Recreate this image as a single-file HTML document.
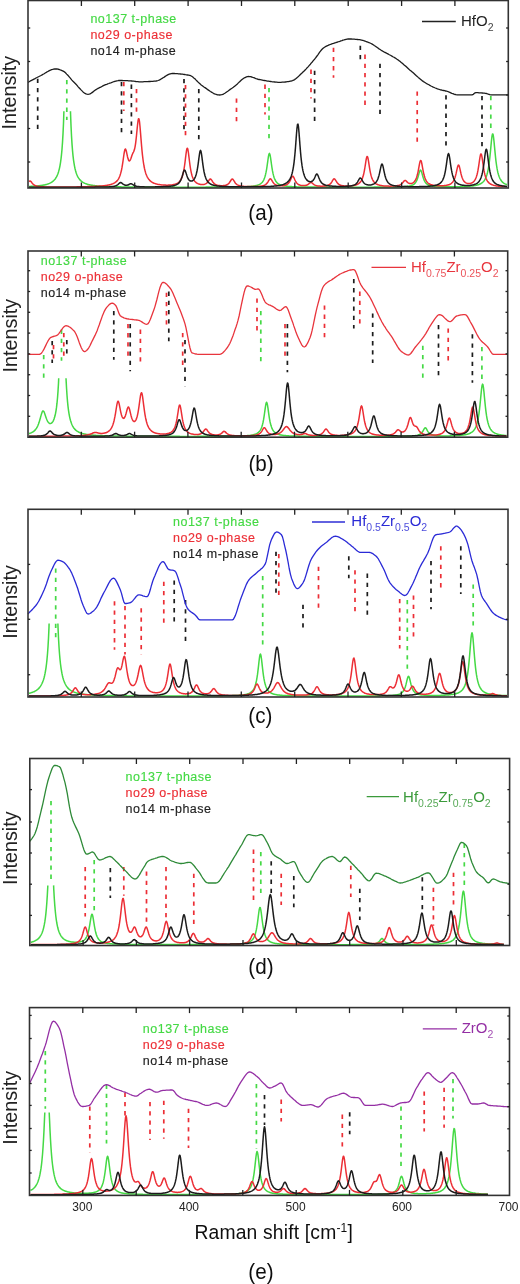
<!DOCTYPE html>
<html><head><meta charset="utf-8"><style>
html,body{margin:0;padding:0;background:#fff;}
body{width:520px;height:1284px;position:relative;overflow:hidden;font-family:"Liberation Sans", sans-serif;}
svg{position:absolute;left:0;top:0;}
.t{position:absolute;white-space:nowrap;line-height:1;}
</style></head><body>
<svg width="520" height="1284" viewBox="0 0 520 1284" shape-rendering="geometricPrecision">
<defs><filter id="bl" filterUnits="userSpaceOnUse" x="0" y="0" width="520" height="1284"><feGaussianBlur stdDeviation="0.35"/></filter></defs>
<rect width="520" height="1284" fill="#fff"/>
<g filter="url(#bl)">
<polyline fill="none" stroke="#44d944" stroke-width="1.5" stroke-linejoin="round" points="29.0,186.4 29.5,186.4 30.0,186.4 30.5,186.4 31.0,186.3 31.5,186.3 32.0,186.3 32.5,186.3 33.0,186.2 33.5,186.2 34.0,186.2 34.5,186.1 35.0,186.1 35.5,186.1 36.0,186.0 36.5,186.0 37.0,185.9 37.5,185.9 38.0,185.8 38.5,185.8 39.0,185.7 39.5,185.7 40.0,185.6 40.5,185.5 41.0,185.5 41.5,185.4 42.0,185.3 42.5,185.3 43.0,185.2 43.5,185.1 44.0,185.0 44.5,184.9 45.0,184.8 45.5,184.7 46.0,184.5 46.5,184.4 47.0,184.3 47.5,184.1 48.0,183.9 48.5,183.8 49.0,183.6 49.5,183.4 50.0,183.1 50.5,182.9 51.0,182.6 51.5,182.3 52.0,182.0 52.5,181.6 53.0,181.2 53.5,180.8 54.0,180.3 54.5,179.8 55.0,179.2 55.5,178.5 56.0,177.7 56.5,176.9 57.0,175.9 57.5,174.7 58.0,173.4 58.5,171.9 59.0,170.1 59.5,168.1 60.0,165.6 60.5,162.6 61.0,159.0 61.5,154.6 62.0,149.2 62.5,142.4 63.0,133.9 63.5,123.2 63.9,111.2"/>
<polyline fill="none" stroke="#44d944" stroke-width="1.5" stroke-linejoin="round" points="70.5,111.2 70.5,112.4 71.0,125.5 71.5,135.8 72.0,143.9 72.5,150.4 73.0,155.6 73.5,159.8 74.0,163.2 74.5,166.1 75.0,168.5 75.5,170.5 76.0,172.2 76.5,173.7 77.0,175.0 77.5,176.1 78.0,177.1 78.5,177.9 79.0,178.6 79.5,179.3 80.0,179.9 80.5,180.4 81.0,180.9 81.5,181.3 82.0,181.7 82.5,182.1 83.0,182.4 83.5,182.7 84.0,182.9 84.5,183.2 85.0,183.4 85.5,183.6 86.0,183.8 86.5,184.0 87.0,184.1 87.5,184.3 88.0,184.4 88.5,184.6 89.0,184.7 89.5,184.8 90.0,184.9 90.5,185.0 91.0,185.1 91.5,185.2 92.0,185.3 92.5,185.3 93.0,185.4 93.5,185.5 94.0,185.6 94.5,185.6 95.0,185.7 95.5,185.7 96.0,185.8 96.5,185.8 97.0,185.9 97.5,185.9 98.0,186.0 98.5,186.0 99.0,186.1 99.5,186.1 100.0,186.1 100.5,186.2 101.0,186.2 101.5,186.2 102.0,186.3 102.5,186.3 103.0,186.3 103.5,186.3 104.0,186.4 104.5,186.4 105.0,186.4 105.5,186.4 106.0,186.5 106.5,186.5 107.0,186.5 107.5,186.5 108.0,186.5 108.5,186.6 109.0,186.6 109.5,186.6 110.0,186.6 110.5,186.6 111.0,186.6 111.5,186.6 112.0,186.7 112.5,186.7 113.0,186.7 113.5,186.7 114.0,186.7 114.5,186.7 115.0,186.7 115.5,186.7 116.0,186.8 116.5,186.8 117.0,186.8 117.5,186.8 118.0,186.8 118.5,186.8 119.0,186.8 119.5,186.8 120.0,186.8 120.5,186.8 121.0,186.8 121.5,186.9 122.0,186.9 122.5,186.9 123.0,186.9 123.5,186.9 124.0,186.9 124.5,186.9 125.0,186.9 125.5,186.9 126.0,186.9 126.5,186.9 127.0,186.9 127.5,186.9 128.0,186.9 128.5,186.9 129.0,187.0 129.5,187.0 130.0,187.0 130.5,187.0 131.0,187.0 131.5,187.0 132.0,187.0 132.5,187.0 133.0,187.0 133.5,187.0 134.0,187.0 134.5,187.0 135.0,187.0 135.5,187.0 136.0,187.0 136.5,187.0 137.0,187.0 137.5,187.0 138.0,187.0 138.5,187.0 139.0,187.0 139.5,187.0 140.0,187.0 140.5,187.0 141.0,187.0 141.5,187.0 142.0,187.1 142.5,187.1 143.0,187.1 143.5,187.1 144.0,187.1 144.5,187.1 145.0,187.1 145.5,187.1 146.0,187.1 146.5,187.1 147.0,187.1 147.5,187.1 148.0,187.1 148.5,187.1 149.0,187.1 149.5,187.1 150.0,187.1 150.5,187.1 151.0,187.1 151.5,187.1 152.0,187.1 152.5,187.1 153.0,187.1 153.5,187.1 154.0,187.1 154.5,187.1 155.0,187.1 155.5,187.1 156.0,187.1 156.5,187.1 157.0,187.1 157.5,187.1 158.0,187.1 158.5,187.1 159.0,187.1 159.5,187.1 160.0,187.1 160.5,187.1 161.0,187.1 161.5,187.1 162.0,187.1 162.5,187.1 163.0,187.1 163.5,187.1 164.0,187.1 164.5,187.1 165.0,187.1 165.5,187.1 166.0,187.1 166.5,187.1 167.0,187.1 167.5,187.1 168.0,187.1 168.5,187.1 169.0,187.1 169.5,187.1 170.0,187.1 170.5,187.1 171.0,187.1 171.5,187.1 172.0,187.1 172.5,187.1 173.0,187.1 173.5,187.1 174.0,187.1 174.5,187.1 175.0,187.2 175.5,187.2 176.0,187.2 176.5,187.2 177.0,187.2 177.5,187.2 178.0,187.2 178.5,187.2 179.0,187.2 179.5,187.2 180.0,187.2 180.5,187.2 181.0,187.2 181.5,187.2 182.0,187.2 182.5,187.2 183.0,187.2 183.5,187.2 184.0,187.2 184.5,187.2 185.0,187.2 185.5,187.2 186.0,187.2 186.5,187.2 187.0,187.2 187.5,187.2 188.0,187.2 188.5,187.2 189.0,187.2 189.5,187.2 190.0,187.2 190.5,187.2 191.0,187.2 191.5,187.2 192.0,187.2 192.5,187.2 193.0,187.2 193.5,187.2 194.0,187.2 194.5,187.2 195.0,187.2 195.5,187.2 196.0,187.2 196.5,187.2 197.0,187.2 197.5,187.2 198.0,187.2 198.5,187.2 199.0,187.2 199.5,187.2 200.0,187.2 200.5,187.2 201.0,187.2 201.5,187.2 202.0,187.2 202.5,187.2 203.0,187.2 203.5,187.2 204.0,187.2 204.5,187.2 205.0,187.2 205.5,187.2 206.0,187.1 206.5,187.1 207.0,187.1 207.5,187.1 208.0,187.1 208.5,187.1 209.0,187.1 209.5,187.1 210.0,187.1 210.5,187.1 211.0,187.1 211.5,187.1 212.0,187.1 212.5,187.1 213.0,187.1 213.5,187.1 214.0,187.1 214.5,187.1 215.0,187.1 215.5,187.1 216.0,187.1 216.5,187.1 217.0,187.1 217.5,187.1 218.0,187.1 218.5,187.1 219.0,187.1 219.5,187.1 220.0,187.1 220.5,187.1 221.0,187.1 221.5,187.1 222.0,187.1 222.5,187.1 223.0,187.1 223.5,187.1 224.0,187.1 224.5,187.1 225.0,187.1 225.5,187.1 226.0,187.1 226.5,187.1 227.0,187.1 227.5,187.1 228.0,187.1 228.5,187.1 229.0,187.1 229.5,187.0 230.0,187.0 230.5,187.0 231.0,187.0 231.5,187.0 232.0,187.0 232.5,187.0 233.0,187.0 233.5,187.0 234.0,187.0 234.5,187.0 235.0,187.0 235.5,187.0 236.0,187.0 236.5,187.0 237.0,187.0 237.5,186.9 238.0,186.9 238.5,186.9 239.0,186.9 239.5,186.9 240.0,186.9 240.5,186.9 241.0,186.9 241.5,186.9 242.0,186.8 242.5,186.8 243.0,186.8 243.5,186.8 244.0,186.8 244.5,186.8 245.0,186.7 245.5,186.7 246.0,186.7 246.5,186.7 247.0,186.7 247.5,186.6 248.0,186.6 248.5,186.6 249.0,186.5 249.5,186.5 250.0,186.5 250.5,186.4 251.0,186.4 251.5,186.3 252.0,186.3 252.5,186.2 253.0,186.2 253.5,186.1 254.0,186.0 254.5,185.9 255.0,185.8 255.5,185.7 256.0,185.6 256.5,185.5 257.0,185.4 257.5,185.2 258.0,185.1 258.5,184.9 259.0,184.6 259.5,184.4 260.0,184.1 260.5,183.8 261.0,183.4 261.5,183.0 262.0,182.5 262.5,181.9 263.0,181.2 263.5,180.3 264.0,179.3 264.5,178.0 265.0,176.5 265.5,174.7 266.0,172.4 266.5,169.8 267.0,166.6 267.5,163.1 268.0,159.5 268.5,156.2 269.0,154.0 269.5,153.4 270.0,154.7 270.5,157.4 271.0,160.9 271.5,164.5 272.0,167.9 272.5,170.9 273.0,173.4 273.5,175.4 274.0,177.2 274.5,178.5 275.0,179.7 275.5,180.7 276.0,181.5 276.5,182.1 277.0,182.7 277.5,183.2 278.0,183.6 278.5,183.9 279.0,184.2 279.5,184.5 280.0,184.7 280.5,184.9 281.0,185.1 281.5,185.3 282.0,185.4 282.5,185.6 283.0,185.7 283.5,185.8 284.0,185.9 284.5,186.0 285.0,186.0 285.5,186.1 286.0,186.2 286.5,186.2 287.0,186.3 287.5,186.3 288.0,186.4 288.5,186.4 289.0,186.5 289.5,186.5 290.0,186.5 290.5,186.6 291.0,186.6 291.5,186.6 292.0,186.7 292.5,186.7 293.0,186.7 293.5,186.7 294.0,186.8 294.5,186.8 295.0,186.8 295.5,186.8 296.0,186.8 296.5,186.8 297.0,186.9 297.5,186.9 298.0,186.9 298.5,186.9 299.0,186.9 299.5,186.9 300.0,186.9 300.5,186.9 301.0,186.9 301.5,187.0 302.0,187.0 302.5,187.0 303.0,187.0 303.5,187.0 304.0,187.0 304.5,187.0 305.0,187.0 305.5,187.0 306.0,187.0 306.5,187.0 307.0,187.0 307.5,187.0 308.0,187.0 308.5,187.1 309.0,187.1 309.5,187.1 310.0,187.1 310.5,187.1 311.0,187.1 311.5,187.1 312.0,187.1 312.5,187.1 313.0,187.1 313.5,187.1 314.0,187.1 314.5,187.1 315.0,187.1 315.5,187.1 316.0,187.1 316.5,187.1 317.0,187.1 317.5,187.1 318.0,187.1 318.5,187.1 319.0,187.1 319.5,187.1 320.0,187.1 320.5,187.1 321.0,187.1 321.5,187.1 322.0,187.1 322.5,187.1 323.0,187.1 323.5,187.1 324.0,187.1 324.5,187.1 325.0,187.1 325.5,187.1 326.0,187.1 326.5,187.2 327.0,187.2 327.5,187.2 328.0,187.2 328.5,187.2 329.0,187.2 329.5,187.2 330.0,187.2 330.5,187.2 331.0,187.2 331.5,187.2 332.0,187.2 332.5,187.2 333.0,187.2 333.5,187.2 334.0,187.2 334.5,187.2 335.0,187.2 335.5,187.2 336.0,187.2 336.5,187.2 337.0,187.2 337.5,187.2 338.0,187.2 338.5,187.2 339.0,187.2 339.5,187.2 340.0,187.2 340.5,187.2 341.0,187.2 341.5,187.2 342.0,187.2 342.5,187.2 343.0,187.2 343.5,187.2 344.0,187.2 344.5,187.2 345.0,187.2 345.5,187.2 346.0,187.2 346.5,187.2 347.0,187.2 347.5,187.2 348.0,187.2 348.5,187.2 349.0,187.2 349.5,187.2 350.0,187.2 350.5,187.2 351.0,187.2 351.5,187.2 352.0,187.2 352.5,187.2 353.0,187.2 353.5,187.2 354.0,187.2 354.5,187.2 355.0,187.2 355.5,187.2 356.0,187.2 356.5,187.2 357.0,187.2 357.5,187.2 358.0,187.2 358.5,187.2 359.0,187.2 359.5,187.2 360.0,187.2 360.5,187.2 361.0,187.2 361.5,187.2 362.0,187.2 362.5,187.2 363.0,187.2 363.5,187.2 364.0,187.2 364.5,187.2 365.0,187.2 365.5,187.2 366.0,187.2 366.5,187.2 367.0,187.2 367.5,187.2 368.0,187.2 368.5,187.2 369.0,187.2 369.5,187.2 370.0,187.2 370.5,187.2 371.0,187.2 371.5,187.2 372.0,187.2 372.5,187.2 373.0,187.2 373.5,187.2 374.0,187.1 374.5,187.1 375.0,187.1 375.5,187.1 376.0,187.1 376.5,187.1 377.0,187.1 377.5,187.1 378.0,187.1 378.5,187.1 379.0,187.1 379.5,187.1 380.0,187.1 380.5,187.1 381.0,187.1 381.5,187.1 382.0,187.1 382.5,187.1 383.0,187.1 383.5,187.1 384.0,187.1 384.5,187.1 385.0,187.1 385.5,187.1 386.0,187.1 386.5,187.1 387.0,187.1 387.5,187.1 388.0,187.1 388.5,187.1 389.0,187.1 389.5,187.1 390.0,187.1 390.5,187.0 391.0,187.0 391.5,187.0 392.0,187.0 392.5,187.0 393.0,187.0 393.5,187.0 394.0,187.0 394.5,187.0 395.0,187.0 395.5,187.0 396.0,187.0 396.5,186.9 397.0,186.9 397.5,186.9 398.0,186.9 398.5,186.9 399.0,186.9 399.5,186.9 400.0,186.8 400.5,186.8 401.0,186.8 401.5,186.8 402.0,186.8 402.5,186.7 403.0,186.7 403.5,186.7 404.0,186.7 404.5,186.6 405.0,186.6 405.5,186.5 406.0,186.5 406.5,186.4 407.0,186.4 407.5,186.3 408.0,186.3 408.5,186.2 409.0,186.1 409.5,186.0 410.0,185.9 410.5,185.8 411.0,185.6 411.5,185.5 412.0,185.3 412.5,185.1 413.0,184.8 413.5,184.5 414.0,184.2 414.5,183.8 415.0,183.2 415.5,182.6 416.0,181.9 416.5,181.0 417.0,179.9 417.5,178.6 418.0,177.0 418.5,175.3 419.0,173.4 419.5,171.7 420.0,170.5 420.5,170.0 421.0,170.5 421.5,171.7 422.0,173.4 422.5,175.3 423.0,177.0 423.5,178.6 424.0,179.9 424.5,181.0 425.0,181.9 425.5,182.6 426.0,183.2 426.5,183.7 427.0,184.1 427.5,184.5 428.0,184.8 428.5,185.0 429.0,185.2 429.5,185.4 430.0,185.6 430.5,185.7 431.0,185.8 431.5,185.9 432.0,186.0 432.5,186.1 433.0,186.2 433.5,186.3 434.0,186.3 434.5,186.4 435.0,186.4 435.5,186.5 436.0,186.5 436.5,186.5 437.0,186.6 437.5,186.6 438.0,186.6 438.5,186.6 439.0,186.7 439.5,186.7 440.0,186.7 440.5,186.7 441.0,186.7 441.5,186.7 442.0,186.7 442.5,186.8 443.0,186.8 443.5,186.8 444.0,186.8 444.5,186.8 445.0,186.8 445.5,186.8 446.0,186.8 446.5,186.8 447.0,186.8 447.5,186.8 448.0,186.8 448.5,186.8 449.0,186.8 449.5,186.8 450.0,186.8 450.5,186.8 451.0,186.8 451.5,186.8 452.0,186.8 452.5,186.8 453.0,186.8 453.5,186.8 454.0,186.8 454.5,186.8 455.0,186.8 455.5,186.8 456.0,186.8 456.5,186.7 457.0,186.7 457.5,186.7 458.0,186.7 458.5,186.7 459.0,186.7 459.5,186.7 460.0,186.7 460.5,186.7 461.0,186.6 461.5,186.6 462.0,186.6 462.5,186.6 463.0,186.6 463.5,186.6 464.0,186.5 464.5,186.5 465.0,186.5 465.5,186.5 466.0,186.5 466.5,186.4 467.0,186.4 467.5,186.4 468.0,186.3 468.5,186.3 469.0,186.3 469.5,186.2 470.0,186.2 470.5,186.1 471.0,186.1 471.5,186.0 472.0,186.0 472.5,185.9 473.0,185.9 473.5,185.8 474.0,185.7 474.5,185.6 475.0,185.5 475.5,185.4 476.0,185.3 476.5,185.2 477.0,185.1 477.5,185.0 478.0,184.8 478.5,184.7 479.0,184.5 479.5,184.3 480.0,184.0 480.5,183.8 481.0,183.5 481.5,183.2 482.0,182.8 482.5,182.4 483.0,182.0 483.5,181.5 484.0,180.9 484.5,180.2 485.0,179.4 485.5,178.4 486.0,177.3 486.5,176.0 487.0,174.4 487.5,172.5 488.0,170.3 488.5,167.6 489.0,164.3 489.5,160.5 490.0,156.0 490.5,150.9 491.0,145.5 491.5,140.3 492.0,136.1 492.5,133.9 493.0,134.2 493.5,136.9 494.0,141.3 494.5,146.6 495.0,151.9 495.5,156.9 496.0,161.3 496.5,165.0 497.0,168.2 497.5,170.8 498.0,173.0 498.5,174.8 499.0,176.3 499.5,177.6 500.0,178.6 500.5,179.5 501.0,180.3 501.5,181.0 502.0,181.6 502.5,182.1 503.0,182.6 503.5,182.9 504.0,183.3 504.5,183.6 505.0,183.9 505.5,184.1 506.0,184.3 506.5,184.5 507.0,184.7"/>
<polyline fill="none" stroke="#ec2f36" stroke-width="1.5" stroke-linejoin="round" points="29.0,181.6 29.5,181.2 30.0,181.0 30.5,181.2 31.0,181.6 31.5,182.2 32.0,182.9 32.5,183.5 33.0,184.1 33.5,184.5 34.0,184.9 34.5,185.3 35.0,185.5 35.5,185.7 36.0,185.9 36.5,186.1 37.0,186.2 37.5,186.3 38.0,186.4 38.5,186.5 39.0,186.5 39.5,186.6 40.0,186.6 40.5,186.7 41.0,186.7 41.5,186.7 42.0,186.8 42.5,186.8 43.0,186.8 43.5,186.8 44.0,186.8 44.5,186.9 45.0,186.9 45.5,186.9 46.0,186.9 46.5,186.9 47.0,186.9 47.5,186.9 48.0,186.9 48.5,186.9 49.0,186.9 49.5,187.0 50.0,187.0 50.5,187.0 51.0,187.0 51.5,187.0 52.0,187.0 52.5,187.0 53.0,187.0 53.5,187.0 54.0,187.0 54.5,187.0 55.0,187.0 55.5,187.0 56.0,187.0 56.5,187.0 57.0,187.0 57.5,187.0 58.0,187.0 58.5,187.0 59.0,187.0 59.5,187.0 60.0,187.0 60.5,187.0 61.0,187.0 61.5,187.0 62.0,187.0 62.5,187.0 63.0,187.0 63.5,187.0 64.0,187.0 64.5,187.0 65.0,187.0 65.5,187.0 66.0,187.0 66.5,186.9 67.0,186.9 67.5,186.9 68.0,186.9 68.5,186.9 69.0,186.9 69.5,186.9 70.0,186.9 70.5,186.9 71.0,186.9 71.5,186.9 72.0,186.9 72.5,186.9 73.0,186.9 73.5,186.9 74.0,186.9 74.5,186.9 75.0,186.9 75.5,186.9 76.0,186.9 76.5,186.9 77.0,186.8 77.5,186.8 78.0,186.8 78.5,186.8 79.0,186.8 79.5,186.8 80.0,186.8 80.5,186.8 81.0,186.8 81.5,186.8 82.0,186.8 82.5,186.8 83.0,186.7 83.5,186.7 84.0,186.7 84.5,186.7 85.0,186.7 85.5,186.7 86.0,186.7 86.5,186.7 87.0,186.7 87.5,186.6 88.0,186.6 88.5,186.6 89.0,186.6 89.5,186.6 90.0,186.6 90.5,186.6 91.0,186.5 91.5,186.5 92.0,186.5 92.5,186.5 93.0,186.5 93.5,186.4 94.0,186.4 94.5,186.4 95.0,186.4 95.5,186.4 96.0,186.3 96.5,186.3 97.0,186.3 97.5,186.3 98.0,186.2 98.5,186.2 99.0,186.2 99.5,186.1 100.0,186.1 100.5,186.0 101.0,186.0 101.5,186.0 102.0,185.9 102.5,185.9 103.0,185.8 103.5,185.8 104.0,185.7 104.5,185.7 105.0,185.6 105.5,185.5 106.0,185.5 106.5,185.4 107.0,185.3 107.5,185.2 108.0,185.1 108.5,185.0 109.0,184.9 109.5,184.8 110.0,184.7 110.5,184.6 111.0,184.4 111.5,184.2 112.0,184.1 112.5,183.9 113.0,183.7 113.5,183.4 114.0,183.2 114.5,182.9 115.0,182.6 115.5,182.2 116.0,181.8 116.5,181.4 117.0,180.9 117.5,180.3 118.0,179.6 118.5,178.8 119.0,177.9 119.5,176.8 120.0,175.5 120.5,173.9 121.0,172.1 121.5,170.0 122.0,167.4 122.5,164.4 123.0,161.1 123.5,157.5 124.0,154.0 124.5,151.1 125.0,149.3 125.5,149.0 126.0,150.0 126.5,152.0 127.0,154.4 127.5,156.7 128.0,158.6 128.5,160.0 129.0,160.8 129.5,160.9 130.0,160.5 130.5,159.6 131.0,158.3 131.5,156.8 132.0,155.3 132.5,154.0 133.0,152.9 133.5,152.0 134.0,150.9 134.5,149.3 135.0,147.1 135.5,144.1 136.0,140.2 136.5,135.5 137.0,130.3 137.5,125.2 138.0,121.0 138.5,118.7 139.0,118.9 139.5,121.7 140.0,126.5 140.5,132.6 141.0,138.9 141.5,145.0 142.0,150.6 142.5,155.4 143.0,159.5 143.5,163.0 144.0,166.0 144.5,168.5 145.0,170.6 145.5,172.4 146.0,173.9 146.5,175.2 147.0,176.3 147.5,177.3 148.0,178.1 148.5,178.9 149.0,179.5 149.5,180.1 150.0,180.6 150.5,181.1 151.0,181.5 151.5,181.8 152.0,182.2 152.5,182.5 153.0,182.7 153.5,183.0 154.0,183.2 154.5,183.4 155.0,183.6 155.5,183.7 156.0,183.9 156.5,184.0 157.0,184.1 157.5,184.3 158.0,184.4 158.5,184.5 159.0,184.6 159.5,184.6 160.0,184.7 160.5,184.8 161.0,184.8 161.5,184.9 162.0,184.9 162.5,185.0 163.0,185.0 163.5,185.1 164.0,185.1 164.5,185.1 165.0,185.1 165.5,185.1 166.0,185.2 166.5,185.2 167.0,185.2 167.5,185.2 168.0,185.2 168.5,185.1 169.0,185.1 169.5,185.1 170.0,185.1 170.5,185.0 171.0,185.0 171.5,184.9 172.0,184.9 172.5,184.8 173.0,184.7 173.5,184.6 174.0,184.5 174.5,184.4 175.0,184.2 175.5,184.1 176.0,183.9 176.5,183.7 177.0,183.5 177.5,183.2 178.0,182.9 178.5,182.5 179.0,182.1 179.5,181.6 180.0,181.0 180.5,180.3 181.0,179.4 181.5,178.4 182.0,177.2 182.5,175.7 183.0,174.0 183.5,171.8 184.0,169.1 184.5,166.0 185.0,162.3 185.5,158.2 186.0,154.1 186.5,150.6 187.0,148.4 187.5,148.2 188.0,150.0 188.5,153.3 189.0,157.4 189.5,161.5 190.0,165.3 190.5,168.6 191.0,171.3 191.5,173.6 192.0,175.5 192.5,177.0 193.0,178.2 193.5,179.3 194.0,180.2 194.5,180.9 195.0,181.5 195.5,182.0 196.0,182.5 196.5,182.8 197.0,183.2 197.5,183.4 198.0,183.7 198.5,183.9 199.0,184.0 199.5,184.2 200.0,184.3 200.5,184.4 201.0,184.5 201.5,184.5 202.0,184.5 202.5,184.5 203.0,184.5 203.5,184.5 204.0,184.4 204.5,184.3 205.0,184.1 205.5,183.9 206.0,183.6 206.5,183.3 207.0,182.9 207.5,182.3 208.0,181.7 208.5,181.0 209.0,180.2 209.5,179.6 210.0,179.1 210.5,179.0 211.0,179.3 211.5,179.9 212.0,180.7 212.5,181.5 213.0,182.2 213.5,182.8 214.0,183.4 214.5,183.8 215.0,184.2 215.5,184.5 216.0,184.8 216.5,185.0 217.0,185.1 217.5,185.3 218.0,185.4 218.5,185.5 219.0,185.5 219.5,185.6 220.0,185.6 220.5,185.7 221.0,185.7 221.5,185.7 222.0,185.7 222.5,185.7 223.0,185.7 223.5,185.6 224.0,185.6 224.5,185.5 225.0,185.4 225.5,185.3 226.0,185.1 226.5,185.0 227.0,184.7 227.5,184.4 228.0,184.1 228.5,183.7 229.0,183.2 229.5,182.5 230.0,181.8 230.5,181.0 231.0,180.2 231.5,179.5 232.0,179.1 232.5,179.0 233.0,179.4 233.5,180.1 234.0,180.9 234.5,181.7 235.0,182.5 235.5,183.2 236.0,183.7 236.5,184.2 237.0,184.6 237.5,184.9 238.0,185.1 238.5,185.4 239.0,185.5 239.5,185.7 240.0,185.8 240.5,185.9 241.0,186.0 241.5,186.1 242.0,186.2 242.5,186.2 243.0,186.3 243.5,186.3 244.0,186.4 244.5,186.4 245.0,186.4 245.5,186.5 246.0,186.5 246.5,186.5 247.0,186.5 247.5,186.5 248.0,186.5 248.5,186.6 249.0,186.6 249.5,186.6 250.0,186.6 250.5,186.6 251.0,186.6 251.5,186.6 252.0,186.6 252.5,186.6 253.0,186.6 253.5,186.6 254.0,186.6 254.5,186.6 255.0,186.5 255.5,186.5 256.0,186.5 256.5,186.5 257.0,186.5 257.5,186.4 258.0,186.4 258.5,186.4 259.0,186.3 259.5,186.3 260.0,186.2 260.5,186.2 261.0,186.1 261.5,186.0 262.0,186.0 262.5,185.8 263.0,185.7 263.5,185.6 264.0,185.4 264.5,185.2 265.0,184.9 265.5,184.6 266.0,184.2 266.5,183.8 267.0,183.2 267.5,182.6 268.0,181.8 268.5,180.9 269.0,180.1 269.5,179.3 270.0,178.9 270.5,178.8 271.0,179.2 271.5,179.9 272.0,180.7 272.5,181.6 273.0,182.3 273.5,183.0 274.0,183.6 274.5,184.0 275.0,184.4 275.5,184.7 276.0,185.0 276.5,185.2 277.0,185.3 277.5,185.4 278.0,185.5 278.5,185.6 279.0,185.7 279.5,185.7 280.0,185.8 280.5,185.8 281.0,185.8 281.5,185.8 282.0,185.8 282.5,185.7 283.0,185.7 283.5,185.6 284.0,185.5 284.5,185.4 285.0,185.3 285.5,185.1 286.0,185.0 286.5,184.7 287.0,184.5 287.5,184.1 288.0,183.7 288.5,183.2 289.0,182.6 289.5,181.8 290.0,180.9 290.5,179.9 291.0,178.8 291.5,177.7 292.0,176.7 292.5,176.2 293.0,176.3 293.5,176.9 294.0,177.9 294.5,179.0 295.0,180.1 295.5,181.1 296.0,182.0 296.5,182.7 297.0,183.3 297.5,183.8 298.0,184.2 298.5,184.5 299.0,184.8 299.5,185.0 300.0,185.1 300.5,185.3 301.0,185.4 301.5,185.5 302.0,185.5 302.5,185.6 303.0,185.6 303.5,185.6 304.0,185.6 304.5,185.6 305.0,185.5 305.5,185.5 306.0,185.3 306.5,185.2 307.0,185.0 307.5,184.8 308.0,184.5 308.5,184.1 309.0,183.7 309.5,183.3 310.0,182.9 310.5,182.6 311.0,182.5 311.5,182.6 312.0,182.9 312.5,183.3 313.0,183.8 313.5,184.2 314.0,184.6 314.5,184.9 315.0,185.2 315.5,185.4 316.0,185.6 316.5,185.7 317.0,185.8 317.5,185.9 318.0,186.0 318.5,186.0 319.0,186.1 319.5,186.1 320.0,186.1 320.5,186.2 321.0,186.2 321.5,186.2 322.0,186.2 322.5,186.2 323.0,186.1 323.5,186.1 324.0,186.1 324.5,186.0 325.0,186.0 325.5,185.9 326.0,185.8 326.5,185.7 327.0,185.6 327.5,185.4 328.0,185.3 328.5,185.0 329.0,184.8 329.5,184.5 330.0,184.1 330.5,183.6 331.0,183.1 331.5,182.4 332.0,181.6 332.5,180.7 333.0,179.9 333.5,179.2 334.0,178.8 334.5,178.9 335.0,179.3 335.5,180.1 336.0,180.9 336.5,181.7 337.0,182.5 337.5,183.1 338.0,183.7 338.5,184.1 339.0,184.5 339.5,184.8 340.0,185.0 340.5,185.2 341.0,185.4 341.5,185.5 342.0,185.6 342.5,185.7 343.0,185.8 343.5,185.8 344.0,185.9 344.5,185.9 345.0,186.0 345.5,186.0 346.0,186.0 346.5,186.0 347.0,186.0 347.5,186.0 348.0,186.0 348.5,186.0 349.0,186.0 349.5,185.9 350.0,185.9 350.5,185.9 351.0,185.8 351.5,185.8 352.0,185.7 352.5,185.7 353.0,185.6 353.5,185.5 354.0,185.4 354.5,185.3 355.0,185.2 355.5,185.0 356.0,184.9 356.5,184.7 357.0,184.5 357.5,184.3 358.0,184.0 358.5,183.7 359.0,183.3 359.5,182.9 360.0,182.4 360.5,181.9 361.0,181.2 361.5,180.3 362.0,179.3 362.5,178.1 363.0,176.6 363.5,174.8 364.0,172.6 364.5,170.0 365.0,167.0 365.5,163.8 366.0,160.5 366.5,157.9 367.0,156.4 367.5,156.6 368.0,158.3 368.5,161.2 369.0,164.4 369.5,167.7 370.0,170.6 370.5,173.1 371.0,175.2 371.5,176.9 372.0,178.4 372.5,179.5 373.0,180.5 373.5,181.3 374.0,182.0 374.5,182.5 375.0,183.0 375.5,183.4 376.0,183.8 376.5,184.1 377.0,184.3 377.5,184.5 378.0,184.7 378.5,184.9 379.0,185.1 379.5,185.2 380.0,185.3 380.5,185.4 381.0,185.5 381.5,185.6 382.0,185.7 382.5,185.7 383.0,185.8 383.5,185.9 384.0,185.9 384.5,186.0 385.0,186.0 385.5,186.0 386.0,186.1 386.5,186.1 387.0,186.1 387.5,186.1 388.0,186.1 388.5,186.1 389.0,186.2 389.5,186.2 390.0,186.2 390.5,186.2 391.0,186.2 391.5,186.1 392.0,186.1 392.5,186.1 393.0,186.1 393.5,186.1 394.0,186.0 394.5,186.0 395.0,186.0 395.5,185.9 396.0,185.9 396.5,185.8 397.0,185.7 397.5,185.6 398.0,185.5 398.5,185.4 399.0,185.3 399.5,185.1 400.0,184.9 400.5,184.6 401.0,184.3 401.5,183.9 402.0,183.4 402.5,182.9 403.0,182.3 403.5,181.7 404.0,181.1 404.5,180.6 405.0,180.4 405.5,180.5 406.0,180.8 406.5,181.3 407.0,181.9 407.5,182.3 408.0,182.8 408.5,183.1 409.0,183.3 409.5,183.5 410.0,183.5 410.5,183.6 411.0,183.5 411.5,183.4 412.0,183.3 412.5,183.1 413.0,182.8 413.5,182.4 414.0,182.0 414.5,181.4 415.0,180.8 415.5,179.9 416.0,178.9 416.5,177.7 417.0,176.1 417.5,174.3 418.0,172.1 418.5,169.5 419.0,166.7 419.5,163.9 420.0,161.7 420.5,160.4 421.0,160.6 421.5,162.1 422.0,164.5 422.5,167.3 423.0,170.1 423.5,172.6 424.0,174.8 424.5,176.6 425.0,178.1 425.5,179.4 426.0,180.4 426.5,181.2 427.0,181.9 427.5,182.5 428.0,183.0 428.5,183.4 429.0,183.7 429.5,184.0 430.0,184.3 430.5,184.5 431.0,184.7 431.5,184.8 432.0,185.0 432.5,185.1 433.0,185.2 433.5,185.3 434.0,185.4 434.5,185.5 435.0,185.5 435.5,185.6 436.0,185.7 436.5,185.7 437.0,185.7 437.5,185.8 438.0,185.8 438.5,185.8 439.0,185.8 439.5,185.8 440.0,185.8 440.5,185.8 441.0,185.8 441.5,185.8 442.0,185.8 442.5,185.8 443.0,185.7 443.5,185.7 444.0,185.7 444.5,185.6 445.0,185.6 445.5,185.5 446.0,185.4 446.5,185.3 447.0,185.2 447.5,185.1 448.0,185.0 448.5,184.8 449.0,184.7 449.5,184.5 450.0,184.2 450.5,184.0 451.0,183.7 451.5,183.3 452.0,182.8 452.5,182.3 453.0,181.7 453.5,180.9 454.0,180.0 454.5,178.9 455.0,177.5 455.5,175.8 456.0,173.9 456.5,171.7 457.0,169.3 457.5,167.2 458.0,165.6 458.5,165.0 459.0,165.6 459.5,167.1 460.0,169.2 460.5,171.5 461.0,173.7 461.5,175.6 462.0,177.2 462.5,178.5 463.0,179.6 463.5,180.5 464.0,181.2 464.5,181.8 465.0,182.2 465.5,182.6 466.0,182.9 466.5,183.1 467.0,183.3 467.5,183.4 468.0,183.5 468.5,183.6 469.0,183.6 469.5,183.5 470.0,183.5 470.5,183.4 471.0,183.2 471.5,183.1 472.0,182.8 472.5,182.5 473.0,182.2 473.5,181.8 474.0,181.3 474.5,180.6 475.0,179.9 475.5,178.9 476.0,177.8 476.5,176.4 477.0,174.7 477.5,172.7 478.0,170.2 478.5,167.2 479.0,163.9 479.5,160.3 480.0,157.1 480.5,154.7 481.0,153.8 481.5,154.7 482.0,157.1 482.5,160.4 483.0,164.0 483.5,167.4 484.0,170.4 484.5,172.9 485.0,175.0 485.5,176.8 486.0,178.2 486.5,179.4 487.0,180.4 487.5,181.2 488.0,181.9 488.5,182.4 489.0,182.9 489.5,183.3 490.0,183.7 490.5,184.0 491.0,184.3 491.5,184.5 492.0,184.7 492.5,184.9 493.0,185.1 493.5,185.3 494.0,185.4 494.5,185.5 495.0,185.6 495.5,185.7 496.0,185.8 496.5,185.9 497.0,186.0 497.5,186.0 498.0,186.1 498.5,186.2 499.0,186.2 499.5,186.3 500.0,186.3 500.5,186.3 501.0,186.4 501.5,186.4 502.0,186.5 502.5,186.5 503.0,186.5 503.5,186.6 504.0,186.6 504.5,186.6 505.0,186.6 505.5,186.7 506.0,186.7 506.5,186.7 507.0,186.7"/>
<polyline fill="none" stroke="#1c1c1c" stroke-width="1.5" stroke-linejoin="round" points="29.0,187.3 29.5,187.3 30.0,187.3 30.5,187.3 31.0,187.3 31.5,187.3 32.0,187.3 32.5,187.3 33.0,187.3 33.5,187.3 34.0,187.3 34.5,187.3 35.0,187.3 35.5,187.3 36.0,187.3 36.5,187.3 37.0,187.3 37.5,187.3 38.0,187.3 38.5,187.3 39.0,187.3 39.5,187.3 40.0,187.3 40.5,187.3 41.0,187.3 41.5,187.3 42.0,187.3 42.5,187.3 43.0,187.3 43.5,187.3 44.0,187.3 44.5,187.3 45.0,187.3 45.5,187.3 46.0,187.3 46.5,187.3 47.0,187.3 47.5,187.3 48.0,187.2 48.5,187.2 49.0,187.2 49.5,187.2 50.0,187.2 50.5,187.2 51.0,187.2 51.5,187.2 52.0,187.2 52.5,187.2 53.0,187.2 53.5,187.2 54.0,187.2 54.5,187.2 55.0,187.2 55.5,187.2 56.0,187.2 56.5,187.2 57.0,187.2 57.5,187.2 58.0,187.2 58.5,187.2 59.0,187.2 59.5,187.2 60.0,187.2 60.5,187.2 61.0,187.2 61.5,187.2 62.0,187.2 62.5,187.2 63.0,187.2 63.5,187.2 64.0,187.2 64.5,187.2 65.0,187.2 65.5,187.2 66.0,187.2 66.5,187.2 67.0,187.2 67.5,187.2 68.0,187.2 68.5,187.2 69.0,187.2 69.5,187.2 70.0,187.2 70.5,187.2 71.0,187.2 71.5,187.2 72.0,187.2 72.5,187.2 73.0,187.2 73.5,187.2 74.0,187.2 74.5,187.2 75.0,187.2 75.5,187.2 76.0,187.2 76.5,187.2 77.0,187.2 77.5,187.2 78.0,187.2 78.5,187.2 79.0,187.2 79.5,187.2 80.0,187.2 80.5,187.2 81.0,187.2 81.5,187.2 82.0,187.2 82.5,187.2 83.0,187.2 83.5,187.2 84.0,187.2 84.5,187.2 85.0,187.2 85.5,187.2 86.0,187.2 86.5,187.2 87.0,187.2 87.5,187.2 88.0,187.2 88.5,187.2 89.0,187.2 89.5,187.2 90.0,187.2 90.5,187.2 91.0,187.2 91.5,187.2 92.0,187.2 92.5,187.2 93.0,187.2 93.5,187.2 94.0,187.2 94.5,187.2 95.0,187.1 95.5,187.1 96.0,187.1 96.5,187.1 97.0,187.1 97.5,187.1 98.0,187.1 98.5,187.1 99.0,187.1 99.5,187.1 100.0,187.1 100.5,187.1 101.0,187.1 101.5,187.1 102.0,187.1 102.5,187.1 103.0,187.1 103.5,187.0 104.0,187.0 104.5,187.0 105.0,187.0 105.5,187.0 106.0,187.0 106.5,187.0 107.0,187.0 107.5,186.9 108.0,186.9 108.5,186.9 109.0,186.9 109.5,186.8 110.0,186.8 110.5,186.8 111.0,186.7 111.5,186.7 112.0,186.6 112.5,186.6 113.0,186.5 113.5,186.4 114.0,186.3 114.5,186.2 115.0,186.1 115.5,185.9 116.0,185.7 116.5,185.5 117.0,185.2 117.5,184.9 118.0,184.5 118.5,184.0 119.0,183.5 119.5,183.1 120.0,182.7 120.5,182.5 121.0,182.6 121.5,182.8 122.0,183.2 122.5,183.7 123.0,184.1 123.5,184.4 124.0,184.7 124.5,185.0 125.0,185.1 125.5,185.2 126.0,185.3 126.5,185.3 127.0,185.2 127.5,185.1 128.0,185.0 128.5,184.8 129.0,184.5 129.5,184.2 130.0,183.9 130.5,183.8 131.0,183.7 131.5,183.8 132.0,184.1 132.5,184.4 133.0,184.7 133.5,185.1 134.0,185.4 134.5,185.6 135.0,185.8 135.5,186.0 136.0,186.1 136.5,186.3 137.0,186.4 137.5,186.4 138.0,186.5 138.5,186.6 139.0,186.6 139.5,186.7 140.0,186.7 140.5,186.7 141.0,186.7 141.5,186.8 142.0,186.8 142.5,186.8 143.0,186.8 143.5,186.8 144.0,186.8 144.5,186.9 145.0,186.9 145.5,186.9 146.0,186.9 146.5,186.9 147.0,186.9 147.5,186.9 148.0,186.9 148.5,186.9 149.0,186.9 149.5,186.9 150.0,186.9 150.5,186.9 151.0,186.9 151.5,186.9 152.0,186.9 152.5,186.9 153.0,186.9 153.5,186.9 154.0,186.9 154.5,186.9 155.0,186.9 155.5,186.8 156.0,186.8 156.5,186.8 157.0,186.8 157.5,186.8 158.0,186.8 158.5,186.8 159.0,186.8 159.5,186.8 160.0,186.8 160.5,186.7 161.0,186.7 161.5,186.7 162.0,186.7 162.5,186.7 163.0,186.7 163.5,186.6 164.0,186.6 164.5,186.6 165.0,186.6 165.5,186.6 166.0,186.5 166.5,186.5 167.0,186.5 167.5,186.4 168.0,186.4 168.5,186.4 169.0,186.3 169.5,186.3 170.0,186.2 170.5,186.2 171.0,186.1 171.5,186.0 172.0,185.9 172.5,185.9 173.0,185.8 173.5,185.7 174.0,185.5 174.5,185.4 175.0,185.3 175.5,185.1 176.0,184.9 176.5,184.7 177.0,184.4 177.5,184.1 178.0,183.8 178.5,183.4 179.0,182.9 179.5,182.3 180.0,181.5 180.5,180.7 181.0,179.6 181.5,178.3 182.0,176.9 182.5,175.2 183.0,173.4 183.5,171.7 184.0,170.5 184.5,170.0 185.0,170.4 185.5,171.4 186.0,172.9 186.5,174.6 187.0,176.1 187.5,177.4 188.0,178.5 188.5,179.3 189.0,180.0 189.5,180.5 190.0,180.8 190.5,181.0 191.0,181.1 191.5,181.1 192.0,181.0 192.5,180.8 193.0,180.4 193.5,180.0 194.0,179.4 194.5,178.6 195.0,177.7 195.5,176.5 196.0,175.0 196.5,173.2 197.0,171.0 197.5,168.3 198.0,165.1 198.5,161.4 199.0,157.5 199.5,154.0 200.0,151.3 200.5,150.4 201.0,151.4 201.5,154.1 202.0,157.7 202.5,161.7 203.0,165.4 203.5,168.7 204.0,171.5 204.5,173.8 205.0,175.7 205.5,177.3 206.0,178.6 206.5,179.6 207.0,180.5 207.5,181.3 208.0,181.9 208.5,182.5 209.0,182.9 209.5,183.3 210.0,183.7 210.5,184.0 211.0,184.2 211.5,184.5 212.0,184.7 212.5,184.9 213.0,185.0 213.5,185.2 214.0,185.3 214.5,185.4 215.0,185.5 215.5,185.6 216.0,185.7 216.5,185.8 217.0,185.9 217.5,185.9 218.0,186.0 218.5,186.1 219.0,186.1 219.5,186.2 220.0,186.2 220.5,186.3 221.0,186.3 221.5,186.3 222.0,186.4 222.5,186.4 223.0,186.4 223.5,186.5 224.0,186.5 224.5,186.5 225.0,186.5 225.5,186.5 226.0,186.6 226.5,186.6 227.0,186.6 227.5,186.6 228.0,186.6 228.5,186.7 229.0,186.7 229.5,186.7 230.0,186.7 230.5,186.7 231.0,186.7 231.5,186.7 232.0,186.7 232.5,186.7 233.0,186.8 233.5,186.8 234.0,186.8 234.5,186.8 235.0,186.8 235.5,186.8 236.0,186.8 236.5,186.8 237.0,186.8 237.5,186.8 238.0,186.8 238.5,186.8 239.0,186.8 239.5,186.8 240.0,186.8 240.5,186.8 241.0,186.8 241.5,186.8 242.0,186.8 242.5,186.8 243.0,186.8 243.5,186.8 244.0,186.8 244.5,186.8 245.0,186.8 245.5,186.8 246.0,186.8 246.5,186.8 247.0,186.8 247.5,186.8 248.0,186.8 248.5,186.8 249.0,186.8 249.5,186.8 250.0,186.8 250.5,186.8 251.0,186.8 251.5,186.8 252.0,186.8 252.5,186.8 253.0,186.8 253.5,186.8 254.0,186.8 254.5,186.8 255.0,186.8 255.5,186.8 256.0,186.8 256.5,186.8 257.0,186.8 257.5,186.8 258.0,186.7 258.5,186.7 259.0,186.7 259.5,186.7 260.0,186.7 260.5,186.7 261.0,186.7 261.5,186.7 262.0,186.7 262.5,186.7 263.0,186.7 263.5,186.6 264.0,186.6 264.5,186.6 265.0,186.6 265.5,186.6 266.0,186.6 266.5,186.5 267.0,186.5 267.5,186.5 268.0,186.5 268.5,186.5 269.0,186.4 269.5,186.4 270.0,186.4 270.5,186.4 271.0,186.3 271.5,186.3 272.0,186.3 272.5,186.2 273.0,186.2 273.5,186.2 274.0,186.1 274.5,186.1 275.0,186.0 275.5,186.0 276.0,185.9 276.5,185.9 277.0,185.8 277.5,185.8 278.0,185.7 278.5,185.6 279.0,185.5 279.5,185.5 280.0,185.4 280.5,185.3 281.0,185.1 281.5,185.0 282.0,184.9 282.5,184.8 283.0,184.6 283.5,184.4 284.0,184.2 284.5,184.0 285.0,183.8 285.5,183.5 286.0,183.2 286.5,182.9 287.0,182.5 287.5,182.1 288.0,181.7 288.5,181.1 289.0,180.5 289.5,179.8 290.0,178.9 290.5,177.9 291.0,176.7 291.5,175.4 292.0,173.7 292.5,171.7 293.0,169.3 293.5,166.3 294.0,162.8 294.5,158.4 295.0,153.2 295.5,147.2 296.0,140.5 296.5,133.8 297.0,128.0 297.5,124.4 298.0,124.1 298.5,127.0 299.0,132.5 299.5,139.1 300.0,145.8 300.5,151.9 301.0,157.3 301.5,161.7 302.0,165.4 302.5,168.4 303.0,170.9 303.5,172.9 304.0,174.6 304.5,176.0 305.0,177.1 305.5,178.1 306.0,178.9 306.5,179.6 307.0,180.1 307.5,180.6 308.0,181.0 308.5,181.3 309.0,181.5 309.5,181.6 310.0,181.7 310.5,181.7 311.0,181.7 311.5,181.5 312.0,181.3 312.5,180.9 313.0,180.5 313.5,179.8 314.0,179.1 314.5,178.1 315.0,177.0 315.5,175.8 316.0,174.8 316.5,174.1 317.0,174.0 317.5,174.5 318.0,175.5 318.5,176.8 319.0,178.1 319.5,179.3 320.0,180.4 320.5,181.3 321.0,182.0 321.5,182.7 322.0,183.2 322.5,183.6 323.0,184.0 323.5,184.3 324.0,184.5 324.5,184.8 325.0,185.0 325.5,185.1 326.0,185.3 326.5,185.4 327.0,185.5 327.5,185.6 328.0,185.7 328.5,185.8 329.0,185.8 329.5,185.9 330.0,186.0 330.5,186.0 331.0,186.1 331.5,186.1 332.0,186.1 332.5,186.2 333.0,186.2 333.5,186.2 334.0,186.3 334.5,186.3 335.0,186.3 335.5,186.3 336.0,186.3 336.5,186.4 337.0,186.4 337.5,186.4 338.0,186.4 338.5,186.4 339.0,186.4 339.5,186.4 340.0,186.4 340.5,186.4 341.0,186.4 341.5,186.4 342.0,186.4 342.5,186.4 343.0,186.4 343.5,186.4 344.0,186.4 344.5,186.4 345.0,186.4 345.5,186.4 346.0,186.3 346.5,186.3 347.0,186.3 347.5,186.3 348.0,186.2 348.5,186.2 349.0,186.2 349.5,186.1 350.0,186.1 350.5,186.0 351.0,185.9 351.5,185.8 352.0,185.7 352.5,185.6 353.0,185.5 353.5,185.3 354.0,185.1 354.5,184.9 355.0,184.6 355.5,184.3 356.0,183.9 356.5,183.4 357.0,182.8 357.5,182.1 358.0,181.2 358.5,180.3 359.0,179.4 359.5,178.6 360.0,178.1 360.5,178.0 361.0,178.4 361.5,179.1 362.0,180.0 362.5,180.9 363.0,181.7 363.5,182.4 364.0,183.0 364.5,183.5 365.0,183.9 365.5,184.2 366.0,184.4 366.5,184.6 367.0,184.7 367.5,184.8 368.0,184.9 368.5,185.0 369.0,185.0 369.5,185.0 370.0,185.0 370.5,184.9 371.0,184.9 371.5,184.8 372.0,184.6 372.5,184.5 373.0,184.3 373.5,184.1 374.0,183.9 374.5,183.5 375.0,183.2 375.5,182.7 376.0,182.2 376.5,181.5 377.0,180.7 377.5,179.8 378.0,178.6 378.5,177.1 379.0,175.4 379.5,173.3 380.0,171.0 380.5,168.6 381.0,166.3 381.5,164.6 382.0,164.0 382.5,164.6 383.0,166.3 383.5,168.6 384.0,171.1 384.5,173.4 385.0,175.5 385.5,177.3 386.0,178.7 386.5,179.9 387.0,180.9 387.5,181.7 388.0,182.4 388.5,183.0 389.0,183.4 389.5,183.8 390.0,184.2 390.5,184.5 391.0,184.7 391.5,184.9 392.0,185.1 392.5,185.3 393.0,185.4 393.5,185.5 394.0,185.7 394.5,185.8 395.0,185.8 395.5,185.9 396.0,186.0 396.5,186.1 397.0,186.1 397.5,186.2 398.0,186.2 398.5,186.3 399.0,186.3 399.5,186.3 400.0,186.4 400.5,186.4 401.0,186.4 401.5,186.5 402.0,186.5 402.5,186.5 403.0,186.5 403.5,186.5 404.0,186.6 404.5,186.6 405.0,186.6 405.5,186.6 406.0,186.6 406.5,186.6 407.0,186.6 407.5,186.6 408.0,186.7 408.5,186.7 409.0,186.7 409.5,186.7 410.0,186.7 410.5,186.7 411.0,186.7 411.5,186.7 412.0,186.7 412.5,186.7 413.0,186.7 413.5,186.7 414.0,186.7 414.5,186.7 415.0,186.7 415.5,186.7 416.0,186.7 416.5,186.7 417.0,186.7 417.5,186.7 418.0,186.7 418.5,186.7 419.0,186.7 419.5,186.6 420.0,186.6 420.5,186.6 421.0,186.6 421.5,186.6 422.0,186.6 422.5,186.6 423.0,186.6 423.5,186.5 424.0,186.5 424.5,186.5 425.0,186.5 425.5,186.5 426.0,186.4 426.5,186.4 427.0,186.4 427.5,186.4 428.0,186.3 428.5,186.3 429.0,186.3 429.5,186.2 430.0,186.2 430.5,186.1 431.0,186.1 431.5,186.0 432.0,186.0 432.5,185.9 433.0,185.8 433.5,185.8 434.0,185.7 434.5,185.6 435.0,185.5 435.5,185.3 436.0,185.2 436.5,185.1 437.0,184.9 437.5,184.7 438.0,184.5 438.5,184.3 439.0,184.0 439.5,183.7 440.0,183.3 440.5,182.9 441.0,182.4 441.5,181.8 442.0,181.1 442.5,180.3 443.0,179.3 443.5,178.1 444.0,176.7 444.5,175.0 445.0,172.8 445.5,170.3 446.0,167.2 446.5,163.8 447.0,160.2 447.5,156.9 448.0,154.4 448.5,153.5 449.0,154.4 449.5,156.8 450.0,160.2 450.5,163.8 451.0,167.2 451.5,170.2 452.0,172.7 452.5,174.9 453.0,176.6 453.5,178.0 454.0,179.2 454.5,180.2 455.0,181.0 455.5,181.7 456.0,182.2 456.5,182.7 457.0,183.1 457.5,183.5 458.0,183.8 458.5,184.0 459.0,184.2 459.5,184.4 460.0,184.6 460.5,184.7 461.0,184.9 461.5,185.0 462.0,185.1 462.5,185.2 463.0,185.2 463.5,185.3 464.0,185.3 464.5,185.4 465.0,185.4 465.5,185.4 466.0,185.5 466.5,185.5 467.0,185.5 467.5,185.5 468.0,185.5 468.5,185.4 469.0,185.4 469.5,185.4 470.0,185.4 470.5,185.3 471.0,185.2 471.5,185.2 472.0,185.1 472.5,185.0 473.0,184.9 473.5,184.8 474.0,184.6 474.5,184.5 475.0,184.3 475.5,184.1 476.0,183.9 476.5,183.6 477.0,183.3 477.5,182.9 478.0,182.5 478.5,182.0 479.0,181.4 479.5,180.7 480.0,179.9 480.5,178.9 481.0,177.7 481.5,176.3 482.0,174.5 482.5,172.4 483.0,169.8 483.5,166.7 484.0,163.1 484.5,159.0 485.0,155.0 485.5,151.5 486.0,149.4 486.5,149.2 487.0,151.0 487.5,154.3 488.0,158.3 488.5,162.3 489.0,166.1 489.5,169.3 490.0,172.0 490.5,174.2 491.0,176.1 491.5,177.6 492.0,178.8 492.5,179.9 493.0,180.8 493.5,181.5 494.0,182.1 494.5,182.6 495.0,183.1 495.5,183.5 496.0,183.8 496.5,184.1 497.0,184.4 497.5,184.6 498.0,184.8 498.5,185.0 499.0,185.1 499.5,185.3 500.0,185.4 500.5,185.5 501.0,185.6 501.5,185.7 502.0,185.8 502.5,185.9 503.0,186.0 503.5,186.0 504.0,186.1 504.5,186.2 505.0,186.2 505.5,186.3 506.0,186.3 506.5,186.4 507.0,186.4"/>
<line x1="37.7" y1="78.8" x2="37.7" y2="129.6" stroke="#1c1c1c" stroke-width="1.7" stroke-dasharray="4.3 4.9"/>
<line x1="121.5" y1="82" x2="121.5" y2="134" stroke="#1c1c1c" stroke-width="1.7" stroke-dasharray="4.3 4.9"/>
<line x1="131.4" y1="84.6" x2="131.4" y2="134" stroke="#1c1c1c" stroke-width="1.7" stroke-dasharray="4.3 4.9"/>
<line x1="184" y1="79" x2="184" y2="131" stroke="#1c1c1c" stroke-width="1.7" stroke-dasharray="4.3 4.9"/>
<line x1="198.8" y1="89" x2="198.8" y2="140" stroke="#1c1c1c" stroke-width="1.7" stroke-dasharray="4.3 4.9"/>
<line x1="314.6" y1="70.8" x2="314.6" y2="121.5" stroke="#1c1c1c" stroke-width="1.7" stroke-dasharray="4.3 4.9"/>
<line x1="360.3" y1="45.8" x2="360.3" y2="61.5" stroke="#1c1c1c" stroke-width="1.7" stroke-dasharray="4.3 4.9"/>
<line x1="380" y1="63.8" x2="380" y2="114.6" stroke="#1c1c1c" stroke-width="1.7" stroke-dasharray="4.3 4.9"/>
<line x1="446" y1="95.2" x2="446" y2="147" stroke="#1c1c1c" stroke-width="1.7" stroke-dasharray="4.3 4.9"/>
<line x1="482" y1="96" x2="482" y2="147" stroke="#1c1c1c" stroke-width="1.7" stroke-dasharray="4.3 4.9"/>
<line x1="123.8" y1="82" x2="123.8" y2="111" stroke="#ec2f36" stroke-width="1.7" stroke-dasharray="4.3 4.9"/>
<line x1="136.5" y1="89" x2="136.5" y2="114.6" stroke="#ec2f36" stroke-width="1.7" stroke-dasharray="4.3 4.9"/>
<line x1="185.5" y1="85" x2="185.5" y2="140" stroke="#ec2f36" stroke-width="1.7" stroke-dasharray="4.3 4.9"/>
<line x1="236.5" y1="98.5" x2="236.5" y2="121.5" stroke="#ec2f36" stroke-width="1.7" stroke-dasharray="4.3 4.9"/>
<line x1="265" y1="84.6" x2="265" y2="114.6" stroke="#ec2f36" stroke-width="1.7" stroke-dasharray="4.3 4.9"/>
<line x1="311" y1="69.6" x2="311" y2="98.5" stroke="#ec2f36" stroke-width="1.7" stroke-dasharray="4.3 4.9"/>
<line x1="333.5" y1="47.7" x2="333.5" y2="77.7" stroke="#ec2f36" stroke-width="1.7" stroke-dasharray="4.3 4.9"/>
<line x1="365" y1="54.6" x2="365" y2="108.8" stroke="#ec2f36" stroke-width="1.7" stroke-dasharray="4.3 4.9"/>
<line x1="417.2" y1="91.5" x2="417.2" y2="144.6" stroke="#ec2f36" stroke-width="1.7" stroke-dasharray="4.3 4.9"/>
<line x1="66.8" y1="80" x2="66.8" y2="120" stroke="#44d944" stroke-width="1.7" stroke-dasharray="4.3 4.9"/>
<line x1="269" y1="88" x2="269" y2="140" stroke="#44d944" stroke-width="1.7" stroke-dasharray="4.3 4.9"/>
<line x1="490.8" y1="96" x2="490.8" y2="130.8" stroke="#44d944" stroke-width="1.7" stroke-dasharray="4.3 4.9"/>
<polyline fill="none" stroke="#1c1c1c" stroke-width="1.3" stroke-linejoin="round" points="28.0,82.3 29.0,81.8 30.0,81.2 31.0,80.7 32.0,80.2 33.0,79.6 34.0,79.1 35.0,78.6 36.0,78.0 37.0,77.5 38.0,77.0 39.0,76.5 40.0,76.0 41.0,75.5 42.1,74.9 43.1,74.3 44.2,73.7 45.2,73.0 46.3,72.4 47.3,71.8 48.4,71.2 49.4,70.7 50.5,70.2 51.5,69.7 52.6,69.4 53.6,69.1 54.7,69.0 55.7,68.9 56.9,69.0 58.0,69.2 59.2,69.5 60.3,69.9 61.5,70.3 62.6,70.8 63.6,71.3 64.7,72.1 65.7,73.0 66.7,74.1 67.8,75.2 68.8,76.4 69.9,77.7 70.9,78.9 71.9,80.1 73.0,81.3 74.0,82.3 75.0,83.3 76.0,84.3 77.0,85.4 78.0,86.6 79.0,87.7 80.0,88.8 81.0,89.9 82.0,90.9 83.0,91.9 84.0,92.7 85.0,93.4 86.0,93.9 87.0,94.2 88.0,94.3 89.0,94.2 90.0,93.8 91.0,93.3 92.0,92.6 93.0,91.9 94.0,91.1 95.0,90.3 96.0,89.6 97.0,89.0 98.1,88.4 99.1,87.9 100.2,87.3 101.3,86.8 102.4,86.2 103.4,85.7 104.5,85.2 105.6,84.7 106.7,84.3 107.7,83.9 108.8,83.5 109.8,83.1 110.8,82.8 111.9,82.4 112.9,82.0 113.9,81.7 114.9,81.4 115.9,81.1 116.9,80.8 118.0,80.7 119.0,80.5 120.0,80.5 121.1,80.5 122.1,80.5 123.2,80.6 124.3,80.6 125.4,80.6 126.4,80.7 127.5,80.7 128.6,80.8 129.7,80.9 130.7,80.9 131.8,81.0 132.8,81.1 133.9,81.2 134.9,81.3 135.9,81.5 136.9,81.6 137.9,81.7 139.0,81.8 140.0,81.8 141.0,81.8 142.0,81.8 143.0,81.8 144.0,81.7 145.0,81.7 146.0,81.7 147.0,81.6 148.0,81.6 149.0,81.5 150.0,81.5 151.0,81.4 152.0,81.3 153.0,81.3 154.0,81.2 155.0,81.1 156.0,81.0 157.0,80.8 158.0,80.5 159.1,80.1 160.1,79.6 161.1,79.0 162.1,78.4 163.1,77.7 164.2,77.1 165.2,76.4 166.2,75.7 167.2,75.1 168.2,74.6 169.2,74.2 170.3,73.8 171.3,73.6 172.3,73.5 173.3,73.5 174.3,73.5 175.4,73.6 176.4,73.6 177.4,73.7 178.4,73.8 179.4,73.9 180.4,74.0 181.5,74.1 182.5,74.2 183.5,74.3 184.5,74.5 185.5,74.7 186.5,74.8 187.6,75.0 188.6,75.2 189.6,75.4 190.7,75.7 191.7,76.3 192.8,77.0 193.8,77.9 194.9,78.8 195.9,79.9 197.0,81.0 198.1,82.1 199.1,83.1 200.2,84.1 201.2,85.0 202.3,85.8 203.3,86.5 204.3,87.2 205.4,87.9 206.4,88.6 207.4,89.4 208.4,90.1 209.4,90.8 210.4,91.5 211.5,92.1 212.5,92.7 213.5,93.3 214.5,93.8 215.5,94.2 216.5,94.5 217.6,94.8 218.6,94.9 219.6,95.0 220.7,94.9 221.7,94.7 222.8,94.3 223.8,93.8 224.9,93.2 225.9,92.5 227.0,91.7 228.1,91.0 229.1,90.2 230.2,89.4 231.2,88.7 232.3,88.0 233.3,87.3 234.3,86.5 235.3,85.7 236.4,84.8 237.4,83.9 238.4,82.9 239.4,81.9 240.4,81.0 241.4,80.1 242.4,79.3 243.4,78.5 244.4,77.8 245.5,77.3 246.5,76.9 247.5,76.6 248.5,76.5 249.6,76.6 250.6,76.7 251.7,77.0 252.8,77.4 253.8,77.7 254.9,78.2 256.0,78.6 257.1,78.9 258.1,79.3 259.2,79.5 260.2,79.7 261.3,79.9 262.3,80.1 263.4,80.3 264.4,80.5 265.4,80.7 266.5,80.9 267.5,81.1 268.6,81.2 269.6,81.4 270.6,81.5 271.7,81.7 272.7,81.8 273.8,81.9 274.8,82.0 275.8,82.1 276.9,82.2 277.9,82.3 279.0,82.3 280.0,82.3 281.0,82.3 282.1,82.2 283.1,82.2 284.2,82.1 285.2,82.0 286.3,81.9 287.3,81.7 288.4,81.6 289.4,81.4 290.5,81.2 291.5,81.0 292.5,80.7 293.6,80.2 294.6,79.6 295.7,78.8 296.7,78.0 297.8,77.1 298.8,76.1 299.9,75.0 300.9,74.0 302.0,73.0 303.0,72.0 304.1,71.0 305.1,70.0 306.2,68.9 307.2,67.7 308.3,66.6 309.3,65.4 310.4,64.2 311.4,62.9 312.5,61.7 313.5,60.4 314.6,59.2 315.6,57.9 316.6,56.5 317.7,55.1 318.7,53.6 319.7,52.1 320.7,50.8 321.8,49.5 322.8,48.5 323.8,47.7 324.9,47.0 325.9,46.4 327.0,45.9 328.1,45.4 329.1,44.9 330.2,44.5 331.3,44.1 332.4,43.7 333.4,43.4 334.5,43.0 335.6,42.7 336.6,42.3 337.7,42.0 338.7,41.7 339.8,41.3 340.8,40.9 341.9,40.6 342.9,40.2 344.0,39.9 345.0,39.6 346.1,39.4 347.1,39.2 348.2,39.0 349.2,39.0 350.2,39.0 351.3,39.0 352.3,39.1 353.3,39.1 354.4,39.2 355.4,39.3 356.4,39.4 357.5,39.5 358.5,39.6 359.5,39.7 360.6,39.9 361.6,40.1 362.7,40.4 363.7,40.7 364.8,41.0 365.8,41.4 366.9,41.8 367.9,42.2 369.0,42.6 370.0,43.0 371.1,43.5 372.2,44.1 373.2,44.7 374.3,45.5 375.4,46.2 376.5,47.0 377.6,47.8 378.6,48.6 379.7,49.3 380.8,50.0 381.8,50.6 382.8,51.2 383.8,51.8 384.9,52.3 385.9,52.8 386.9,53.4 387.9,53.9 388.9,54.5 389.9,55.0 390.9,55.5 391.9,56.1 392.9,56.7 394.0,57.3 395.0,57.9 396.0,58.5 397.0,59.2 398.1,59.9 399.1,60.7 400.2,61.6 401.2,62.4 402.3,63.3 403.4,64.3 404.4,65.2 405.5,66.1 406.6,67.1 407.6,68.0 408.7,69.0 409.7,69.9 410.8,70.8 411.9,71.7 412.9,72.6 414.0,73.6 415.0,74.5 416.1,75.5 417.2,76.4 418.2,77.4 419.3,78.3 420.4,79.2 421.4,80.0 422.5,80.9 423.5,81.6 424.6,82.3 425.7,83.0 426.7,83.6 427.8,84.2 428.9,84.8 429.9,85.4 431.0,86.0 432.1,86.5 433.2,87.1 434.2,87.5 435.3,88.0 436.4,88.4 437.4,88.8 438.5,89.2 439.5,89.5 440.5,89.8 441.6,90.0 442.6,90.3 443.6,90.5 444.6,90.7 445.7,91.0 446.7,91.2 447.7,91.5 448.7,91.9 449.8,92.3 450.8,92.8 451.8,93.3 452.9,93.7 453.9,94.1 454.9,94.5 456.0,94.7 457.0,94.8 458.0,94.8 459.0,94.8 460.0,94.8 461.0,94.8 462.0,94.8 463.0,94.8 464.0,94.8 465.0,94.8 466.0,94.8 467.0,94.8 468.0,94.8 469.0,94.8 470.0,94.8 471.0,94.8 472.0,94.8 473.3,94.3 474.5,93.2 475.8,92.7 476.9,92.7 477.9,92.7 479.0,92.8 480.1,92.8 481.1,92.9 482.2,93.0 483.3,93.1 484.3,93.2 485.4,93.3 486.5,93.5 487.6,93.9 488.8,94.3 489.9,94.7 491.0,94.8 492.0,94.8 493.0,94.8 494.0,94.8 495.0,94.8 496.0,94.8 497.0,94.8 498.0,94.8 499.0,94.8 500.0,94.8 501.0,94.8 502.0,94.8 503.0,94.8 504.0,94.8 505.0,94.8 506.0,94.8 507.0,94.8 508.0,94.8"/>
<rect x="28" y="0.5" width="480.3" height="187.5" fill="none" stroke="#333" stroke-width="1.6"/>
<line x1="81.4" y1="0.5" x2="81.4" y2="6.0" stroke="#222" stroke-width="1.3"/>
<line x1="81.4" y1="188" x2="81.4" y2="182.5" stroke="#222" stroke-width="1.3"/>
<line x1="134.7" y1="0.5" x2="134.7" y2="6.0" stroke="#222" stroke-width="1.3"/>
<line x1="134.7" y1="188" x2="134.7" y2="182.5" stroke="#222" stroke-width="1.3"/>
<line x1="188.1" y1="0.5" x2="188.1" y2="6.0" stroke="#222" stroke-width="1.3"/>
<line x1="188.1" y1="188" x2="188.1" y2="182.5" stroke="#222" stroke-width="1.3"/>
<line x1="241.5" y1="0.5" x2="241.5" y2="6.0" stroke="#222" stroke-width="1.3"/>
<line x1="241.5" y1="188" x2="241.5" y2="182.5" stroke="#222" stroke-width="1.3"/>
<line x1="294.8" y1="0.5" x2="294.8" y2="6.0" stroke="#222" stroke-width="1.3"/>
<line x1="294.8" y1="188" x2="294.8" y2="182.5" stroke="#222" stroke-width="1.3"/>
<line x1="348.2" y1="0.5" x2="348.2" y2="6.0" stroke="#222" stroke-width="1.3"/>
<line x1="348.2" y1="188" x2="348.2" y2="182.5" stroke="#222" stroke-width="1.3"/>
<line x1="401.6" y1="0.5" x2="401.6" y2="6.0" stroke="#222" stroke-width="1.3"/>
<line x1="401.6" y1="188" x2="401.6" y2="182.5" stroke="#222" stroke-width="1.3"/>
<line x1="454.9" y1="0.5" x2="454.9" y2="6.0" stroke="#222" stroke-width="1.3"/>
<line x1="454.9" y1="188" x2="454.9" y2="182.5" stroke="#222" stroke-width="1.3"/>
<line x1="28" y1="28" x2="30.2" y2="28" stroke="#222" stroke-width="1.3"/>
<line x1="28" y1="61.5" x2="30.2" y2="61.5" stroke="#222" stroke-width="1.3"/>
<line x1="28" y1="95" x2="30.2" y2="95" stroke="#222" stroke-width="1.3"/>
<line x1="28" y1="128.5" x2="30.2" y2="128.5" stroke="#222" stroke-width="1.3"/>
<line x1="28" y1="162" x2="30.2" y2="162" stroke="#222" stroke-width="1.3"/>
<line x1="508.3" y1="28" x2="506.1" y2="28" stroke="#222" stroke-width="1.3"/>
<line x1="508.3" y1="61.5" x2="506.1" y2="61.5" stroke="#222" stroke-width="1.3"/>
<line x1="508.3" y1="95" x2="506.1" y2="95" stroke="#222" stroke-width="1.3"/>
<line x1="508.3" y1="128.5" x2="506.1" y2="128.5" stroke="#222" stroke-width="1.3"/>
<line x1="508.3" y1="162" x2="506.1" y2="162" stroke="#222" stroke-width="1.3"/>
<polyline fill="none" stroke="#44d944" stroke-width="1.5" stroke-linejoin="round" points="29.0,433.6 29.5,433.5 30.0,433.3 30.5,433.1 31.0,432.9 31.5,432.7 32.0,432.4 32.5,432.1 33.0,431.8 33.5,431.5 34.0,431.1 34.5,430.6 35.0,430.1 35.5,429.6 36.0,428.9 36.5,428.2 37.0,427.3 37.5,426.4 38.0,425.3 38.5,424.0 39.0,422.6 39.5,421.0 40.0,419.3 40.5,417.5 41.0,415.6 41.5,413.9 42.0,412.4 42.5,411.4 43.0,410.9 43.5,411.1 44.0,411.8 44.5,413.0 45.0,414.4 45.5,415.9 46.0,417.4 46.5,418.8 47.0,420.0 47.5,421.1 48.0,421.9 48.5,422.6 49.0,423.0 49.5,423.4 50.0,423.5 50.5,423.6 51.0,423.4 51.5,423.1 52.0,422.7 52.5,422.1 53.0,421.3 53.5,420.3 54.0,419.1 54.5,417.6 55.0,415.8 55.5,413.5 56.0,410.8 56.5,407.4 57.0,403.2 57.5,398.0 58.0,391.4 58.5,383.1 58.7,378.2"/>
<polyline fill="none" stroke="#44d944" stroke-width="1.5" stroke-linejoin="round" points="66.0,378.2 66.5,387.5 67.0,395.2 67.5,401.4 68.0,406.3 68.5,410.3 69.0,413.6 69.5,416.3 70.0,418.6 70.5,420.5 71.0,422.1 71.5,423.5 72.0,424.7 72.5,425.8 73.0,426.7 73.5,427.5 74.0,428.2 74.5,428.8 75.0,429.4 75.5,429.9 76.0,430.3 76.5,430.7 77.0,431.1 77.5,431.4 78.0,431.7 78.5,432.0 79.0,432.2 79.5,432.5 80.0,432.7 80.5,432.9 81.0,433.1 81.5,433.2 82.0,433.4 82.5,433.5 83.0,433.7 83.5,433.8 84.0,433.9 84.5,434.0 85.0,434.1 85.5,434.2 86.0,434.3 86.5,434.4 87.0,434.5 87.5,434.5 88.0,434.6 88.5,434.7 89.0,434.7 89.5,434.8 90.0,434.9 90.5,434.9 91.0,435.0 91.5,435.0 92.0,435.1 92.5,435.1 93.0,435.1 93.5,435.2 94.0,435.2 94.5,435.3 95.0,435.3 95.5,435.3 96.0,435.4 96.5,435.4 97.0,435.4 97.5,435.5 98.0,435.5 98.5,435.5 99.0,435.5 99.5,435.6 100.0,435.6 100.5,435.6 101.0,435.6 101.5,435.6 102.0,435.7 102.5,435.7 103.0,435.7 103.5,435.7 104.0,435.7 104.5,435.8 105.0,435.8 105.5,435.8 106.0,435.8 106.5,435.8 107.0,435.8 107.5,435.8 108.0,435.9 108.5,435.9 109.0,435.9 109.5,435.9 110.0,435.9 110.5,435.9 111.0,435.9 111.5,435.9 112.0,435.9 112.5,436.0 113.0,436.0 113.5,436.0 114.0,436.0 114.5,436.0 115.0,436.0 115.5,436.0 116.0,436.0 116.5,436.0 117.0,436.0 117.5,436.0 118.0,436.1 118.5,436.1 119.0,436.1 119.5,436.1 120.0,436.1 120.5,436.1 121.0,436.1 121.5,436.1 122.0,436.1 122.5,436.1 123.0,436.1 123.5,436.1 124.0,436.1 124.5,436.1 125.0,436.1 125.5,436.1 126.0,436.1 126.5,436.2 127.0,436.2 127.5,436.2 128.0,436.2 128.5,436.2 129.0,436.2 129.5,436.2 130.0,436.2 130.5,436.2 131.0,436.2 131.5,436.2 132.0,436.2 132.5,436.2 133.0,436.2 133.5,436.2 134.0,436.2 134.5,436.2 135.0,436.2 135.5,436.2 136.0,436.2 136.5,436.2 137.0,436.2 137.5,436.2 138.0,436.2 138.5,436.2 139.0,436.2 139.5,436.2 140.0,436.2 140.5,436.3 141.0,436.3 141.5,436.3 142.0,436.3 142.5,436.3 143.0,436.3 143.5,436.3 144.0,436.3 144.5,436.3 145.0,436.3 145.5,436.3 146.0,436.3 146.5,436.3 147.0,436.3 147.5,436.3 148.0,436.3 148.5,436.3 149.0,436.3 149.5,436.3 150.0,436.3 150.5,436.3 151.0,436.3 151.5,436.3 152.0,436.3 152.5,436.3 153.0,436.3 153.5,436.3 154.0,436.3 154.5,436.3 155.0,436.3 155.5,436.3 156.0,436.3 156.5,436.3 157.0,436.3 157.5,436.3 158.0,436.3 158.5,436.3 159.0,436.3 159.5,436.3 160.0,436.3 160.5,436.3 161.0,436.3 161.5,436.3 162.0,436.3 162.5,436.3 163.0,436.3 163.5,436.3 164.0,436.3 164.5,436.3 165.0,436.3 165.5,436.3 166.0,436.3 166.5,436.3 167.0,436.3 167.5,436.3 168.0,436.3 168.5,436.3 169.0,436.3 169.5,436.3 170.0,436.3 170.5,436.3 171.0,436.3 171.5,436.3 172.0,436.3 172.5,436.3 173.0,436.3 173.5,436.3 174.0,436.3 174.5,436.3 175.0,436.3 175.5,436.3 176.0,436.3 176.5,436.3 177.0,436.3 177.5,436.3 178.0,436.3 178.5,436.3 179.0,436.3 179.5,436.3 180.0,436.4 180.5,436.4 181.0,436.4 181.5,436.4 182.0,436.4 182.5,436.4 183.0,436.4 183.5,436.4 184.0,436.4 184.5,436.4 185.0,436.4 185.5,436.4 186.0,436.4 186.5,436.4 187.0,436.4 187.5,436.4 188.0,436.4 188.5,436.4 189.0,436.4 189.5,436.4 190.0,436.4 190.5,436.4 191.0,436.4 191.5,436.4 192.0,436.4 192.5,436.4 193.0,436.4 193.5,436.4 194.0,436.4 194.5,436.4 195.0,436.4 195.5,436.4 196.0,436.4 196.5,436.4 197.0,436.4 197.5,436.3 198.0,436.3 198.5,436.3 199.0,436.3 199.5,436.3 200.0,436.3 200.5,436.3 201.0,436.3 201.5,436.3 202.0,436.3 202.5,436.3 203.0,436.3 203.5,436.3 204.0,436.3 204.5,436.3 205.0,436.3 205.5,436.3 206.0,436.3 206.5,436.3 207.0,436.3 207.5,436.3 208.0,436.3 208.5,436.3 209.0,436.3 209.5,436.3 210.0,436.3 210.5,436.3 211.0,436.3 211.5,436.3 212.0,436.3 212.5,436.3 213.0,436.3 213.5,436.3 214.0,436.3 214.5,436.3 215.0,436.3 215.5,436.3 216.0,436.3 216.5,436.3 217.0,436.3 217.5,436.3 218.0,436.3 218.5,436.3 219.0,436.3 219.5,436.3 220.0,436.3 220.5,436.3 221.0,436.3 221.5,436.3 222.0,436.3 222.5,436.3 223.0,436.3 223.5,436.3 224.0,436.3 224.5,436.3 225.0,436.3 225.5,436.3 226.0,436.3 226.5,436.2 227.0,436.2 227.5,436.2 228.0,436.2 228.5,436.2 229.0,436.2 229.5,436.2 230.0,436.2 230.5,436.2 231.0,436.2 231.5,436.2 232.0,436.2 232.5,436.2 233.0,436.2 233.5,436.2 234.0,436.2 234.5,436.1 235.0,436.1 235.5,436.1 236.0,436.1 236.5,436.1 237.0,436.1 237.5,436.1 238.0,436.1 238.5,436.1 239.0,436.0 239.5,436.0 240.0,436.0 240.5,436.0 241.0,436.0 241.5,436.0 242.0,435.9 242.5,435.9 243.0,435.9 243.5,435.9 244.0,435.9 244.5,435.8 245.0,435.8 245.5,435.8 246.0,435.7 246.5,435.7 247.0,435.7 247.5,435.6 248.0,435.6 248.5,435.5 249.0,435.5 249.5,435.4 250.0,435.4 250.5,435.3 251.0,435.2 251.5,435.2 252.0,435.1 252.5,435.0 253.0,434.9 253.5,434.7 254.0,434.6 254.5,434.5 255.0,434.3 255.5,434.1 256.0,433.9 256.5,433.7 257.0,433.4 257.5,433.1 258.0,432.7 258.5,432.3 259.0,431.8 259.5,431.3 260.0,430.6 260.5,429.8 261.0,428.8 261.5,427.7 262.0,426.3 262.5,424.5 263.0,422.5 263.5,419.9 264.0,416.9 264.5,413.5 265.0,409.9 265.5,406.3 266.0,403.6 266.5,402.3 267.0,402.9 267.5,405.1 268.0,408.4 268.5,412.1 269.0,415.6 269.5,418.8 270.0,421.5 270.5,423.8 271.0,425.6 271.5,427.1 272.0,428.4 272.5,429.4 273.0,430.3 273.5,431.0 274.0,431.6 274.5,432.1 275.0,432.6 275.5,433.0 276.0,433.3 276.5,433.6 277.0,433.8 277.5,434.0 278.0,434.2 278.5,434.4 279.0,434.6 279.5,434.7 280.0,434.8 280.5,434.9 281.0,435.0 281.5,435.1 282.0,435.2 282.5,435.3 283.0,435.3 283.5,435.4 284.0,435.5 284.5,435.5 285.0,435.6 285.5,435.6 286.0,435.7 286.5,435.7 287.0,435.7 287.5,435.8 288.0,435.8 288.5,435.8 289.0,435.9 289.5,435.9 290.0,435.9 290.5,435.9 291.0,435.9 291.5,436.0 292.0,436.0 292.5,436.0 293.0,436.0 293.5,436.0 294.0,436.0 294.5,436.1 295.0,436.1 295.5,436.1 296.0,436.1 296.5,436.1 297.0,436.1 297.5,436.1 298.0,436.1 298.5,436.2 299.0,436.2 299.5,436.2 300.0,436.2 300.5,436.2 301.0,436.2 301.5,436.2 302.0,436.2 302.5,436.2 303.0,436.2 303.5,436.2 304.0,436.2 304.5,436.2 305.0,436.2 305.5,436.3 306.0,436.3 306.5,436.3 307.0,436.3 307.5,436.3 308.0,436.3 308.5,436.3 309.0,436.3 309.5,436.3 310.0,436.3 310.5,436.3 311.0,436.3 311.5,436.3 312.0,436.3 312.5,436.3 313.0,436.3 313.5,436.3 314.0,436.3 314.5,436.3 315.0,436.3 315.5,436.3 316.0,436.3 316.5,436.3 317.0,436.3 317.5,436.3 318.0,436.3 318.5,436.3 319.0,436.3 319.5,436.3 320.0,436.3 320.5,436.3 321.0,436.3 321.5,436.3 322.0,436.4 322.5,436.4 323.0,436.4 323.5,436.4 324.0,436.4 324.5,436.4 325.0,436.4 325.5,436.4 326.0,436.4 326.5,436.4 327.0,436.4 327.5,436.4 328.0,436.4 328.5,436.4 329.0,436.4 329.5,436.4 330.0,436.4 330.5,436.4 331.0,436.4 331.5,436.4 332.0,436.4 332.5,436.4 333.0,436.4 333.5,436.4 334.0,436.4 334.5,436.4 335.0,436.4 335.5,436.4 336.0,436.4 336.5,436.4 337.0,436.4 337.5,436.4 338.0,436.4 338.5,436.4 339.0,436.4 339.5,436.4 340.0,436.4 340.5,436.4 341.0,436.4 341.5,436.4 342.0,436.4 342.5,436.4 343.0,436.4 343.5,436.4 344.0,436.4 344.5,436.4 345.0,436.4 345.5,436.4 346.0,436.4 346.5,436.4 347.0,436.4 347.5,436.4 348.0,436.4 348.5,436.4 349.0,436.4 349.5,436.4 350.0,436.4 350.5,436.4 351.0,436.4 351.5,436.4 352.0,436.4 352.5,436.4 353.0,436.4 353.5,436.4 354.0,436.4 354.5,436.4 355.0,436.4 355.5,436.4 356.0,436.4 356.5,436.4 357.0,436.4 357.5,436.4 358.0,436.4 358.5,436.4 359.0,436.4 359.5,436.4 360.0,436.4 360.5,436.4 361.0,436.4 361.5,436.4 362.0,436.4 362.5,436.4 363.0,436.4 363.5,436.4 364.0,436.4 364.5,436.4 365.0,436.4 365.5,436.4 366.0,436.4 366.5,436.4 367.0,436.4 367.5,436.4 368.0,436.4 368.5,436.4 369.0,436.4 369.5,436.4 370.0,436.4 370.5,436.4 371.0,436.4 371.5,436.4 372.0,436.4 372.5,436.4 373.0,436.4 373.5,436.4 374.0,436.4 374.5,436.4 375.0,436.4 375.5,436.4 376.0,436.4 376.5,436.4 377.0,436.4 377.5,436.4 378.0,436.4 378.5,436.4 379.0,436.4 379.5,436.4 380.0,436.4 380.5,436.4 381.0,436.4 381.5,436.4 382.0,436.4 382.5,436.4 383.0,436.4 383.5,436.4 384.0,436.4 384.5,436.4 385.0,436.4 385.5,436.4 386.0,436.4 386.5,436.4 387.0,436.4 387.5,436.4 388.0,436.4 388.5,436.3 389.0,436.3 389.5,436.3 390.0,436.3 390.5,436.3 391.0,436.3 391.5,436.3 392.0,436.3 392.5,436.3 393.0,436.3 393.5,436.3 394.0,436.3 394.5,436.3 395.0,436.3 395.5,436.3 396.0,436.3 396.5,436.3 397.0,436.3 397.5,436.3 398.0,436.3 398.5,436.3 399.0,436.3 399.5,436.3 400.0,436.3 400.5,436.3 401.0,436.3 401.5,436.3 402.0,436.2 402.5,436.2 403.0,436.2 403.5,436.2 404.0,436.2 404.5,436.2 405.0,436.2 405.5,436.2 406.0,436.2 406.5,436.2 407.0,436.2 407.5,436.1 408.0,436.1 408.5,436.1 409.0,436.1 409.5,436.1 410.0,436.1 410.5,436.0 411.0,436.0 411.5,436.0 412.0,436.0 412.5,435.9 413.0,435.9 413.5,435.8 414.0,435.8 414.5,435.7 415.0,435.7 415.5,435.6 416.0,435.6 416.5,435.5 417.0,435.4 417.5,435.3 418.0,435.1 418.5,435.0 419.0,434.8 419.5,434.5 420.0,434.3 420.5,433.9 421.0,433.5 421.5,433.1 422.0,432.5 422.5,431.8 423.0,431.0 423.5,430.1 424.0,429.2 424.5,428.4 425.0,427.9 425.5,427.8 426.0,428.2 426.5,429.0 427.0,429.9 427.5,430.8 428.0,431.6 428.5,432.3 429.0,432.9 429.5,433.4 430.0,433.8 430.5,434.2 431.0,434.4 431.5,434.7 432.0,434.8 432.5,435.0 433.0,435.1 433.5,435.3 434.0,435.3 434.5,435.4 435.0,435.5 435.5,435.6 436.0,435.6 436.5,435.7 437.0,435.7 437.5,435.7 438.0,435.8 438.5,435.8 439.0,435.8 439.5,435.8 440.0,435.8 440.5,435.9 441.0,435.9 441.5,435.9 442.0,435.9 442.5,435.9 443.0,435.9 443.5,435.9 444.0,435.9 444.5,435.9 445.0,435.9 445.5,435.9 446.0,435.9 446.5,435.9 447.0,435.9 447.5,435.9 448.0,435.9 448.5,435.9 449.0,435.9 449.5,435.9 450.0,435.9 450.5,435.8 451.0,435.8 451.5,435.8 452.0,435.8 452.5,435.8 453.0,435.8 453.5,435.8 454.0,435.7 454.5,435.7 455.0,435.7 455.5,435.7 456.0,435.7 456.5,435.6 457.0,435.6 457.5,435.6 458.0,435.5 458.5,435.5 459.0,435.5 459.5,435.4 460.0,435.4 460.5,435.3 461.0,435.3 461.5,435.2 462.0,435.2 462.5,435.1 463.0,435.1 463.5,435.0 464.0,434.9 464.5,434.8 465.0,434.8 465.5,434.7 466.0,434.6 466.5,434.4 467.0,434.3 467.5,434.2 468.0,434.0 468.5,433.9 469.0,433.7 469.5,433.5 470.0,433.3 470.5,433.0 471.0,432.7 471.5,432.4 472.0,432.1 472.5,431.7 473.0,431.2 473.5,430.7 474.0,430.1 474.5,429.4 475.0,428.6 475.5,427.6 476.0,426.5 476.5,425.1 477.0,423.5 477.5,421.6 478.0,419.3 478.5,416.6 479.0,413.3 479.5,409.4 480.0,404.9 480.5,399.8 481.0,394.5 481.5,389.5 482.0,385.8 482.5,384.1 483.0,384.8 483.5,387.8 484.0,392.4 484.5,397.7 485.0,402.9 485.5,407.7 486.0,411.8 486.5,415.4 487.0,418.3 487.5,420.8 488.0,422.8 488.5,424.5 489.0,426.0 489.5,427.2 490.0,428.2 490.5,429.1 491.0,429.8 491.5,430.5 492.0,431.0 492.5,431.5 493.0,431.9 493.5,432.3 494.0,432.6 494.5,432.9 495.0,433.2 495.5,433.4 496.0,433.6 496.5,433.8 497.0,434.0 497.5,434.2 498.0,434.3 498.5,434.4 499.0,434.5 499.5,434.7 500.0,434.8 500.5,434.8 501.0,434.9 501.5,435.0 502.0,435.1 502.5,435.2 503.0,435.2 503.5,435.3 504.0,435.3 504.5,435.4 505.0,435.4 505.5,435.5 506.0,435.5 506.5,435.6"/>
<polyline fill="none" stroke="#ec2f36" stroke-width="1.5" stroke-linejoin="round" points="29.0,436.3 29.5,436.3 30.0,436.3 30.5,436.3 31.0,436.3 31.5,436.3 32.0,436.3 32.5,436.3 33.0,436.3 33.5,436.3 34.0,436.3 34.5,436.3 35.0,436.3 35.5,436.3 36.0,436.3 36.5,436.3 37.0,436.3 37.5,436.3 38.0,436.3 38.5,436.3 39.0,436.3 39.5,436.3 40.0,436.3 40.5,436.3 41.0,436.3 41.5,436.3 42.0,436.3 42.5,436.3 43.0,436.3 43.5,436.3 44.0,436.3 44.5,436.3 45.0,436.3 45.5,436.3 46.0,436.3 46.5,436.3 47.0,436.3 47.5,436.3 48.0,436.3 48.5,436.3 49.0,436.3 49.5,436.3 50.0,436.3 50.5,436.2 51.0,436.2 51.5,436.2 52.0,436.2 52.5,436.2 53.0,436.2 53.5,436.2 54.0,436.2 54.5,436.2 55.0,436.2 55.5,436.2 56.0,436.2 56.5,436.2 57.0,436.2 57.5,436.2 58.0,436.2 58.5,436.2 59.0,436.2 59.5,436.2 60.0,436.2 60.5,436.2 61.0,436.2 61.5,436.1 62.0,436.1 62.5,436.1 63.0,436.1 63.5,436.1 64.0,436.1 64.5,436.1 65.0,436.1 65.5,436.1 66.0,436.1 66.5,436.1 67.0,436.1 67.5,436.1 68.0,436.1 68.5,436.0 69.0,436.0 69.5,436.0 70.0,436.0 70.5,436.0 71.0,436.0 71.5,436.0 72.0,436.0 72.5,436.0 73.0,435.9 73.5,435.9 74.0,435.9 74.5,435.9 75.0,435.9 75.5,435.9 76.0,435.9 76.5,435.8 77.0,435.8 77.5,435.8 78.0,435.8 78.5,435.8 79.0,435.7 79.5,435.7 80.0,435.7 80.5,435.6 81.0,435.6 81.5,435.6 82.0,435.5 82.5,435.5 83.0,435.5 83.5,435.4 84.0,435.4 84.5,435.3 85.0,435.3 85.5,435.2 86.0,435.1 86.5,435.0 87.0,435.0 87.5,434.9 88.0,434.8 88.5,434.6 89.0,434.5 89.5,434.4 90.0,434.2 90.5,434.0 91.0,433.9 91.5,433.7 92.0,433.5 92.5,433.2 93.0,433.0 93.5,432.8 94.0,432.7 94.5,432.6 95.0,432.5 95.5,432.5 96.0,432.5 96.5,432.6 97.0,432.7 97.5,432.8 98.0,432.9 98.5,433.1 99.0,433.2 99.5,433.3 100.0,433.3 100.5,433.4 101.0,433.4 101.5,433.4 102.0,433.4 102.5,433.4 103.0,433.3 103.5,433.3 104.0,433.2 104.5,433.1 105.0,433.0 105.5,432.8 106.0,432.7 106.5,432.5 107.0,432.2 107.5,432.0 108.0,431.7 108.5,431.3 109.0,431.0 109.5,430.5 110.0,430.0 110.5,429.4 111.0,428.7 111.5,427.9 112.0,426.9 112.5,425.8 113.0,424.4 113.5,422.8 114.0,421.0 114.5,418.7 115.0,416.2 115.5,413.3 116.0,410.1 116.5,407.0 117.0,404.2 117.5,402.1 118.0,401.2 118.5,401.6 119.0,403.2 119.5,405.6 120.0,408.2 120.5,410.8 121.0,413.1 121.5,415.0 122.0,416.5 122.5,417.5 123.0,418.1 123.5,418.4 124.0,418.2 124.5,417.6 125.0,416.7 125.5,415.4 126.0,413.8 126.5,411.9 127.0,410.0 127.5,408.3 128.0,407.2 128.5,407.0 129.0,407.8 129.5,409.3 130.0,411.3 130.5,413.4 131.0,415.4 131.5,417.2 132.0,418.7 132.5,419.8 133.0,420.7 133.5,421.2 134.0,421.5 134.5,421.5 135.0,421.2 135.5,420.6 136.0,419.8 136.5,418.6 137.0,417.0 137.5,415.1 138.0,412.6 138.5,409.7 139.0,406.4 139.5,402.7 140.0,399.0 140.5,395.7 141.0,393.4 141.5,392.7 142.0,393.7 142.5,396.2 143.0,399.8 143.5,403.8 144.0,407.7 144.5,411.4 145.0,414.6 145.5,417.4 146.0,419.8 146.5,421.8 147.0,423.5 147.5,425.0 148.0,426.2 148.5,427.2 149.0,428.1 149.5,428.8 150.0,429.5 150.5,430.0 151.0,430.5 151.5,431.0 152.0,431.3 152.5,431.7 153.0,432.0 153.5,432.2 154.0,432.5 154.5,432.7 155.0,432.9 155.5,433.0 156.0,433.2 156.5,433.3 157.0,433.4 157.5,433.5 158.0,433.6 158.5,433.7 159.0,433.8 159.5,433.8 160.0,433.9 160.5,433.9 161.0,434.0 161.5,434.0 162.0,434.0 162.5,434.0 163.0,434.0 163.5,434.0 164.0,434.0 164.5,434.0 165.0,433.9 165.5,433.9 166.0,433.9 166.5,433.8 167.0,433.7 167.5,433.6 168.0,433.5 168.5,433.4 169.0,433.2 169.5,433.0 170.0,432.8 170.5,432.6 171.0,432.3 171.5,431.9 172.0,431.5 172.5,431.1 173.0,430.5 173.5,429.8 174.0,429.0 174.5,428.0 175.0,426.8 175.5,425.3 176.0,423.5 176.5,421.3 177.0,418.7 177.5,415.7 178.0,412.5 178.5,409.2 179.0,406.6 179.5,405.1 180.0,405.3 180.5,407.1 181.0,409.9 181.5,413.2 182.0,416.4 182.5,419.4 183.0,421.9 183.5,424.0 184.0,425.8 184.5,427.2 185.0,428.4 185.5,429.4 186.0,430.2 186.5,430.8 187.0,431.4 187.5,431.9 188.0,432.3 188.5,432.6 189.0,432.9 189.5,433.2 190.0,433.4 190.5,433.6 191.0,433.8 191.5,433.9 192.0,434.0 192.5,434.1 193.0,434.2 193.5,434.3 194.0,434.4 194.5,434.4 195.0,434.5 195.5,434.5 196.0,434.5 196.5,434.5 197.0,434.5 197.5,434.5 198.0,434.4 198.5,434.4 199.0,434.3 199.5,434.2 200.0,434.0 200.5,433.9 201.0,433.6 201.5,433.3 202.0,433.0 202.5,432.6 203.0,432.0 203.5,431.4 204.0,430.7 204.5,430.0 205.0,429.4 205.5,429.1 206.0,429.0 206.5,429.4 207.0,429.9 207.5,430.7 208.0,431.4 208.5,432.0 209.0,432.6 209.5,433.1 210.0,433.5 210.5,433.8 211.0,434.0 211.5,434.3 212.0,434.4 212.5,434.6 213.0,434.7 213.5,434.8 214.0,434.8 214.5,434.9 215.0,434.9 215.5,434.9 216.0,434.9 216.5,434.9 217.0,434.9 217.5,434.9 218.0,434.8 218.5,434.7 219.0,434.6 219.5,434.4 220.0,434.2 220.5,434.0 221.0,433.7 221.5,433.3 222.0,432.9 222.5,432.4 223.0,431.9 223.5,431.5 224.0,431.3 224.5,431.4 225.0,431.6 225.5,432.1 226.0,432.6 226.5,433.1 227.0,433.5 227.5,433.9 228.0,434.2 228.5,434.5 229.0,434.7 229.5,434.9 230.0,435.0 230.5,435.2 231.0,435.3 231.5,435.3 232.0,435.4 232.5,435.5 233.0,435.5 233.5,435.6 234.0,435.6 234.5,435.7 235.0,435.7 235.5,435.7 236.0,435.7 236.5,435.8 237.0,435.8 237.5,435.8 238.0,435.8 238.5,435.8 239.0,435.8 239.5,435.8 240.0,435.9 240.5,435.9 241.0,435.9 241.5,435.9 242.0,435.9 242.5,435.9 243.0,435.9 243.5,435.9 244.0,435.9 244.5,435.9 245.0,435.9 245.5,435.8 246.0,435.8 246.5,435.8 247.0,435.8 247.5,435.8 248.0,435.8 248.5,435.8 249.0,435.8 249.5,435.7 250.0,435.7 250.5,435.7 251.0,435.7 251.5,435.6 252.0,435.6 252.5,435.6 253.0,435.5 253.5,435.5 254.0,435.4 254.5,435.4 255.0,435.3 255.5,435.2 256.0,435.1 256.5,435.0 257.0,434.9 257.5,434.7 258.0,434.5 258.5,434.3 259.0,434.0 259.5,433.7 260.0,433.3 260.5,432.8 261.0,432.3 261.5,431.6 262.0,430.8 262.5,429.9 263.0,429.0 263.5,428.3 264.0,427.8 264.5,427.7 265.0,428.1 265.5,428.8 266.0,429.6 266.5,430.5 267.0,431.3 267.5,431.9 268.0,432.5 268.5,432.9 269.0,433.3 269.5,433.6 270.0,433.8 270.5,434.0 271.0,434.2 271.5,434.3 272.0,434.4 272.5,434.4 273.0,434.5 273.5,434.5 274.0,434.5 274.5,434.5 275.0,434.4 275.5,434.4 276.0,434.3 276.5,434.2 277.0,434.1 277.5,434.0 278.0,433.8 278.5,433.6 279.0,433.4 279.5,433.2 280.0,432.9 280.5,432.6 281.0,432.2 281.5,431.8 282.0,431.3 282.5,430.7 283.0,430.1 283.5,429.5 284.0,428.8 284.5,428.1 285.0,427.5 285.5,427.0 286.0,426.7 286.5,426.6 287.0,426.7 287.5,427.1 288.0,427.6 288.5,428.2 289.0,428.8 289.5,429.5 290.0,430.2 290.5,430.8 291.0,431.3 291.5,431.8 292.0,432.3 292.5,432.6 293.0,433.0 293.5,433.3 294.0,433.5 294.5,433.7 295.0,433.9 295.5,434.1 296.0,434.2 296.5,434.3 297.0,434.4 297.5,434.5 298.0,434.6 298.5,434.6 299.0,434.7 299.5,434.7 300.0,434.7 300.5,434.6 301.0,434.6 301.5,434.5 302.0,434.4 302.5,434.2 303.0,434.0 303.5,433.8 304.0,433.7 304.5,433.5 305.0,433.5 305.5,433.6 306.0,433.7 306.5,434.0 307.0,434.2 307.5,434.4 308.0,434.6 308.5,434.8 309.0,434.9 309.5,435.0 310.0,435.1 310.5,435.2 311.0,435.3 311.5,435.3 312.0,435.3 312.5,435.4 313.0,435.4 313.5,435.4 314.0,435.4 314.5,435.4 315.0,435.3 315.5,435.3 316.0,435.3 316.5,435.3 317.0,435.2 317.5,435.1 318.0,435.1 318.5,435.0 319.0,434.9 319.5,434.7 320.0,434.6 320.5,434.4 321.0,434.1 321.5,433.8 322.0,433.5 322.5,433.0 323.0,432.5 323.5,431.9 324.0,431.2 324.5,430.4 325.0,429.7 325.5,429.2 326.0,429.0 326.5,429.2 327.0,429.7 327.5,430.4 328.0,431.1 328.5,431.9 329.0,432.5 329.5,433.0 330.0,433.4 330.5,433.8 331.0,434.1 331.5,434.3 332.0,434.5 332.5,434.7 333.0,434.8 333.5,434.9 334.0,435.0 334.5,435.1 335.0,435.2 335.5,435.2 336.0,435.3 336.5,435.3 337.0,435.3 337.5,435.4 338.0,435.4 338.5,435.4 339.0,435.4 339.5,435.4 340.0,435.4 340.5,435.4 341.0,435.4 341.5,435.4 342.0,435.3 342.5,435.3 343.0,435.3 343.5,435.3 344.0,435.2 344.5,435.2 345.0,435.1 345.5,435.1 346.0,435.0 346.5,435.0 347.0,434.9 347.5,434.8 348.0,434.7 348.5,434.6 349.0,434.5 349.5,434.4 350.0,434.2 350.5,434.1 351.0,433.9 351.5,433.7 352.0,433.4 352.5,433.2 353.0,432.8 353.5,432.4 354.0,432.0 354.5,431.5 355.0,430.9 355.5,430.1 356.0,429.2 356.5,428.2 357.0,426.9 357.5,425.3 358.0,423.3 358.5,421.0 359.0,418.3 359.5,415.2 360.0,411.9 360.5,408.8 361.0,406.6 361.5,405.8 362.0,406.6 362.5,408.8 363.0,411.9 363.5,415.2 364.0,418.3 364.5,421.0 365.0,423.3 365.5,425.2 366.0,426.8 366.5,428.1 367.0,429.2 367.5,430.1 368.0,430.8 368.5,431.5 369.0,432.0 369.5,432.4 370.0,432.8 370.5,433.1 371.0,433.4 371.5,433.6 372.0,433.9 372.5,434.0 373.0,434.2 373.5,434.3 374.0,434.5 374.5,434.6 375.0,434.7 375.5,434.8 376.0,434.8 376.5,434.9 377.0,435.0 377.5,435.0 378.0,435.1 378.5,435.1 379.0,435.2 379.5,435.2 380.0,435.2 380.5,435.2 381.0,435.3 381.5,435.3 382.0,435.3 382.5,435.3 383.0,435.3 383.5,435.3 384.0,435.3 384.5,435.3 385.0,435.3 385.5,435.3 386.0,435.3 386.5,435.3 387.0,435.2 387.5,435.2 388.0,435.2 388.5,435.1 389.0,435.1 389.5,435.0 390.0,434.9 390.5,434.8 391.0,434.7 391.5,434.6 392.0,434.5 392.5,434.3 393.0,434.1 393.5,433.8 394.0,433.5 394.5,433.1 395.0,432.7 395.5,432.2 396.0,431.6 396.5,431.0 397.0,430.4 397.5,429.9 398.0,429.7 398.5,429.8 399.0,430.1 399.5,430.5 400.0,430.9 400.5,431.3 401.0,431.6 401.5,431.9 402.0,432.0 402.5,432.0 403.0,432.0 403.5,431.8 404.0,431.6 404.5,431.2 405.0,430.8 405.5,430.1 406.0,429.4 406.5,428.4 407.0,427.3 407.5,425.8 408.0,424.2 408.5,422.3 409.0,420.4 409.5,418.7 410.0,417.6 410.5,417.4 411.0,418.1 411.5,419.4 412.0,420.9 412.5,422.5 413.0,423.8 413.5,424.8 414.0,425.5 414.5,425.9 415.0,426.1 415.5,426.2 416.0,426.3 416.5,426.6 417.0,427.2 417.5,427.9 418.0,428.8 418.5,429.7 419.0,430.6 419.5,431.3 420.0,431.9 420.5,432.4 421.0,432.9 421.5,433.2 422.0,433.5 422.5,433.8 423.0,434.0 423.5,434.2 424.0,434.3 424.5,434.5 425.0,434.6 425.5,434.7 426.0,434.8 426.5,434.8 427.0,434.9 427.5,435.0 428.0,435.0 428.5,435.0 429.0,435.1 429.5,435.1 430.0,435.1 430.5,435.1 431.0,435.1 431.5,435.1 432.0,435.1 432.5,435.1 433.0,435.1 433.5,435.1 434.0,435.1 434.5,435.1 435.0,435.0 435.5,435.0 436.0,435.0 436.5,434.9 437.0,434.8 437.5,434.8 438.0,434.7 438.5,434.6 439.0,434.5 439.5,434.3 440.0,434.2 440.5,434.0 441.0,433.8 441.5,433.6 442.0,433.3 442.5,433.0 443.0,432.6 443.5,432.1 444.0,431.6 444.5,430.9 445.0,430.0 445.5,429.0 446.0,427.8 446.5,426.3 447.0,424.6 447.5,422.8 448.0,420.8 448.5,419.2 449.0,418.2 449.5,418.1 450.0,418.9 450.5,420.4 451.0,422.3 451.5,424.1 452.0,425.9 452.5,427.3 453.0,428.6 453.5,429.6 454.0,430.4 454.5,431.1 455.0,431.6 455.5,432.1 456.0,432.4 456.5,432.7 457.0,433.0 457.5,433.1 458.0,433.3 458.5,433.4 459.0,433.4 459.5,433.5 460.0,433.5 460.5,433.5 461.0,433.5 461.5,433.4 462.0,433.3 462.5,433.2 463.0,433.0 463.5,432.8 464.0,432.6 464.5,432.3 465.0,431.9 465.5,431.5 466.0,430.9 466.5,430.3 467.0,429.6 467.5,428.6 468.0,427.5 468.5,426.1 469.0,424.4 469.5,422.4 470.0,419.9 470.5,417.1 471.0,414.0 471.5,411.0 472.0,408.5 472.5,407.1 473.0,407.3 473.5,409.0 474.0,411.6 474.5,414.7 475.0,417.8 475.5,420.6 476.0,423.0 476.5,425.0 477.0,426.7 477.5,428.0 478.0,429.1 478.5,430.1 479.0,430.8 479.5,431.5 480.0,432.0 480.5,432.5 481.0,432.9 481.5,433.2 482.0,433.5 482.5,433.8 483.0,434.0 483.5,434.2 484.0,434.4 484.5,434.5 485.0,434.7 485.5,434.8 486.0,434.9 486.5,435.0 487.0,435.1 487.5,435.2 488.0,435.2 488.5,435.3 489.0,435.4 489.5,435.4 490.0,435.5 490.5,435.5 491.0,435.6 491.5,435.6 492.0,435.6 492.5,435.7 493.0,435.7 493.5,435.8 494.0,435.8 494.5,435.8 495.0,435.8 495.5,435.9 496.0,435.9 496.5,435.9 497.0,435.9 497.5,435.9 498.0,436.0 498.5,436.0 499.0,436.0 499.5,436.0 500.0,436.0 500.5,436.0 501.0,436.1 501.5,436.1 502.0,436.1 502.5,436.1 503.0,436.1 503.5,436.1 504.0,436.1 504.5,436.1 505.0,436.1 505.5,436.1 506.0,436.2 506.5,436.2"/>
<polyline fill="none" stroke="#1c1c1c" stroke-width="1.5" stroke-linejoin="round" points="29.0,436.3 29.5,436.3 30.0,436.3 30.5,436.3 31.0,436.3 31.5,436.3 32.0,436.3 32.5,436.3 33.0,436.3 33.5,436.3 34.0,436.2 34.5,436.2 35.0,436.2 35.5,436.2 36.0,436.2 36.5,436.2 37.0,436.2 37.5,436.1 38.0,436.1 38.5,436.1 39.0,436.0 39.5,436.0 40.0,436.0 40.5,435.9 41.0,435.9 41.5,435.8 42.0,435.7 42.5,435.7 43.0,435.6 43.5,435.5 44.0,435.3 44.5,435.2 45.0,435.0 45.5,434.7 46.0,434.5 46.5,434.1 47.0,433.7 47.5,433.2 48.0,432.7 48.5,432.1 49.0,431.5 49.5,431.2 50.0,431.0 50.5,431.1 51.0,431.5 51.5,432.0 52.0,432.6 52.5,433.1 53.0,433.6 53.5,434.0 54.0,434.3 54.5,434.6 55.0,434.8 55.5,435.0 56.0,435.1 56.5,435.2 57.0,435.3 57.5,435.4 58.0,435.4 58.5,435.4 59.0,435.4 59.5,435.4 60.0,435.4 60.5,435.4 61.0,435.3 61.5,435.2 62.0,435.1 62.5,435.0 63.0,434.8 63.5,434.5 64.0,434.3 64.5,433.9 65.0,433.6 65.5,433.1 66.0,432.8 66.5,432.5 67.0,432.4 67.5,432.5 68.0,432.8 68.5,433.2 69.0,433.6 69.5,434.0 70.0,434.4 70.5,434.7 71.0,434.9 71.5,435.1 72.0,435.3 72.5,435.4 73.0,435.6 73.5,435.7 74.0,435.7 74.5,435.8 75.0,435.9 75.5,435.9 76.0,436.0 76.5,436.0 77.0,436.0 77.5,436.1 78.0,436.1 78.5,436.1 79.0,436.1 79.5,436.2 80.0,436.2 80.5,436.2 81.0,436.2 81.5,436.2 82.0,436.2 82.5,436.2 83.0,436.2 83.5,436.2 84.0,436.2 84.5,436.3 85.0,436.3 85.5,436.3 86.0,436.3 86.5,436.3 87.0,436.3 87.5,436.3 88.0,436.3 88.5,436.3 89.0,436.3 89.5,436.3 90.0,436.3 90.5,436.3 91.0,436.3 91.5,436.3 92.0,436.3 92.5,436.3 93.0,436.3 93.5,436.3 94.0,436.3 94.5,436.3 95.0,436.3 95.5,436.3 96.0,436.3 96.5,436.3 97.0,436.3 97.5,436.3 98.0,436.3 98.5,436.3 99.0,436.3 99.5,436.3 100.0,436.2 100.5,436.2 101.0,436.2 101.5,436.2 102.0,436.2 102.5,436.2 103.0,436.2 103.5,436.2 104.0,436.2 104.5,436.2 105.0,436.1 105.5,436.1 106.0,436.1 106.5,436.1 107.0,436.0 107.5,436.0 108.0,436.0 108.5,435.9 109.0,435.9 109.5,435.8 110.0,435.7 110.5,435.6 111.0,435.5 111.5,435.4 112.0,435.2 112.5,435.0 113.0,434.8 113.5,434.5 114.0,434.2 114.5,433.9 115.0,433.7 115.5,433.5 116.0,433.5 116.5,433.7 117.0,433.9 117.5,434.2 118.0,434.5 118.5,434.7 119.0,434.9 119.5,435.1 120.0,435.2 120.5,435.3 121.0,435.4 121.5,435.4 122.0,435.5 122.5,435.5 123.0,435.5 123.5,435.5 124.0,435.4 124.5,435.3 125.0,435.3 125.5,435.1 126.0,435.0 126.5,434.8 127.0,434.6 127.5,434.3 128.0,434.0 128.5,433.8 129.0,433.6 129.5,433.5 130.0,433.6 130.5,433.8 131.0,434.1 131.5,434.4 132.0,434.6 132.5,434.9 133.0,435.1 133.5,435.3 134.0,435.4 134.5,435.5 135.0,435.6 135.5,435.7 136.0,435.8 136.5,435.8 137.0,435.9 137.5,435.9 138.0,435.9 138.5,436.0 139.0,436.0 139.5,436.0 140.0,436.0 140.5,436.0 141.0,436.1 141.5,436.1 142.0,436.1 142.5,436.1 143.0,436.1 143.5,436.1 144.0,436.1 144.5,436.1 145.0,436.1 145.5,436.1 146.0,436.1 146.5,436.1 147.0,436.1 147.5,436.1 148.0,436.1 148.5,436.1 149.0,436.1 149.5,436.1 150.0,436.1 150.5,436.1 151.0,436.1 151.5,436.1 152.0,436.1 152.5,436.0 153.0,436.0 153.5,436.0 154.0,436.0 154.5,436.0 155.0,436.0 155.5,436.0 156.0,436.0 156.5,436.0 157.0,435.9 157.5,435.9 158.0,435.9 158.5,435.9 159.0,435.9 159.5,435.8 160.0,435.8 160.5,435.8 161.0,435.8 161.5,435.7 162.0,435.7 162.5,435.7 163.0,435.6 163.5,435.6 164.0,435.6 164.5,435.5 165.0,435.5 165.5,435.4 166.0,435.3 166.5,435.3 167.0,435.2 167.5,435.1 168.0,435.0 168.5,434.9 169.0,434.8 169.5,434.6 170.0,434.5 170.5,434.3 171.0,434.1 171.5,433.9 172.0,433.6 172.5,433.3 173.0,432.9 173.5,432.4 174.0,431.9 174.5,431.2 175.0,430.4 175.5,429.5 176.0,428.3 176.5,426.9 177.0,425.4 177.5,423.6 178.0,421.9 178.5,420.5 179.0,419.7 179.5,419.7 180.0,420.5 180.5,421.9 181.0,423.5 181.5,425.0 182.0,426.4 182.5,427.6 183.0,428.5 183.5,429.2 184.0,429.8 184.5,430.2 185.0,430.4 185.5,430.5 186.0,430.6 186.5,430.5 187.0,430.3 187.5,430.0 188.0,429.5 188.5,428.9 189.0,428.1 189.5,427.1 190.0,425.9 190.5,424.3 191.0,422.4 191.5,420.2 192.0,417.5 192.5,414.6 193.0,411.7 193.5,409.4 194.0,408.1 194.5,408.3 195.0,409.9 195.5,412.5 196.0,415.5 196.5,418.4 197.0,421.1 197.5,423.4 198.0,425.3 198.5,426.9 199.0,428.2 199.5,429.3 200.0,430.2 200.5,431.0 201.0,431.6 201.5,432.1 202.0,432.5 202.5,432.9 203.0,433.3 203.5,433.5 204.0,433.8 204.5,434.0 205.0,434.2 205.5,434.4 206.0,434.5 206.5,434.6 207.0,434.8 207.5,434.9 208.0,435.0 208.5,435.0 209.0,435.1 209.5,435.2 210.0,435.3 210.5,435.3 211.0,435.4 211.5,435.4 212.0,435.5 212.5,435.5 213.0,435.6 213.5,435.6 214.0,435.6 214.5,435.7 215.0,435.7 215.5,435.7 216.0,435.7 216.5,435.8 217.0,435.8 217.5,435.8 218.0,435.8 218.5,435.8 219.0,435.9 219.5,435.9 220.0,435.9 220.5,435.9 221.0,435.9 221.5,435.9 222.0,435.9 222.5,436.0 223.0,436.0 223.5,436.0 224.0,436.0 224.5,436.0 225.0,436.0 225.5,436.0 226.0,436.0 226.5,436.0 227.0,436.0 227.5,436.0 228.0,436.0 228.5,436.0 229.0,436.1 229.5,436.1 230.0,436.1 230.5,436.1 231.0,436.1 231.5,436.1 232.0,436.1 232.5,436.1 233.0,436.1 233.5,436.1 234.0,436.1 234.5,436.1 235.0,436.1 235.5,436.1 236.0,436.1 236.5,436.1 237.0,436.1 237.5,436.1 238.0,436.1 238.5,436.1 239.0,436.1 239.5,436.1 240.0,436.1 240.5,436.1 241.0,436.1 241.5,436.1 242.0,436.1 242.5,436.1 243.0,436.1 243.5,436.1 244.0,436.1 244.5,436.1 245.0,436.0 245.5,436.0 246.0,436.0 246.5,436.0 247.0,436.0 247.5,436.0 248.0,436.0 248.5,436.0 249.0,436.0 249.5,436.0 250.0,436.0 250.5,436.0 251.0,436.0 251.5,436.0 252.0,436.0 252.5,435.9 253.0,435.9 253.5,435.9 254.0,435.9 254.5,435.9 255.0,435.9 255.5,435.9 256.0,435.9 256.5,435.8 257.0,435.8 257.5,435.8 258.0,435.8 258.5,435.8 259.0,435.8 259.5,435.7 260.0,435.7 260.5,435.7 261.0,435.7 261.5,435.6 262.0,435.6 262.5,435.6 263.0,435.6 263.5,435.5 264.0,435.5 264.5,435.5 265.0,435.4 265.5,435.4 266.0,435.3 266.5,435.3 267.0,435.2 267.5,435.2 268.0,435.1 268.5,435.1 269.0,435.0 269.5,434.9 270.0,434.8 270.5,434.7 271.0,434.6 271.5,434.5 272.0,434.4 272.5,434.3 273.0,434.2 273.5,434.0 274.0,433.8 274.5,433.7 275.0,433.5 275.5,433.2 276.0,433.0 276.5,432.7 277.0,432.4 277.5,432.0 278.0,431.6 278.5,431.1 279.0,430.5 279.5,429.9 280.0,429.1 280.5,428.2 281.0,427.1 281.5,425.9 282.0,424.4 282.5,422.5 283.0,420.3 283.5,417.6 284.0,414.4 284.5,410.4 285.0,405.7 285.5,400.4 286.0,394.7 286.5,389.1 287.0,384.9 287.5,382.9 288.0,383.7 288.5,387.2 289.0,392.3 289.5,398.1 290.0,403.6 290.5,408.5 291.0,412.8 291.5,416.3 292.0,419.2 292.5,421.5 293.0,423.5 293.5,425.1 294.0,426.4 294.5,427.5 295.0,428.4 295.5,429.2 296.0,429.9 296.5,430.4 297.0,430.9 297.5,431.3 298.0,431.6 298.5,431.9 299.0,432.1 299.5,432.3 300.0,432.5 300.5,432.6 301.0,432.6 301.5,432.7 302.0,432.6 302.5,432.6 303.0,432.5 303.5,432.3 304.0,432.0 304.5,431.7 305.0,431.3 305.5,430.7 306.0,430.0 306.5,429.2 307.0,428.3 307.5,427.3 308.0,426.5 308.5,426.1 309.0,426.1 309.5,426.5 310.0,427.4 310.5,428.4 311.0,429.4 311.5,430.4 312.0,431.2 312.5,431.9 313.0,432.5 313.5,432.9 314.0,433.3 314.5,433.7 315.0,433.9 315.5,434.2 316.0,434.4 316.5,434.5 317.0,434.7 317.5,434.8 318.0,434.9 318.5,435.0 319.0,435.1 319.5,435.2 320.0,435.2 320.5,435.3 321.0,435.3 321.5,435.4 322.0,435.4 322.5,435.5 323.0,435.5 323.5,435.5 324.0,435.6 324.5,435.6 325.0,435.6 325.5,435.6 326.0,435.7 326.5,435.7 327.0,435.7 327.5,435.7 328.0,435.7 328.5,435.7 329.0,435.7 329.5,435.8 330.0,435.8 330.5,435.8 331.0,435.8 331.5,435.8 332.0,435.8 332.5,435.8 333.0,435.8 333.5,435.8 334.0,435.8 334.5,435.8 335.0,435.8 335.5,435.8 336.0,435.8 336.5,435.8 337.0,435.8 337.5,435.7 338.0,435.7 338.5,435.7 339.0,435.7 339.5,435.7 340.0,435.7 340.5,435.6 341.0,435.6 341.5,435.6 342.0,435.6 342.5,435.5 343.0,435.5 343.5,435.4 344.0,435.4 344.5,435.3 345.0,435.2 345.5,435.2 346.0,435.1 346.5,435.0 347.0,434.9 347.5,434.7 348.0,434.5 348.5,434.4 349.0,434.1 349.5,433.8 350.0,433.5 350.5,433.1 351.0,432.6 351.5,432.0 352.0,431.3 352.5,430.5 353.0,429.5 353.5,428.5 354.0,427.6 354.5,426.9 355.0,426.6 355.5,426.8 356.0,427.5 356.5,428.4 357.0,429.3 357.5,430.2 358.0,431.0 358.5,431.7 359.0,432.2 359.5,432.6 360.0,432.9 360.5,433.2 361.0,433.4 361.5,433.5 362.0,433.6 362.5,433.7 363.0,433.7 363.5,433.7 364.0,433.6 364.5,433.6 365.0,433.4 365.5,433.3 366.0,433.1 366.5,432.8 367.0,432.5 367.5,432.1 368.0,431.6 368.5,431.0 369.0,430.2 369.5,429.3 370.0,428.2 370.5,426.8 371.0,425.2 371.5,423.2 372.0,421.1 372.5,419.0 373.0,417.1 373.5,416.0 374.0,415.9 374.5,416.9 375.0,418.6 375.5,420.8 376.0,422.9 376.5,424.9 377.0,426.7 377.5,428.1 378.0,429.3 378.5,430.3 379.0,431.1 379.5,431.8 380.0,432.3 380.5,432.8 381.0,433.2 381.5,433.5 382.0,433.8 382.5,434.0 383.0,434.2 383.5,434.4 384.0,434.6 384.5,434.7 385.0,434.8 385.5,434.9 386.0,435.0 386.5,435.1 387.0,435.2 387.5,435.3 388.0,435.3 388.5,435.4 389.0,435.4 389.5,435.5 390.0,435.5 390.5,435.6 391.0,435.6 391.5,435.6 392.0,435.7 392.5,435.7 393.0,435.7 393.5,435.7 394.0,435.8 394.5,435.8 395.0,435.8 395.5,435.8 396.0,435.8 396.5,435.8 397.0,435.8 397.5,435.9 398.0,435.9 398.5,435.9 399.0,435.9 399.5,435.9 400.0,435.9 400.5,435.9 401.0,435.9 401.5,435.9 402.0,435.9 402.5,435.9 403.0,435.9 403.5,435.9 404.0,435.9 404.5,435.9 405.0,435.9 405.5,435.9 406.0,435.9 406.5,435.9 407.0,435.9 407.5,435.9 408.0,435.9 408.5,435.9 409.0,435.9 409.5,435.9 410.0,435.9 410.5,435.9 411.0,435.9 411.5,435.9 412.0,435.9 412.5,435.8 413.0,435.8 413.5,435.8 414.0,435.8 414.5,435.8 415.0,435.8 415.5,435.8 416.0,435.7 416.5,435.7 417.0,435.7 417.5,435.7 418.0,435.6 418.5,435.6 419.0,435.6 419.5,435.6 420.0,435.5 420.5,435.5 421.0,435.4 421.5,435.4 422.0,435.3 422.5,435.3 423.0,435.2 423.5,435.2 424.0,435.1 424.5,435.0 425.0,435.0 425.5,434.9 426.0,434.8 426.5,434.7 427.0,434.5 427.5,434.4 428.0,434.2 428.5,434.1 429.0,433.9 429.5,433.7 430.0,433.4 430.5,433.1 431.0,432.8 431.5,432.4 432.0,431.9 432.5,431.4 433.0,430.8 433.5,430.0 434.0,429.1 434.5,428.0 435.0,426.7 435.5,425.1 436.0,423.1 436.5,420.8 437.0,418.0 437.5,414.8 438.0,411.4 438.5,408.1 439.0,405.5 439.5,404.3 440.0,404.9 440.5,406.9 441.0,410.0 441.5,413.4 442.0,416.7 442.5,419.6 443.0,422.2 443.5,424.3 444.0,426.0 444.5,427.4 445.0,428.6 445.5,429.5 446.0,430.3 446.5,431.0 447.0,431.5 447.5,432.0 448.0,432.4 448.5,432.7 449.0,433.0 449.5,433.3 450.0,433.5 450.5,433.7 451.0,433.8 451.5,434.0 452.0,434.1 452.5,434.2 453.0,434.3 453.5,434.3 454.0,434.4 454.5,434.4 455.0,434.5 455.5,434.5 456.0,434.5 456.5,434.5 457.0,434.5 457.5,434.5 458.0,434.5 458.5,434.5 459.0,434.5 459.5,434.4 460.0,434.4 460.5,434.3 461.0,434.2 461.5,434.1 462.0,434.0 462.5,433.9 463.0,433.8 463.5,433.6 464.0,433.4 464.5,433.2 465.0,433.0 465.5,432.7 466.0,432.3 466.5,431.9 467.0,431.5 467.5,430.9 468.0,430.3 468.5,429.5 469.0,428.5 469.5,427.4 470.0,426.0 470.5,424.4 471.0,422.3 471.5,419.8 472.0,416.9 472.5,413.5 473.0,409.8 473.5,406.1 474.0,403.1 474.5,401.5 475.0,401.6 475.5,403.6 476.0,406.8 476.5,410.6 477.0,414.3 477.5,417.6 478.0,420.5 478.5,422.9 479.0,424.8 479.5,426.5 480.0,427.8 480.5,428.9 481.0,429.8 481.5,430.6 482.0,431.3 482.5,431.8 483.0,432.3 483.5,432.7 484.0,433.0 484.5,433.3 485.0,433.6 485.5,433.8 486.0,434.0 486.5,434.2 487.0,434.4 487.5,434.5 488.0,434.6 488.5,434.8 489.0,434.9 489.5,435.0 490.0,435.1 490.5,435.1 491.0,435.2 491.5,435.3 492.0,435.3 492.5,435.4 493.0,435.4 493.5,435.5 494.0,435.5 494.5,435.6 495.0,435.6 495.5,435.7 496.0,435.7 496.5,435.7 497.0,435.8 497.5,435.8 498.0,435.8 498.5,435.8 499.0,435.9 499.5,435.9 500.0,435.9 500.5,435.9 501.0,435.9 501.5,436.0 502.0,436.0 502.5,436.0 503.0,436.0 503.5,436.0 504.0,436.0 504.5,436.1 505.0,436.1 505.5,436.1 506.0,436.1 506.5,436.1"/>
<line x1="52.2" y1="341" x2="52.2" y2="363" stroke="#1c1c1c" stroke-width="1.7" stroke-dasharray="4.3 4.9"/>
<line x1="66.8" y1="340" x2="66.8" y2="355" stroke="#1c1c1c" stroke-width="1.7" stroke-dasharray="4.3 4.9"/>
<line x1="113.8" y1="311" x2="113.8" y2="359.7" stroke="#1c1c1c" stroke-width="1.7" stroke-dasharray="4.3 4.9"/>
<line x1="130.2" y1="323.9" x2="130.2" y2="371.2" stroke="#1c1c1c" stroke-width="1.7" stroke-dasharray="4.3 4.9"/>
<line x1="168.8" y1="291.6" x2="168.8" y2="341.2" stroke="#1c1c1c" stroke-width="1.7" stroke-dasharray="4.3 4.9"/>
<line x1="185" y1="340" x2="185" y2="386.3" stroke="#1c1c1c" stroke-width="1.7" stroke-dasharray="4.3 4.9"/>
<line x1="287.4" y1="323.9" x2="287.4" y2="372.3" stroke="#1c1c1c" stroke-width="1.7" stroke-dasharray="4.3 4.9"/>
<line x1="353.8" y1="278.9" x2="353.8" y2="328.5" stroke="#1c1c1c" stroke-width="1.7" stroke-dasharray="4.3 4.9"/>
<line x1="372.7" y1="313.5" x2="372.7" y2="363" stroke="#1c1c1c" stroke-width="1.7" stroke-dasharray="4.3 4.9"/>
<line x1="438.5" y1="325" x2="438.5" y2="375.8" stroke="#1c1c1c" stroke-width="1.7" stroke-dasharray="4.3 4.9"/>
<line x1="472.4" y1="334.2" x2="472.4" y2="382.8" stroke="#1c1c1c" stroke-width="1.7" stroke-dasharray="4.3 4.9"/>
<line x1="53.5" y1="345" x2="53.5" y2="363" stroke="#ec2f36" stroke-width="1.7" stroke-dasharray="4.3 4.9"/>
<line x1="63.8" y1="333" x2="63.8" y2="358.5" stroke="#ec2f36" stroke-width="1.7" stroke-dasharray="4.3 4.9"/>
<line x1="128" y1="323.9" x2="128" y2="358.5" stroke="#ec2f36" stroke-width="1.7" stroke-dasharray="4.3 4.9"/>
<line x1="140.4" y1="329.6" x2="140.4" y2="363" stroke="#ec2f36" stroke-width="1.7" stroke-dasharray="4.3 4.9"/>
<line x1="166.5" y1="292.7" x2="166.5" y2="326" stroke="#ec2f36" stroke-width="1.7" stroke-dasharray="4.3 4.9"/>
<line x1="182.7" y1="333" x2="182.7" y2="365.5" stroke="#ec2f36" stroke-width="1.7" stroke-dasharray="4.3 4.9"/>
<line x1="257" y1="298.5" x2="257" y2="333" stroke="#ec2f36" stroke-width="1.7" stroke-dasharray="4.3 4.9"/>
<line x1="285" y1="323.9" x2="285" y2="357.3" stroke="#ec2f36" stroke-width="1.7" stroke-dasharray="4.3 4.9"/>
<line x1="324.5" y1="305.4" x2="324.5" y2="338.9" stroke="#ec2f36" stroke-width="1.7" stroke-dasharray="4.3 4.9"/>
<line x1="359.8" y1="291.6" x2="359.8" y2="325" stroke="#ec2f36" stroke-width="1.7" stroke-dasharray="4.3 4.9"/>
<line x1="448.2" y1="328.5" x2="448.2" y2="363" stroke="#ec2f36" stroke-width="1.7" stroke-dasharray="4.3 4.9"/>
<line x1="43.7" y1="355" x2="43.7" y2="380.4" stroke="#44d944" stroke-width="1.7" stroke-dasharray="4.3 4.9"/>
<line x1="61.5" y1="329.6" x2="61.5" y2="360.8" stroke="#44d944" stroke-width="1.7" stroke-dasharray="4.3 4.9"/>
<line x1="260.8" y1="311" x2="260.8" y2="364" stroke="#44d944" stroke-width="1.7" stroke-dasharray="4.3 4.9"/>
<line x1="422.8" y1="345.8" x2="422.8" y2="380.4" stroke="#44d944" stroke-width="1.7" stroke-dasharray="4.3 4.9"/>
<line x1="481.9" y1="347" x2="481.9" y2="382.8" stroke="#44d944" stroke-width="1.7" stroke-dasharray="4.3 4.9"/>
<polyline fill="none" stroke="#e8343c" stroke-width="1.3" stroke-linejoin="round" points="28.0,354.3 29.0,354.3 30.1,354.3 31.1,354.3 32.2,354.3 33.2,354.3 34.3,354.3 35.3,354.3 36.4,354.3 37.4,354.3 38.5,354.3 39.5,354.3 40.5,353.9 41.6,353.0 42.6,351.5 43.7,349.7 44.7,347.6 45.8,345.4 46.8,343.3 47.9,341.2 48.9,339.5 50.0,338.1 51.0,337.3 52.2,336.8 53.3,336.5 54.5,336.2 55.6,335.9 56.8,335.4 57.8,334.7 58.8,333.6 59.9,332.2 60.9,330.7 61.9,329.3 62.9,327.9 64.0,326.8 65.0,326.0 66.0,325.7 67.0,325.8 68.0,326.1 69.0,326.7 70.0,327.3 71.0,328.1 72.0,328.9 73.0,329.9 74.0,330.8 75.0,332.2 76.1,334.2 77.2,336.7 78.2,339.5 79.2,342.4 80.3,345.2 81.3,347.7 82.4,349.8 83.5,351.1 84.5,351.6 85.5,351.3 86.6,350.5 87.7,349.3 88.7,347.8 89.8,346.0 90.8,343.9 91.8,341.8 92.9,339.6 94.0,337.4 95.0,335.4 96.0,333.2 97.1,330.7 98.1,327.9 99.2,325.0 100.2,322.0 101.3,319.0 102.3,316.1 103.4,313.5 104.4,311.1 105.5,309.2 106.5,307.7 107.6,306.4 108.8,305.1 109.9,304.1 111.1,303.4 112.2,303.1 113.4,303.4 114.5,304.3 115.7,305.4 116.8,307.5 118.0,310.7 119.2,313.9 120.3,315.8 121.5,316.6 122.6,317.2 123.8,317.8 124.9,318.2 126.0,318.5 127.2,318.8 128.3,319.0 129.3,319.2 130.4,319.3 131.4,319.4 132.5,319.5 133.5,319.6 134.6,319.8 135.6,319.9 136.7,320.0 137.7,320.2 138.8,320.4 139.8,320.7 140.8,321.3 141.8,321.9 142.9,322.6 143.9,323.2 144.9,323.8 145.9,324.2 146.9,324.3 148.1,323.6 149.2,321.8 150.4,319.2 151.5,316.2 152.7,313.0 153.8,310.0 154.8,307.1 155.8,303.5 156.9,299.5 157.9,295.4 158.9,291.4 159.9,287.8 161.0,284.9 162.0,283.0 163.0,282.3 164.0,282.5 165.0,282.9 166.0,283.7 167.0,284.6 168.0,285.7 169.0,286.8 170.0,288.0 171.0,289.4 172.0,291.2 173.0,293.3 174.0,295.7 175.0,298.1 176.0,300.6 177.0,303.0 178.0,305.3 179.0,307.7 180.0,310.1 181.0,312.6 182.0,315.2 183.0,317.9 184.0,320.8 185.0,323.9 186.0,327.8 187.0,332.8 188.0,338.1 189.0,343.4 190.0,348.0 191.0,351.3 192.0,352.8 193.0,353.2 194.0,353.5 195.0,353.8 196.0,354.0 197.0,354.2 198.0,354.3 199.0,354.4 200.0,354.4 201.0,354.4 202.1,354.4 203.1,354.4 204.1,354.4 205.2,354.4 206.2,354.4 207.2,354.4 208.3,354.4 209.3,354.4 210.3,354.4 211.3,354.4 212.4,354.4 213.4,354.4 214.4,354.4 215.5,354.4 216.5,354.4 217.5,354.4 218.6,354.4 219.6,354.4 220.6,354.2 221.6,353.7 222.6,353.0 223.6,352.0 224.7,350.9 225.7,349.7 226.7,348.3 227.7,347.0 228.7,345.4 229.8,343.5 230.8,341.2 231.8,338.7 232.9,336.0 233.9,333.1 234.9,330.0 236.0,327.0 237.0,323.9 238.0,320.4 239.1,316.0 240.1,311.2 241.1,306.1 242.2,301.0 243.2,296.3 244.2,292.1 245.2,288.8 246.3,286.6 247.3,285.8 248.5,286.0 249.6,286.5 250.8,287.0 252.0,287.6 253.1,288.4 254.2,289.0 255.4,289.3 256.7,289.1 258.0,288.8 259.0,289.3 260.0,290.7 261.0,292.7 262.0,295.1 263.0,297.6 264.0,299.9 265.0,301.8 266.0,303.0 267.0,303.7 268.0,304.3 269.0,304.8 270.0,305.2 271.0,305.7 272.0,306.1 273.0,306.6 274.0,307.2 275.0,307.9 276.0,308.7 277.0,309.4 278.0,309.9 279.0,310.3 280.0,310.5 281.2,310.1 282.3,309.1 283.5,308.0 284.6,307.0 285.8,306.6 286.9,307.5 288.1,309.7 289.2,312.8 290.4,316.2 291.5,319.3 292.7,322.4 293.8,325.9 295.0,329.3 296.1,332.6 297.3,335.4 298.4,337.9 299.6,340.6 300.8,343.0 301.9,345.1 303.1,346.5 304.2,347.0 305.4,346.5 306.5,345.0 307.7,342.9 308.8,340.4 310.0,337.7 311.0,334.8 312.0,330.9 313.0,326.3 314.0,321.4 315.0,316.5 316.0,311.8 317.0,307.7 318.1,303.4 319.3,299.0 320.4,294.7 321.5,290.9 322.7,287.8 323.8,285.8 324.8,284.6 325.8,283.6 326.9,282.8 327.9,282.0 328.9,281.4 329.9,280.8 331.0,280.2 332.0,279.6 333.0,278.9 334.0,278.2 335.1,277.4 336.1,276.7 337.1,276.0 338.2,275.3 339.2,274.6 340.2,274.0 341.3,273.5 342.3,273.0 343.3,272.6 344.4,272.1 345.4,271.7 346.5,271.3 347.5,270.9 348.6,270.5 349.6,270.2 350.7,270.0 351.7,269.8 352.8,269.6 353.8,269.6 354.8,270.2 355.8,271.9 356.8,274.3 357.8,277.0 358.8,279.9 359.8,282.5 360.8,284.6 361.9,286.3 362.9,287.8 363.9,289.2 365.0,290.5 366.1,291.8 367.1,293.1 368.1,294.6 369.2,296.2 370.3,298.0 371.3,299.9 372.4,302.0 373.4,304.2 374.5,306.5 375.6,308.8 376.6,311.1 377.7,313.4 378.8,315.7 379.8,317.9 380.9,320.0 381.9,322.0 383.0,323.9 384.0,325.6 385.1,327.2 386.1,328.8 387.1,330.3 388.2,331.8 389.2,333.2 390.2,334.7 391.3,336.2 392.3,337.7 393.3,339.3 394.3,341.1 395.4,342.9 396.4,344.7 397.4,346.4 398.4,348.0 399.5,349.5 400.5,350.7 401.5,351.6 402.5,352.3 403.5,353.0 404.5,353.6 405.5,354.2 406.5,354.6 407.5,354.9 408.5,355.0 409.6,354.6 410.8,353.5 411.9,352.0 413.1,350.3 414.2,348.6 415.4,347.0 416.4,345.8 417.4,344.6 418.5,343.3 419.5,342.1 420.5,340.8 421.5,339.6 422.6,338.2 423.6,336.8 424.6,335.4 425.8,333.6 426.9,331.6 428.1,329.6 429.2,327.5 430.4,325.6 431.5,323.9 432.5,322.4 433.5,320.9 434.5,319.3 435.6,317.9 436.6,316.6 437.6,315.5 438.6,314.8 439.6,314.6 440.6,314.8 441.7,315.3 442.7,316.1 443.8,317.1 444.8,318.1 445.8,319.1 446.9,320.1 447.9,320.9 449.0,321.4 450.0,321.6 451.0,321.3 452.0,320.6 453.0,319.5 454.0,318.3 455.0,317.2 456.0,316.3 457.0,315.8 458.0,315.6 459.0,315.3 460.0,315.1 461.0,314.9 462.0,314.8 463.0,314.7 464.0,314.6 465.0,314.6 466.1,315.0 467.2,316.2 468.2,317.9 469.3,319.9 470.4,322.0 471.5,323.9 472.5,325.6 473.5,327.6 474.5,329.6 475.6,331.7 476.6,333.8 477.6,335.7 478.6,337.4 479.6,338.9 480.6,340.1 481.6,341.2 482.6,342.2 483.6,343.1 484.7,344.0 485.7,344.9 486.7,345.9 487.7,347.0 488.9,348.6 490.0,350.5 491.2,352.4 492.3,353.8 493.5,354.4 494.5,354.4 495.5,354.4 496.5,354.4 497.5,354.4 498.5,354.4 499.5,354.4 500.5,354.4 501.5,354.4 502.5,354.4 503.5,354.4 504.5,354.4 505.5,354.4 506.5,354.4 507.5,354.4"/>
<rect x="28" y="251" width="479.7" height="186.2" fill="none" stroke="#333" stroke-width="1.6"/>
<line x1="81.3" y1="251" x2="81.3" y2="256.5" stroke="#222" stroke-width="1.3"/>
<line x1="81.3" y1="437.2" x2="81.3" y2="431.7" stroke="#222" stroke-width="1.3"/>
<line x1="134.6" y1="251" x2="134.6" y2="256.5" stroke="#222" stroke-width="1.3"/>
<line x1="134.6" y1="437.2" x2="134.6" y2="431.7" stroke="#222" stroke-width="1.3"/>
<line x1="187.9" y1="251" x2="187.9" y2="256.5" stroke="#222" stroke-width="1.3"/>
<line x1="187.9" y1="437.2" x2="187.9" y2="431.7" stroke="#222" stroke-width="1.3"/>
<line x1="241.2" y1="251" x2="241.2" y2="256.5" stroke="#222" stroke-width="1.3"/>
<line x1="241.2" y1="437.2" x2="241.2" y2="431.7" stroke="#222" stroke-width="1.3"/>
<line x1="294.5" y1="251" x2="294.5" y2="256.5" stroke="#222" stroke-width="1.3"/>
<line x1="294.5" y1="437.2" x2="294.5" y2="431.7" stroke="#222" stroke-width="1.3"/>
<line x1="347.8" y1="251" x2="347.8" y2="256.5" stroke="#222" stroke-width="1.3"/>
<line x1="347.8" y1="437.2" x2="347.8" y2="431.7" stroke="#222" stroke-width="1.3"/>
<line x1="401.1" y1="251" x2="401.1" y2="256.5" stroke="#222" stroke-width="1.3"/>
<line x1="401.1" y1="437.2" x2="401.1" y2="431.7" stroke="#222" stroke-width="1.3"/>
<line x1="454.4" y1="251" x2="454.4" y2="256.5" stroke="#222" stroke-width="1.3"/>
<line x1="454.4" y1="437.2" x2="454.4" y2="431.7" stroke="#222" stroke-width="1.3"/>
<line x1="28" y1="270.7" x2="30.2" y2="270.7" stroke="#222" stroke-width="1.3"/>
<line x1="28" y1="291.5" x2="30.2" y2="291.5" stroke="#222" stroke-width="1.3"/>
<line x1="28" y1="312.3" x2="30.2" y2="312.3" stroke="#222" stroke-width="1.3"/>
<line x1="28" y1="333.1" x2="30.2" y2="333.1" stroke="#222" stroke-width="1.3"/>
<line x1="28" y1="353.9" x2="30.2" y2="353.9" stroke="#222" stroke-width="1.3"/>
<line x1="28" y1="374.7" x2="30.2" y2="374.7" stroke="#222" stroke-width="1.3"/>
<line x1="28" y1="395.5" x2="30.2" y2="395.5" stroke="#222" stroke-width="1.3"/>
<line x1="28" y1="416.3" x2="30.2" y2="416.3" stroke="#222" stroke-width="1.3"/>
<line x1="507.7" y1="270.7" x2="505.5" y2="270.7" stroke="#222" stroke-width="1.3"/>
<line x1="507.7" y1="291.5" x2="505.5" y2="291.5" stroke="#222" stroke-width="1.3"/>
<line x1="507.7" y1="312.3" x2="505.5" y2="312.3" stroke="#222" stroke-width="1.3"/>
<line x1="507.7" y1="333.1" x2="505.5" y2="333.1" stroke="#222" stroke-width="1.3"/>
<line x1="507.7" y1="353.9" x2="505.5" y2="353.9" stroke="#222" stroke-width="1.3"/>
<line x1="507.7" y1="374.7" x2="505.5" y2="374.7" stroke="#222" stroke-width="1.3"/>
<line x1="507.7" y1="395.5" x2="505.5" y2="395.5" stroke="#222" stroke-width="1.3"/>
<line x1="507.7" y1="416.3" x2="505.5" y2="416.3" stroke="#222" stroke-width="1.3"/>
<polyline fill="none" stroke="#44d944" stroke-width="1.5" stroke-linejoin="round" points="29.0,693.3 29.5,693.2 30.0,693.1 30.5,692.9 31.0,692.8 31.5,692.6 32.0,692.5 32.5,692.3 33.0,692.1 33.5,691.9 34.0,691.7 34.5,691.5 35.0,691.2 35.5,690.9 36.0,690.6 36.5,690.3 37.0,689.9 37.5,689.5 38.0,689.1 38.5,688.6 39.0,688.1 39.5,687.6 40.0,686.9 40.5,686.2 41.0,685.4 41.5,684.5 42.0,683.5 42.5,682.4 43.0,681.1 43.5,679.7 44.0,678.0 44.5,676.0 45.0,673.7 45.5,671.0 46.0,667.8 46.5,664.0 47.0,659.4 47.5,653.8 48.0,646.8 48.5,638.1 49.0,627.1 49.1,623.5"/>
<polyline fill="none" stroke="#44d944" stroke-width="1.5" stroke-linejoin="round" points="57.9,623.5 58.0,627.1 58.5,638.1 59.0,646.8 59.5,653.8 60.0,659.4 60.5,664.0 61.0,667.8 61.5,671.0 62.0,673.7 62.5,676.0 63.0,678.0 63.5,679.7 64.0,681.1 64.5,682.4 65.0,683.5 65.5,684.5 66.0,685.4 66.5,686.2 67.0,686.9 67.5,687.6 68.0,688.1 68.5,688.6 69.0,689.1 69.5,689.5 70.0,689.9 70.5,690.3 71.0,690.6 71.5,690.9 72.0,691.2 72.5,691.4 73.0,691.7 73.5,691.9 74.0,692.1 74.5,692.3 75.0,692.5 75.5,692.6 76.0,692.8 76.5,692.9 77.0,693.1 77.5,693.2 78.0,693.3 78.5,693.4 79.0,693.5 79.5,693.6 80.0,693.7 80.5,693.8 81.0,693.9 81.5,694.0 82.0,694.1 82.5,694.1 83.0,694.2 83.5,694.3 84.0,694.3 84.5,694.4 85.0,694.4 85.5,694.5 86.0,694.5 86.5,694.6 87.0,694.6 87.5,694.7 88.0,694.7 88.5,694.8 89.0,694.8 89.5,694.8 90.0,694.9 90.5,694.9 91.0,695.0 91.5,695.0 92.0,695.0 92.5,695.0 93.0,695.1 93.5,695.1 94.0,695.1 94.5,695.2 95.0,695.2 95.5,695.2 96.0,695.2 96.5,695.2 97.0,695.3 97.5,695.3 98.0,695.3 98.5,695.3 99.0,695.3 99.5,695.4 100.0,695.4 100.5,695.4 101.0,695.4 101.5,695.4 102.0,695.4 102.5,695.5 103.0,695.5 103.5,695.5 104.0,695.5 104.5,695.5 105.0,695.5 105.5,695.5 106.0,695.5 106.5,695.6 107.0,695.6 107.5,695.6 108.0,695.6 108.5,695.6 109.0,695.6 109.5,695.6 110.0,695.6 110.5,695.6 111.0,695.7 111.5,695.7 112.0,695.7 112.5,695.7 113.0,695.7 113.5,695.7 114.0,695.7 114.5,695.7 115.0,695.7 115.5,695.7 116.0,695.7 116.5,695.7 117.0,695.7 117.5,695.8 118.0,695.8 118.5,695.8 119.0,695.8 119.5,695.8 120.0,695.8 120.5,695.8 121.0,695.8 121.5,695.8 122.0,695.8 122.5,695.8 123.0,695.8 123.5,695.8 124.0,695.8 124.5,695.8 125.0,695.8 125.5,695.8 126.0,695.8 126.5,695.8 127.0,695.9 127.5,695.9 128.0,695.9 128.5,695.9 129.0,695.9 129.5,695.9 130.0,695.9 130.5,695.9 131.0,695.9 131.5,695.9 132.0,695.9 132.5,695.9 133.0,695.9 133.5,695.9 134.0,695.9 134.5,695.9 135.0,695.9 135.5,695.9 136.0,695.9 136.5,695.9 137.0,695.9 137.5,695.9 138.0,695.9 138.5,695.9 139.0,695.9 139.5,695.9 140.0,695.9 140.5,695.9 141.0,695.9 141.5,695.9 142.0,695.9 142.5,695.9 143.0,695.9 143.5,695.9 144.0,696.0 144.5,696.0 145.0,696.0 145.5,696.0 146.0,696.0 146.5,696.0 147.0,696.0 147.5,696.0 148.0,696.0 148.5,696.0 149.0,696.0 149.5,696.0 150.0,696.0 150.5,696.0 151.0,696.0 151.5,696.0 152.0,696.0 152.5,696.0 153.0,696.0 153.5,696.0 154.0,696.0 154.5,696.0 155.0,696.0 155.5,696.0 156.0,696.0 156.5,696.0 157.0,696.0 157.5,696.0 158.0,696.0 158.5,696.0 159.0,696.0 159.5,696.0 160.0,696.0 160.5,696.0 161.0,696.0 161.5,696.0 162.0,696.0 162.5,696.0 163.0,696.0 163.5,696.0 164.0,696.0 164.5,696.0 165.0,696.0 165.5,696.0 166.0,696.0 166.5,696.0 167.0,696.0 167.5,696.0 168.0,696.0 168.5,696.0 169.0,696.0 169.5,696.0 170.0,696.0 170.5,696.0 171.0,696.0 171.5,696.0 172.0,696.0 172.5,696.0 173.0,696.0 173.5,696.0 174.0,696.0 174.5,696.0 175.0,696.0 175.5,696.0 176.0,696.0 176.5,696.0 177.0,696.0 177.5,696.0 178.0,696.0 178.5,696.0 179.0,696.0 179.5,696.0 180.0,696.0 180.5,696.0 181.0,696.0 181.5,696.0 182.0,696.0 182.5,696.0 183.0,696.0 183.5,696.0 184.0,696.0 184.5,696.0 185.0,696.0 185.5,696.0 186.0,696.0 186.5,696.0 187.0,696.0 187.5,696.0 188.0,696.0 188.5,696.0 189.0,696.0 189.5,696.0 190.0,696.0 190.5,696.0 191.0,696.0 191.5,696.0 192.0,696.0 192.5,696.0 193.0,696.0 193.5,696.0 194.0,696.0 194.5,696.0 195.0,696.0 195.5,696.0 196.0,696.0 196.5,696.0 197.0,696.0 197.5,696.0 198.0,696.0 198.5,696.0 199.0,696.0 199.5,696.0 200.0,696.0 200.5,696.0 201.0,696.0 201.5,696.0 202.0,696.0 202.5,696.0 203.0,696.0 203.5,696.0 204.0,696.0 204.5,696.0 205.0,696.0 205.5,696.0 206.0,696.0 206.5,696.0 207.0,696.0 207.5,696.0 208.0,696.0 208.5,696.0 209.0,696.0 209.5,696.0 210.0,696.0 210.5,696.0 211.0,696.0 211.5,696.0 212.0,696.0 212.5,696.0 213.0,695.9 213.5,695.9 214.0,695.9 214.5,695.9 215.0,695.9 215.5,695.9 216.0,695.9 216.5,695.9 217.0,695.9 217.5,695.9 218.0,695.9 218.5,695.9 219.0,695.9 219.5,695.9 220.0,695.9 220.5,695.9 221.0,695.9 221.5,695.9 222.0,695.9 222.5,695.9 223.0,695.9 223.5,695.8 224.0,695.8 224.5,695.8 225.0,695.8 225.5,695.8 226.0,695.8 226.5,695.8 227.0,695.8 227.5,695.8 228.0,695.8 228.5,695.8 229.0,695.7 229.5,695.7 230.0,695.7 230.5,695.7 231.0,695.7 231.5,695.7 232.0,695.7 232.5,695.6 233.0,695.6 233.5,695.6 234.0,695.6 234.5,695.6 235.0,695.6 235.5,695.5 236.0,695.5 236.5,695.5 237.0,695.4 237.5,695.4 238.0,695.4 238.5,695.4 239.0,695.3 239.5,695.3 240.0,695.2 240.5,695.2 241.0,695.1 241.5,695.1 242.0,695.0 242.5,695.0 243.0,694.9 243.5,694.8 244.0,694.8 244.5,694.7 245.0,694.6 245.5,694.5 246.0,694.4 246.5,694.3 247.0,694.1 247.5,694.0 248.0,693.8 248.5,693.6 249.0,693.4 249.5,693.2 250.0,692.9 250.5,692.6 251.0,692.2 251.5,691.8 252.0,691.4 252.5,690.8 253.0,690.2 253.5,689.4 254.0,688.5 254.5,687.5 255.0,686.2 255.5,684.6 256.0,682.8 256.5,680.5 257.0,677.7 257.5,674.4 258.0,670.4 258.5,666.1 259.0,661.5 259.5,657.5 260.0,654.7 260.5,654.0 261.0,655.6 261.5,659.0 262.0,663.3 262.5,667.9 263.0,672.1 263.5,675.8 264.0,678.9 264.5,681.4 265.0,683.6 265.5,685.3 266.0,686.7 266.5,687.9 267.0,688.9 267.5,689.8 268.0,690.5 268.5,691.1 269.0,691.6 269.5,692.0 270.0,692.4 270.5,692.7 271.0,693.0 271.5,693.3 272.0,693.5 272.5,693.7 273.0,693.9 273.5,694.0 274.0,694.2 274.5,694.3 275.0,694.4 275.5,694.5 276.0,694.6 276.5,694.7 277.0,694.8 277.5,694.9 278.0,694.9 278.5,695.0 279.0,695.1 279.5,695.1 280.0,695.2 280.5,695.2 281.0,695.3 281.5,695.3 282.0,695.3 282.5,695.4 283.0,695.4 283.5,695.4 284.0,695.5 284.5,695.5 285.0,695.5 285.5,695.5 286.0,695.6 286.5,695.6 287.0,695.6 287.5,695.6 288.0,695.6 288.5,695.7 289.0,695.7 289.5,695.7 290.0,695.7 290.5,695.7 291.0,695.7 291.5,695.7 292.0,695.8 292.5,695.8 293.0,695.8 293.5,695.8 294.0,695.8 294.5,695.8 295.0,695.8 295.5,695.8 296.0,695.8 296.5,695.8 297.0,695.9 297.5,695.9 298.0,695.9 298.5,695.9 299.0,695.9 299.5,695.9 300.0,695.9 300.5,695.9 301.0,695.9 301.5,695.9 302.0,695.9 302.5,695.9 303.0,695.9 303.5,695.9 304.0,695.9 304.5,695.9 305.0,695.9 305.5,695.9 306.0,696.0 306.5,696.0 307.0,696.0 307.5,696.0 308.0,696.0 308.5,696.0 309.0,696.0 309.5,696.0 310.0,696.0 310.5,696.0 311.0,696.0 311.5,696.0 312.0,696.0 312.5,696.0 313.0,696.0 313.5,696.0 314.0,696.0 314.5,696.0 315.0,696.0 315.5,696.0 316.0,696.0 316.5,696.0 317.0,696.0 317.5,696.0 318.0,696.0 318.5,696.0 319.0,696.0 319.5,696.0 320.0,696.0 320.5,696.0 321.0,696.0 321.5,696.0 322.0,696.0 322.5,696.0 323.0,696.0 323.5,696.0 324.0,696.0 324.5,696.0 325.0,696.0 325.5,696.0 326.0,696.0 326.5,696.0 327.0,696.0 327.5,696.0 328.0,696.0 328.5,696.0 329.0,696.0 329.5,696.0 330.0,696.0 330.5,696.0 331.0,696.0 331.5,696.0 332.0,696.0 332.5,696.0 333.0,696.0 333.5,696.0 334.0,696.0 334.5,696.0 335.0,696.0 335.5,696.0 336.0,696.0 336.5,696.0 337.0,696.0 337.5,696.0 338.0,696.0 338.5,696.0 339.0,696.0 339.5,696.0 340.0,696.0 340.5,696.0 341.0,696.0 341.5,696.0 342.0,696.0 342.5,696.0 343.0,696.0 343.5,696.0 344.0,696.0 344.5,696.0 345.0,696.0 345.5,696.0 346.0,696.0 346.5,696.0 347.0,696.0 347.5,696.0 348.0,696.0 348.5,696.0 349.0,696.0 349.5,696.0 350.0,696.0 350.5,696.0 351.0,696.0 351.5,696.0 352.0,696.0 352.5,696.0 353.0,696.0 353.5,696.0 354.0,696.0 354.5,696.0 355.0,696.0 355.5,696.0 356.0,696.0 356.5,696.0 357.0,696.0 357.5,696.0 358.0,696.0 358.5,696.0 359.0,696.0 359.5,696.0 360.0,696.0 360.5,696.0 361.0,696.0 361.5,696.0 362.0,696.0 362.5,696.0 363.0,696.0 363.5,696.0 364.0,696.0 364.5,696.0 365.0,696.0 365.5,696.0 366.0,696.0 366.5,696.0 367.0,696.0 367.5,696.0 368.0,696.0 368.5,696.0 369.0,696.0 369.5,696.0 370.0,696.0 370.5,696.0 371.0,696.0 371.5,696.0 372.0,696.0 372.5,696.0 373.0,695.9 373.5,695.9 374.0,695.9 374.5,695.9 375.0,695.9 375.5,695.9 376.0,695.9 376.5,695.9 377.0,695.9 377.5,695.9 378.0,695.9 378.5,695.9 379.0,695.9 379.5,695.9 380.0,695.9 380.5,695.9 381.0,695.8 381.5,695.8 382.0,695.8 382.5,695.8 383.0,695.8 383.5,695.8 384.0,695.8 384.5,695.8 385.0,695.8 385.5,695.7 386.0,695.7 386.5,695.7 387.0,695.7 387.5,695.7 388.0,695.7 388.5,695.6 389.0,695.6 389.5,695.6 390.0,695.6 390.5,695.5 391.0,695.5 391.5,695.5 392.0,695.4 392.5,695.4 393.0,695.3 393.5,695.3 394.0,695.2 394.5,695.2 395.0,695.1 395.5,695.1 396.0,695.0 396.5,694.9 397.0,694.8 397.5,694.7 398.0,694.6 398.5,694.4 399.0,694.3 399.5,694.1 400.0,693.9 400.5,693.6 401.0,693.3 401.5,693.0 402.0,692.6 402.5,692.1 403.0,691.5 403.5,690.8 404.0,690.0 404.5,688.9 405.0,687.7 405.5,686.2 406.0,684.4 406.5,682.4 407.0,680.2 407.5,678.3 408.0,676.8 408.5,676.3 409.0,676.8 409.5,678.3 410.0,680.2 410.5,682.4 411.0,684.4 411.5,686.1 412.0,687.6 412.5,688.9 413.0,689.9 413.5,690.8 414.0,691.5 414.5,692.0 415.0,692.5 415.5,692.9 416.0,693.2 416.5,693.5 417.0,693.8 417.5,694.0 418.0,694.2 418.5,694.3 419.0,694.5 419.5,694.6 420.0,694.7 420.5,694.8 421.0,694.9 421.5,694.9 422.0,695.0 422.5,695.0 423.0,695.1 423.5,695.1 424.0,695.2 424.5,695.2 425.0,695.3 425.5,695.3 426.0,695.3 426.5,695.3 427.0,695.4 427.5,695.4 428.0,695.4 428.5,695.4 429.0,695.4 429.5,695.4 430.0,695.4 430.5,695.4 431.0,695.4 431.5,695.5 432.0,695.5 432.5,695.5 433.0,695.5 433.5,695.5 434.0,695.5 434.5,695.5 435.0,695.5 435.5,695.5 436.0,695.4 436.5,695.4 437.0,695.4 437.5,695.4 438.0,695.4 438.5,695.4 439.0,695.4 439.5,695.4 440.0,695.4 440.5,695.4 441.0,695.3 441.5,695.3 442.0,695.3 442.5,695.3 443.0,695.3 443.5,695.2 444.0,695.2 444.5,695.2 445.0,695.2 445.5,695.1 446.0,695.1 446.5,695.1 447.0,695.0 447.5,695.0 448.0,695.0 448.5,694.9 449.0,694.9 449.5,694.8 450.0,694.8 450.5,694.7 451.0,694.6 451.5,694.6 452.0,694.5 452.5,694.4 453.0,694.3 453.5,694.3 454.0,694.2 454.5,694.0 455.0,693.9 455.5,693.8 456.0,693.7 456.5,693.5 457.0,693.3 457.5,693.2 458.0,693.0 458.5,692.7 459.0,692.5 459.5,692.2 460.0,691.9 460.5,691.6 461.0,691.2 461.5,690.7 462.0,690.2 462.5,689.7 463.0,689.0 463.5,688.3 464.0,687.4 464.5,686.4 465.0,685.2 465.5,683.8 466.0,682.1 466.5,680.1 467.0,677.7 467.5,674.9 468.0,671.4 468.5,667.3 469.0,662.4 469.5,656.8 470.0,650.6 470.5,644.2 471.0,638.4 471.5,634.3 472.0,632.8 472.5,634.3 473.0,638.4 473.5,644.2 474.0,650.6 474.5,656.8 475.0,662.4 475.5,667.3 476.0,671.4 476.5,674.9 477.0,677.7 477.5,680.1 478.0,682.1 478.5,683.8 479.0,685.2 479.5,686.4 480.0,687.4 480.5,688.3 481.0,689.0 481.5,689.7 482.0,690.3 482.5,690.8 483.0,691.2 483.5,691.6 484.0,691.9 484.5,692.3 485.0,692.5 485.5,692.8 486.0,693.0 486.5,693.2 487.0,693.4 487.5,693.6 488.0,693.7 488.5,693.9 489.0,694.0 489.5,694.1 490.0,694.2 490.5,694.3 491.0,694.4 491.5,694.5 492.0,694.6 492.5,694.7 493.0,694.7 493.5,694.8 494.0,694.8 494.5,694.9 495.0,695.0 495.5,695.0 496.0,695.1 496.5,695.1 497.0,695.1 497.5,695.2 498.0,695.2 498.5,695.3 499.0,695.3 499.5,695.3 500.0,695.3 500.5,695.4 501.0,695.4 501.5,695.4 502.0,695.5 502.5,695.5 503.0,695.5 503.5,695.5 504.0,695.5 504.5,695.6 505.0,695.6 505.5,695.6 506.0,695.6 506.5,695.6 507.0,695.6"/>
<polyline fill="none" stroke="#ec2f36" stroke-width="1.5" stroke-linejoin="round" points="29.0,696.0 29.5,696.0 30.0,696.0 30.5,696.0 31.0,696.0 31.5,696.0 32.0,696.0 32.5,696.0 33.0,696.0 33.5,696.0 34.0,696.0 34.5,696.0 35.0,696.0 35.5,696.0 36.0,696.0 36.5,696.0 37.0,696.0 37.5,696.0 38.0,696.0 38.5,696.0 39.0,696.0 39.5,696.0 40.0,696.0 40.5,696.0 41.0,695.9 41.5,695.9 42.0,695.9 42.5,695.9 43.0,695.9 43.5,695.9 44.0,695.9 44.5,695.9 45.0,695.9 45.5,695.9 46.0,695.9 46.5,695.9 47.0,695.9 47.5,695.9 48.0,695.9 48.5,695.9 49.0,695.9 49.5,695.9 50.0,695.9 50.5,695.8 51.0,695.8 51.5,695.8 52.0,695.8 52.5,695.8 53.0,695.8 53.5,695.8 54.0,695.8 54.5,695.8 55.0,695.8 55.5,695.7 56.0,695.7 56.5,695.7 57.0,695.7 57.5,695.7 58.0,695.7 58.5,695.7 59.0,695.6 59.5,695.6 60.0,695.6 60.5,695.6 61.0,695.5 61.5,695.5 62.0,695.5 62.5,695.5 63.0,695.4 63.5,695.4 64.0,695.3 64.5,695.3 65.0,695.2 65.5,695.2 66.0,695.1 66.5,695.0 67.0,694.9 67.5,694.8 68.0,694.7 68.5,694.5 69.0,694.3 69.5,694.1 70.0,693.9 70.5,693.5 71.0,693.2 71.5,692.7 72.0,692.2 72.5,691.5 73.0,690.8 73.5,689.9 74.0,689.1 74.5,688.3 75.0,687.9 75.5,687.8 76.0,688.2 76.5,688.9 77.0,689.7 77.5,690.5 78.0,691.3 78.5,691.9 79.0,692.4 79.5,692.9 80.0,693.3 80.5,693.6 81.0,693.8 81.5,694.0 82.0,694.2 82.5,694.3 83.0,694.4 83.5,694.5 84.0,694.5 84.5,694.6 85.0,694.6 85.5,694.7 86.0,694.7 86.5,694.7 87.0,694.7 87.5,694.7 88.0,694.7 88.5,694.7 89.0,694.7 89.5,694.7 90.0,694.7 90.5,694.7 91.0,694.6 91.5,694.6 92.0,694.6 92.5,694.5 93.0,694.5 93.5,694.4 94.0,694.4 94.5,694.3 95.0,694.2 95.5,694.1 96.0,694.1 96.5,694.0 97.0,693.8 97.5,693.7 98.0,693.6 98.5,693.4 99.0,693.3 99.5,693.1 100.0,692.9 100.5,692.7 101.0,692.4 101.5,692.1 102.0,691.7 102.5,691.4 103.0,690.9 103.5,690.4 104.0,689.8 104.5,689.2 105.0,688.4 105.5,687.6 106.0,686.7 106.5,685.8 107.0,684.9 107.5,684.1 108.0,683.4 108.5,683.0 109.0,682.8 109.5,682.8 110.0,682.9 110.5,683.1 111.0,683.2 111.5,683.3 112.0,683.1 112.5,682.8 113.0,682.2 113.5,681.3 114.0,680.1 114.5,678.6 115.0,676.9 115.5,674.8 116.0,672.7 116.5,670.6 117.0,669.0 117.5,668.0 118.0,667.8 118.5,668.1 119.0,668.8 119.5,669.4 120.0,669.8 120.5,669.6 121.0,668.8 121.5,667.4 122.0,665.4 122.5,662.9 123.0,660.2 123.5,657.9 124.0,656.4 124.5,656.3 125.0,657.8 125.5,660.5 126.0,663.9 126.5,667.6 127.0,671.0 127.5,674.0 128.0,676.6 128.5,678.8 129.0,680.5 129.5,682.0 130.0,683.1 130.5,684.0 131.0,684.7 131.5,685.1 132.0,685.5 132.5,685.6 133.0,685.6 133.5,685.5 134.0,685.2 134.5,684.8 135.0,684.1 135.5,683.3 136.0,682.2 136.5,680.8 137.0,679.2 137.5,677.2 138.0,675.0 138.5,672.5 139.0,670.0 139.5,667.8 140.0,666.1 140.5,665.4 141.0,665.8 141.5,667.3 142.0,669.5 142.5,672.2 143.0,674.9 143.5,677.4 144.0,679.7 144.5,681.7 145.0,683.4 145.5,684.8 146.0,686.1 146.5,687.1 147.0,688.0 147.5,688.7 148.0,689.4 148.5,689.9 149.0,690.4 149.5,690.8 150.0,691.1 150.5,691.4 151.0,691.7 151.5,691.9 152.0,692.1 152.5,692.2 153.0,692.4 153.5,692.5 154.0,692.6 154.5,692.6 155.0,692.7 155.5,692.7 156.0,692.7 156.5,692.7 157.0,692.7 157.5,692.7 158.0,692.6 158.5,692.5 159.0,692.4 159.5,692.3 160.0,692.1 160.5,691.9 161.0,691.7 161.5,691.4 162.0,691.0 162.5,690.6 163.0,690.1 163.5,689.5 164.0,688.8 164.5,687.9 165.0,686.8 165.5,685.5 166.0,683.9 166.5,681.9 167.0,679.5 167.5,676.7 168.0,673.6 168.5,670.2 169.0,667.1 169.5,664.8 170.0,664.0 170.5,664.9 171.0,667.2 171.5,670.3 172.0,673.7 172.5,676.9 173.0,679.7 173.5,682.1 174.0,684.1 174.5,685.7 175.0,687.1 175.5,688.2 176.0,689.1 176.5,689.9 177.0,690.5 177.5,691.0 178.0,691.5 178.5,691.9 179.0,692.2 179.5,692.5 180.0,692.7 180.5,692.9 181.0,693.1 181.5,693.3 182.0,693.4 182.5,693.5 183.0,693.6 183.5,693.7 184.0,693.8 184.5,693.8 185.0,693.8 185.5,693.9 186.0,693.9 186.5,693.8 187.0,693.8 187.5,693.8 188.0,693.7 188.5,693.6 189.0,693.5 189.5,693.4 190.0,693.2 190.5,693.0 191.0,692.7 191.5,692.4 192.0,691.9 192.5,691.4 193.0,690.8 193.5,690.0 194.0,689.1 194.5,688.1 195.0,686.9 195.5,685.9 196.0,685.2 196.5,684.9 197.0,685.2 197.5,685.9 198.0,687.0 198.5,688.1 199.0,689.2 199.5,690.1 200.0,690.9 200.5,691.5 201.0,692.0 201.5,692.5 202.0,692.8 202.5,693.1 203.0,693.3 203.5,693.5 204.0,693.6 204.5,693.7 205.0,693.8 205.5,693.8 206.0,693.9 206.5,693.8 207.0,693.8 207.5,693.7 208.0,693.6 208.5,693.4 209.0,693.2 209.5,692.9 210.0,692.6 210.5,692.2 211.0,691.6 211.5,691.0 212.0,690.3 212.5,689.6 213.0,689.0 213.5,688.7 214.0,688.6 214.5,689.0 215.0,689.6 215.5,690.3 216.0,691.1 216.5,691.7 217.0,692.3 217.5,692.8 218.0,693.2 218.5,693.6 219.0,693.9 219.5,694.1 220.0,694.3 220.5,694.5 221.0,694.6 221.5,694.7 222.0,694.8 222.5,694.9 223.0,695.0 223.5,695.0 224.0,695.1 224.5,695.1 225.0,695.2 225.5,695.2 226.0,695.2 226.5,695.3 227.0,695.3 227.5,695.3 228.0,695.3 228.5,695.4 229.0,695.4 229.5,695.4 230.0,695.4 230.5,695.4 231.0,695.4 231.5,695.4 232.0,695.4 232.5,695.4 233.0,695.4 233.5,695.4 234.0,695.4 234.5,695.4 235.0,695.4 235.5,695.4 236.0,695.4 236.5,695.4 237.0,695.4 237.5,695.4 238.0,695.4 238.5,695.4 239.0,695.4 239.5,695.3 240.0,695.3 240.5,695.3 241.0,695.3 241.5,695.3 242.0,695.2 242.5,695.2 243.0,695.2 243.5,695.1 244.0,695.1 244.5,695.0 245.0,695.0 245.5,694.9 246.0,694.9 246.5,694.8 247.0,694.7 247.5,694.6 248.0,694.5 248.5,694.4 249.0,694.2 249.5,694.0 250.0,693.8 250.5,693.6 251.0,693.3 251.5,693.0 252.0,692.5 252.5,692.0 253.0,691.4 253.5,690.7 254.0,689.8 254.5,688.8 255.0,687.6 255.5,686.3 256.0,685.2 256.5,684.3 257.0,684.0 257.5,684.3 258.0,685.1 258.5,686.2 259.0,687.4 259.5,688.5 260.0,689.5 260.5,690.3 261.0,691.0 261.5,691.5 262.0,692.0 262.5,692.3 263.0,692.6 263.5,692.8 264.0,692.9 264.5,693.0 265.0,693.1 265.5,693.1 266.0,693.1 266.5,693.1 267.0,693.1 267.5,693.0 268.0,692.9 268.5,692.7 269.0,692.5 269.5,692.3 270.0,692.0 270.5,691.7 271.0,691.4 271.5,691.0 272.0,690.5 272.5,689.9 273.0,689.3 273.5,688.6 274.0,687.8 274.5,686.9 275.0,686.0 275.5,685.1 276.0,684.2 276.5,683.4 277.0,682.9 277.5,682.6 278.0,682.7 278.5,683.0 279.0,683.6 279.5,684.4 280.0,685.4 280.5,686.3 281.0,687.2 281.5,688.1 282.0,688.9 282.5,689.6 283.0,690.3 283.5,690.9 284.0,691.4 284.5,691.8 285.0,692.2 285.5,692.5 286.0,692.8 286.5,693.1 287.0,693.3 287.5,693.5 288.0,693.7 288.5,693.9 289.0,694.0 289.5,694.1 290.0,694.2 290.5,694.3 291.0,694.4 291.5,694.5 292.0,694.6 292.5,694.7 293.0,694.7 293.5,694.8 294.0,694.8 294.5,694.9 295.0,694.9 295.5,694.9 296.0,695.0 296.5,695.0 297.0,695.0 297.5,695.1 298.0,695.1 298.5,695.1 299.0,695.1 299.5,695.1 300.0,695.1 300.5,695.1 301.0,695.1 301.5,695.1 302.0,695.1 302.5,695.1 303.0,695.1 303.5,695.1 304.0,695.1 304.5,695.0 305.0,695.0 305.5,695.0 306.0,694.9 306.5,694.9 307.0,694.8 307.5,694.8 308.0,694.7 308.5,694.6 309.0,694.5 309.5,694.4 310.0,694.2 310.5,694.0 311.0,693.8 311.5,693.6 312.0,693.3 312.5,692.9 313.0,692.4 313.5,691.8 314.0,691.2 314.5,690.4 315.0,689.5 315.5,688.5 316.0,687.6 316.5,686.9 317.0,686.7 317.5,686.9 318.0,687.6 318.5,688.5 319.0,689.4 319.5,690.3 320.0,691.1 320.5,691.8 321.0,692.4 321.5,692.8 322.0,693.2 322.5,693.5 323.0,693.8 323.5,694.0 324.0,694.2 324.5,694.3 325.0,694.4 325.5,694.5 326.0,694.6 326.5,694.7 327.0,694.7 327.5,694.8 328.0,694.8 328.5,694.8 329.0,694.9 329.5,694.9 330.0,694.9 330.5,694.9 331.0,694.9 331.5,694.9 332.0,694.9 332.5,694.9 333.0,694.9 333.5,694.8 334.0,694.8 334.5,694.8 335.0,694.8 335.5,694.7 336.0,694.7 336.5,694.6 337.0,694.6 337.5,694.5 338.0,694.4 338.5,694.4 339.0,694.3 339.5,694.2 340.0,694.1 340.5,694.0 341.0,693.8 341.5,693.7 342.0,693.5 342.5,693.3 343.0,693.1 343.5,692.9 344.0,692.6 344.5,692.3 345.0,691.9 345.5,691.5 346.0,690.9 346.5,690.4 347.0,689.7 347.5,688.8 348.0,687.8 348.5,686.6 349.0,685.2 349.5,683.4 350.0,681.3 350.5,678.7 351.0,675.6 351.5,671.9 352.0,667.9 352.5,663.9 353.0,660.4 353.5,658.3 354.0,658.1 354.5,659.9 355.0,663.1 355.5,667.1 356.0,671.2 356.5,674.9 357.0,678.1 357.5,680.8 358.0,683.0 358.5,684.8 359.0,686.3 359.5,687.6 360.0,688.6 360.5,689.5 361.0,690.2 361.5,690.8 362.0,691.3 362.5,691.7 363.0,692.1 363.5,692.4 364.0,692.7 364.5,693.0 365.0,693.2 365.5,693.4 366.0,693.6 366.5,693.7 367.0,693.8 367.5,693.9 368.0,694.1 368.5,694.1 369.0,694.2 369.5,694.3 370.0,694.4 370.5,694.4 371.0,694.5 371.5,694.5 372.0,694.5 372.5,694.6 373.0,694.6 373.5,694.6 374.0,694.6 374.5,694.6 375.0,694.6 375.5,694.7 376.0,694.6 376.5,694.6 377.0,694.6 377.5,694.6 378.0,694.6 378.5,694.5 379.0,694.5 379.5,694.5 380.0,694.4 380.5,694.3 381.0,694.3 381.5,694.2 382.0,694.1 382.5,693.9 383.0,693.8 383.5,693.6 384.0,693.4 384.5,693.2 385.0,692.9 385.5,692.5 386.0,692.1 386.5,691.6 387.0,691.0 387.5,690.3 388.0,689.4 388.5,688.6 389.0,687.7 389.5,687.1 390.0,686.7 390.5,686.7 391.0,686.9 391.5,687.2 392.0,687.6 392.5,687.9 393.0,687.9 393.5,687.8 394.0,687.5 394.5,686.9 395.0,686.1 395.5,684.9 396.0,683.5 396.5,681.7 397.0,679.7 397.5,677.7 398.0,675.9 398.5,674.9 399.0,674.8 399.5,675.8 400.0,677.5 400.5,679.6 401.0,681.8 401.5,683.7 402.0,685.4 402.5,686.8 403.0,687.9 403.5,688.8 404.0,689.6 404.5,690.1 405.0,690.6 405.5,690.9 406.0,691.1 406.5,691.2 407.0,691.3 407.5,691.2 408.0,691.1 408.5,690.9 409.0,690.5 409.5,690.0 410.0,689.4 410.5,688.7 411.0,687.8 411.5,687.1 412.0,686.5 412.5,686.2 413.0,686.4 413.5,687.0 414.0,687.8 414.5,688.8 415.0,689.7 415.5,690.5 416.0,691.2 416.5,691.8 417.0,692.2 417.5,692.6 418.0,693.0 418.5,693.2 419.0,693.4 419.5,693.6 420.0,693.8 420.5,693.9 421.0,694.0 421.5,694.0 422.0,694.1 422.5,694.2 423.0,694.2 423.5,694.2 424.0,694.2 424.5,694.2 425.0,694.2 425.5,694.2 426.0,694.2 426.5,694.1 427.0,694.1 427.5,694.0 428.0,693.9 428.5,693.8 429.0,693.7 429.5,693.5 430.0,693.4 430.5,693.2 431.0,693.0 431.5,692.7 432.0,692.4 432.5,692.1 433.0,691.6 433.5,691.1 434.0,690.5 434.5,689.7 435.0,688.8 435.5,687.7 436.0,686.4 436.5,684.7 437.0,682.8 437.5,680.6 438.0,678.2 438.5,675.9 439.0,674.2 439.5,673.3 440.0,673.7 440.5,675.1 441.0,677.2 441.5,679.5 442.0,681.8 442.5,683.8 443.0,685.5 443.5,686.9 444.0,688.1 444.5,689.0 445.0,689.8 445.5,690.4 446.0,690.9 446.5,691.3 447.0,691.7 447.5,691.9 448.0,692.1 448.5,692.3 449.0,692.4 449.5,692.5 450.0,692.5 450.5,692.5 451.0,692.5 451.5,692.4 452.0,692.3 452.5,692.2 453.0,692.0 453.5,691.7 454.0,691.5 454.5,691.1 455.0,690.7 455.5,690.2 456.0,689.6 456.5,688.9 457.0,688.0 457.5,686.9 458.0,685.6 458.5,684.0 459.0,682.0 459.5,679.6 460.0,676.7 460.5,673.4 461.0,669.8 461.5,666.3 462.0,663.3 462.5,661.7 463.0,661.9 463.5,663.9 464.0,667.0 464.5,670.7 465.0,674.3 465.5,677.5 466.0,680.3 466.5,682.7 467.0,684.6 467.5,686.2 468.0,687.5 468.5,688.6 469.0,689.5 469.5,690.3 470.0,690.9 470.5,691.4 471.0,691.9 471.5,692.3 472.0,692.6 472.5,692.9 473.0,693.2 473.5,693.4 474.0,693.6 474.5,693.8 475.0,694.0 475.5,694.1 476.0,694.2 476.5,694.3 477.0,694.4 477.5,694.5 478.0,694.6 478.5,694.7 479.0,694.8 479.5,694.8 480.0,694.9 480.5,694.9 481.0,695.0 481.5,695.0 482.0,695.0 482.5,695.1 483.0,695.1 483.5,695.1 484.0,695.1 484.5,695.1 485.0,695.1 485.5,695.1 486.0,695.1 486.5,695.1 487.0,695.1 487.5,695.0 488.0,694.9 488.5,694.9 489.0,694.8 489.5,694.6 490.0,694.5 490.5,694.3 491.0,694.1 491.5,693.9 492.0,693.7 492.5,693.6 493.0,693.6 493.5,693.8 494.0,694.0 494.5,694.2 495.0,694.4 495.5,694.6 496.0,694.8 496.5,695.0 497.0,695.1 497.5,695.2 498.0,695.3 498.5,695.4 499.0,695.5 499.5,695.5 500.0,695.6 500.5,695.6 501.0,695.6 501.5,695.7 502.0,695.7 502.5,695.7 503.0,695.7 503.5,695.8 504.0,695.8 504.5,695.8 505.0,695.8 505.5,695.8 506.0,695.8 506.5,695.8 507.0,695.8"/>
<polyline fill="none" stroke="#1c1c1c" stroke-width="1.5" stroke-linejoin="round" points="29.0,696.1 29.5,696.1 30.0,696.1 30.5,696.1 31.0,696.1 31.5,696.1 32.0,696.1 32.5,696.1 33.0,696.1 33.5,696.1 34.0,696.1 34.5,696.1 35.0,696.1 35.5,696.1 36.0,696.1 36.5,696.1 37.0,696.1 37.5,696.1 38.0,696.1 38.5,696.0 39.0,696.0 39.5,696.0 40.0,696.0 40.5,696.0 41.0,696.0 41.5,696.0 42.0,696.0 42.5,696.0 43.0,696.0 43.5,696.0 44.0,696.0 44.5,696.0 45.0,696.0 45.5,696.0 46.0,696.0 46.5,696.0 47.0,696.0 47.5,695.9 48.0,695.9 48.5,695.9 49.0,695.9 49.5,695.9 50.0,695.9 50.5,695.9 51.0,695.9 51.5,695.8 52.0,695.8 52.5,695.8 53.0,695.8 53.5,695.8 54.0,695.7 54.5,695.7 55.0,695.7 55.5,695.6 56.0,695.6 56.5,695.5 57.0,695.5 57.5,695.4 58.0,695.3 58.5,695.2 59.0,695.1 59.5,694.9 60.0,694.8 60.5,694.6 61.0,694.3 61.5,694.0 62.0,693.7 62.5,693.2 63.0,692.8 63.5,692.3 64.0,691.8 64.5,691.4 65.0,691.3 65.5,691.4 66.0,691.7 66.5,692.2 67.0,692.7 67.5,693.1 68.0,693.5 68.5,693.9 69.0,694.2 69.5,694.4 70.0,694.6 70.5,694.7 71.0,694.8 71.5,694.9 72.0,695.0 72.5,695.0 73.0,695.1 73.5,695.1 74.0,695.1 74.5,695.1 75.0,695.1 75.5,695.0 76.0,695.0 76.5,694.9 77.0,694.9 77.5,694.8 78.0,694.7 78.5,694.6 79.0,694.4 79.5,694.2 80.0,694.0 80.5,693.7 81.0,693.4 81.5,693.0 82.0,692.4 82.5,691.8 83.0,691.1 83.5,690.2 84.0,689.3 84.5,688.4 85.0,687.6 85.5,687.2 86.0,687.3 86.5,687.8 87.0,688.6 87.5,689.5 88.0,690.4 88.5,691.3 89.0,692.0 89.5,692.6 90.0,693.0 90.5,693.4 91.0,693.8 91.5,694.0 92.0,694.3 92.5,694.4 93.0,694.6 93.5,694.7 94.0,694.8 94.5,694.9 95.0,695.0 95.5,695.0 96.0,695.1 96.5,695.1 97.0,695.2 97.5,695.2 98.0,695.2 98.5,695.2 99.0,695.2 99.5,695.2 100.0,695.1 100.5,695.1 101.0,695.1 101.5,695.0 102.0,694.9 102.5,694.8 103.0,694.7 103.5,694.6 104.0,694.4 104.5,694.2 105.0,693.9 105.5,693.6 106.0,693.2 106.5,692.8 107.0,692.3 107.5,691.8 108.0,691.3 108.5,691.0 109.0,691.0 109.5,691.2 110.0,691.7 110.5,692.2 111.0,692.7 111.5,693.1 112.0,693.6 112.5,693.9 113.0,694.2 113.5,694.4 114.0,694.6 114.5,694.7 115.0,694.9 115.5,695.0 116.0,695.0 116.5,695.1 117.0,695.1 117.5,695.2 118.0,695.2 118.5,695.2 119.0,695.2 119.5,695.2 120.0,695.2 120.5,695.2 121.0,695.2 121.5,695.2 122.0,695.1 122.5,695.1 123.0,695.0 123.5,694.9 124.0,694.8 124.5,694.6 125.0,694.5 125.5,694.2 126.0,694.0 126.5,693.6 127.0,693.3 127.5,692.8 128.0,692.4 128.5,691.9 129.0,691.6 129.5,691.5 130.0,691.6 130.5,691.9 131.0,692.4 131.5,692.8 132.0,693.3 132.5,693.7 133.0,694.0 133.5,694.3 134.0,694.5 134.5,694.7 135.0,694.8 135.5,695.0 136.0,695.1 136.5,695.1 137.0,695.2 137.5,695.3 138.0,695.3 138.5,695.4 139.0,695.4 139.5,695.4 140.0,695.5 140.5,695.5 141.0,695.5 141.5,695.5 142.0,695.5 142.5,695.5 143.0,695.5 143.5,695.5 144.0,695.5 144.5,695.6 145.0,695.6 145.5,695.6 146.0,695.5 146.5,695.5 147.0,695.5 147.5,695.5 148.0,695.5 148.5,695.5 149.0,695.5 149.5,695.5 150.0,695.5 150.5,695.5 151.0,695.5 151.5,695.4 152.0,695.4 152.5,695.4 153.0,695.4 153.5,695.4 154.0,695.3 154.5,695.3 155.0,695.3 155.5,695.2 156.0,695.2 156.5,695.2 157.0,695.1 157.5,695.1 158.0,695.0 158.5,695.0 159.0,694.9 159.5,694.9 160.0,694.8 160.5,694.7 161.0,694.6 161.5,694.6 162.0,694.5 162.5,694.3 163.0,694.2 163.5,694.1 164.0,693.9 164.5,693.7 165.0,693.5 165.5,693.3 166.0,693.0 166.5,692.7 167.0,692.3 167.5,691.8 168.0,691.3 168.5,690.7 169.0,689.9 169.5,688.9 170.0,687.8 170.5,686.5 171.0,684.9 171.5,683.1 172.0,681.2 172.5,679.4 173.0,678.1 173.5,677.5 174.0,677.8 174.5,678.9 175.0,680.3 175.5,681.9 176.0,683.4 176.5,684.6 177.0,685.6 177.5,686.3 178.0,686.7 178.5,686.9 179.0,687.0 179.5,686.8 180.0,686.4 180.5,685.7 181.0,684.9 181.5,683.7 182.0,682.2 182.5,680.2 183.0,677.9 183.5,675.0 184.0,671.6 184.5,667.9 185.0,664.2 185.5,661.2 186.0,659.6 186.5,659.9 187.0,662.0 187.5,665.3 188.0,669.1 188.5,672.9 189.0,676.4 189.5,679.3 190.0,681.8 190.5,683.9 191.0,685.6 191.5,686.9 192.0,688.1 192.5,689.0 193.0,689.8 193.5,690.5 194.0,691.1 194.5,691.6 195.0,692.0 195.5,692.4 196.0,692.7 196.5,693.0 197.0,693.2 197.5,693.4 198.0,693.6 198.5,693.8 199.0,693.9 199.5,694.1 200.0,694.2 200.5,694.3 201.0,694.4 201.5,694.5 202.0,694.6 202.5,694.7 203.0,694.7 203.5,694.8 204.0,694.9 204.5,694.9 205.0,695.0 205.5,695.0 206.0,695.1 206.5,695.1 207.0,695.1 207.5,695.2 208.0,695.2 208.5,695.2 209.0,695.3 209.5,695.3 210.0,695.3 210.5,695.3 211.0,695.4 211.5,695.4 212.0,695.4 212.5,695.4 213.0,695.4 213.5,695.5 214.0,695.5 214.5,695.5 215.0,695.5 215.5,695.5 216.0,695.5 216.5,695.5 217.0,695.5 217.5,695.5 218.0,695.6 218.5,695.6 219.0,695.6 219.5,695.6 220.0,695.6 220.5,695.6 221.0,695.6 221.5,695.6 222.0,695.6 222.5,695.6 223.0,695.6 223.5,695.6 224.0,695.6 224.5,695.6 225.0,695.6 225.5,695.6 226.0,695.6 226.5,695.6 227.0,695.6 227.5,695.6 228.0,695.6 228.5,695.6 229.0,695.6 229.5,695.6 230.0,695.6 230.5,695.6 231.0,695.6 231.5,695.6 232.0,695.6 232.5,695.6 233.0,695.6 233.5,695.6 234.0,695.6 234.5,695.6 235.0,695.6 235.5,695.6 236.0,695.6 236.5,695.5 237.0,695.5 237.5,695.5 238.0,695.5 238.5,695.5 239.0,695.5 239.5,695.5 240.0,695.5 240.5,695.5 241.0,695.5 241.5,695.4 242.0,695.4 242.5,695.4 243.0,695.4 243.5,695.4 244.0,695.4 244.5,695.3 245.0,695.3 245.5,695.3 246.0,695.3 246.5,695.3 247.0,695.2 247.5,695.2 248.0,695.2 248.5,695.2 249.0,695.1 249.5,695.1 250.0,695.1 250.5,695.0 251.0,695.0 251.5,695.0 252.0,694.9 252.5,694.9 253.0,694.8 253.5,694.8 254.0,694.7 254.5,694.7 255.0,694.6 255.5,694.6 256.0,694.5 256.5,694.4 257.0,694.4 257.5,694.3 258.0,694.2 258.5,694.1 259.0,694.0 259.5,693.9 260.0,693.8 260.5,693.6 261.0,693.5 261.5,693.3 262.0,693.2 262.5,693.0 263.0,692.8 263.5,692.5 264.0,692.3 264.5,692.0 265.0,691.7 265.5,691.4 266.0,691.0 266.5,690.5 267.0,690.0 267.5,689.5 268.0,688.9 268.5,688.1 269.0,687.3 269.5,686.3 270.0,685.2 270.5,683.9 271.0,682.4 271.5,680.7 272.0,678.6 272.5,676.2 273.0,673.4 273.5,670.1 274.0,666.4 274.5,662.3 275.0,658.1 275.5,653.9 276.0,650.3 276.5,647.9 277.0,647.0 277.5,647.9 278.0,650.3 278.5,653.8 279.0,658.0 279.5,662.2 280.0,666.3 280.5,669.9 281.0,673.1 281.5,675.9 282.0,678.3 282.5,680.4 283.0,682.1 283.5,683.6 284.0,684.8 284.5,685.9 285.0,686.8 285.5,687.6 286.0,688.3 286.5,688.8 287.0,689.3 287.5,689.7 288.0,690.1 288.5,690.4 289.0,690.7 289.5,690.9 290.0,691.0 290.5,691.2 291.0,691.2 291.5,691.3 292.0,691.3 292.5,691.3 293.0,691.2 293.5,691.0 294.0,690.8 294.5,690.6 295.0,690.3 295.5,689.9 296.0,689.4 296.5,688.9 297.0,688.2 297.5,687.5 298.0,686.7 298.5,686.0 299.0,685.3 299.5,684.7 300.0,684.4 300.5,684.4 301.0,684.8 301.5,685.4 302.0,686.1 302.5,687.0 303.0,687.9 303.5,688.7 304.0,689.5 304.5,690.2 305.0,690.8 305.5,691.3 306.0,691.8 306.5,692.2 307.0,692.5 307.5,692.8 308.0,693.1 308.5,693.3 309.0,693.5 309.5,693.7 310.0,693.9 310.5,694.0 311.0,694.1 311.5,694.2 312.0,694.3 312.5,694.4 313.0,694.5 313.5,694.6 314.0,694.7 314.5,694.7 315.0,694.8 315.5,694.8 316.0,694.9 316.5,694.9 317.0,695.0 317.5,695.0 318.0,695.0 318.5,695.0 319.0,695.1 319.5,695.1 320.0,695.1 320.5,695.1 321.0,695.2 321.5,695.2 322.0,695.2 322.5,695.2 323.0,695.2 323.5,695.2 324.0,695.2 324.5,695.2 325.0,695.2 325.5,695.3 326.0,695.3 326.5,695.3 327.0,695.3 327.5,695.3 328.0,695.3 328.5,695.2 329.0,695.2 329.5,695.2 330.0,695.2 330.5,695.2 331.0,695.2 331.5,695.2 332.0,695.2 332.5,695.1 333.0,695.1 333.5,695.1 334.0,695.1 334.5,695.0 335.0,695.0 335.5,694.9 336.0,694.9 336.5,694.8 337.0,694.8 337.5,694.7 338.0,694.6 338.5,694.5 339.0,694.4 339.5,694.3 340.0,694.1 340.5,693.9 341.0,693.7 341.5,693.5 342.0,693.2 342.5,692.9 343.0,692.5 343.5,692.0 344.0,691.4 344.5,690.6 345.0,689.8 345.5,688.7 346.0,687.6 346.5,686.3 347.0,685.2 347.5,684.3 348.0,684.0 348.5,684.3 349.0,685.0 349.5,686.1 350.0,687.2 350.5,688.3 351.0,689.2 351.5,690.0 352.0,690.6 352.5,691.1 353.0,691.4 353.5,691.7 354.0,691.9 354.5,691.9 355.0,692.0 355.5,691.9 356.0,691.8 356.5,691.6 357.0,691.4 357.5,691.1 358.0,690.6 358.5,690.1 359.0,689.4 359.5,688.5 360.0,687.5 360.5,686.1 361.0,684.5 361.5,682.6 362.0,680.4 362.5,677.9 363.0,675.5 363.5,673.6 364.0,672.5 364.5,672.6 365.0,674.0 365.5,676.1 366.0,678.6 366.5,681.1 367.0,683.3 367.5,685.2 368.0,686.8 368.5,688.1 369.0,689.2 369.5,690.1 370.0,690.8 370.5,691.5 371.0,692.0 371.5,692.4 372.0,692.8 372.5,693.1 373.0,693.4 373.5,693.6 374.0,693.8 374.5,694.0 375.0,694.1 375.5,694.3 376.0,694.4 376.5,694.5 377.0,694.6 377.5,694.7 378.0,694.8 378.5,694.8 379.0,694.9 379.5,695.0 380.0,695.0 380.5,695.1 381.0,695.1 381.5,695.1 382.0,695.2 382.5,695.2 383.0,695.2 383.5,695.3 384.0,695.3 384.5,695.3 385.0,695.3 385.5,695.4 386.0,695.4 386.5,695.4 387.0,695.4 387.5,695.4 388.0,695.4 388.5,695.4 389.0,695.5 389.5,695.5 390.0,695.5 390.5,695.5 391.0,695.5 391.5,695.5 392.0,695.5 392.5,695.5 393.0,695.5 393.5,695.5 394.0,695.5 394.5,695.5 395.0,695.5 395.5,695.5 396.0,695.5 396.5,695.5 397.0,695.5 397.5,695.5 398.0,695.5 398.5,695.5 399.0,695.5 399.5,695.5 400.0,695.5 400.5,695.5 401.0,695.5 401.5,695.5 402.0,695.4 402.5,695.4 403.0,695.4 403.5,695.4 404.0,695.4 404.5,695.4 405.0,695.4 405.5,695.3 406.0,695.3 406.5,695.3 407.0,695.3 407.5,695.3 408.0,695.2 408.5,695.2 409.0,695.2 409.5,695.1 410.0,695.1 410.5,695.1 411.0,695.0 411.5,695.0 412.0,694.9 412.5,694.9 413.0,694.8 413.5,694.8 414.0,694.7 414.5,694.6 415.0,694.5 415.5,694.4 416.0,694.4 416.5,694.2 417.0,694.1 417.5,694.0 418.0,693.8 418.5,693.7 419.0,693.5 419.5,693.3 420.0,693.1 420.5,692.8 421.0,692.5 421.5,692.1 422.0,691.7 422.5,691.3 423.0,690.7 423.5,690.1 424.0,689.3 424.5,688.4 425.0,687.3 425.5,686.0 426.0,684.4 426.5,682.4 427.0,680.0 427.5,677.2 428.0,673.8 428.5,670.0 429.0,666.0 429.5,662.2 430.0,659.5 430.5,658.5 431.0,659.5 431.5,662.2 432.0,665.9 432.5,669.9 433.0,673.7 433.5,677.1 434.0,679.9 434.5,682.2 435.0,684.2 435.5,685.8 436.0,687.1 436.5,688.1 437.0,689.0 437.5,689.8 438.0,690.4 438.5,690.9 439.0,691.4 439.5,691.7 440.0,692.1 440.5,692.3 441.0,692.6 441.5,692.8 442.0,692.9 442.5,693.1 443.0,693.2 443.5,693.3 444.0,693.4 444.5,693.5 445.0,693.5 445.5,693.5 446.0,693.6 446.5,693.6 447.0,693.6 447.5,693.5 448.0,693.5 448.5,693.5 449.0,693.4 449.5,693.3 450.0,693.2 450.5,693.1 451.0,693.0 451.5,692.8 452.0,692.6 452.5,692.4 453.0,692.2 453.5,691.9 454.0,691.5 454.5,691.1 455.0,690.6 455.5,690.1 456.0,689.4 456.5,688.6 457.0,687.6 457.5,686.5 458.0,685.1 458.5,683.4 459.0,681.3 459.5,678.7 460.0,675.7 460.5,672.1 461.0,668.0 461.5,663.7 462.0,659.7 462.5,656.8 463.0,655.7 463.5,656.8 464.0,659.7 464.5,663.8 465.0,668.1 465.5,672.2 466.0,675.8 466.5,678.9 467.0,681.4 467.5,683.6 468.0,685.3 468.5,686.7 469.0,687.9 469.5,688.9 470.0,689.7 470.5,690.4 471.0,691.0 471.5,691.5 472.0,691.9 472.5,692.3 473.0,692.6 473.5,692.9 474.0,693.2 474.5,693.4 475.0,693.6 475.5,693.8 476.0,694.0 476.5,694.1 477.0,694.2 477.5,694.4 478.0,694.5 478.5,694.6 479.0,694.6 479.5,694.7 480.0,694.8 480.5,694.9 481.0,694.9 481.5,695.0 482.0,695.0 482.5,695.1 483.0,695.1 483.5,695.2 484.0,695.2 484.5,695.3 485.0,695.3 485.5,695.3 486.0,695.4 486.5,695.4 487.0,695.4 487.5,695.5 488.0,695.5 488.5,695.5 489.0,695.5 489.5,695.6 490.0,695.6 490.5,695.6 491.0,695.6 491.5,695.6 492.0,695.6 492.5,695.7 493.0,695.7 493.5,695.7 494.0,695.7 494.5,695.7 495.0,695.7 495.5,695.7 496.0,695.8 496.5,695.8 497.0,695.8 497.5,695.8 498.0,695.8 498.5,695.8 499.0,695.8 499.5,695.8 500.0,695.8 500.5,695.8 501.0,695.8 501.5,695.9 502.0,695.9 502.5,695.9 503.0,695.9 503.5,695.9 504.0,695.9 504.5,695.9 505.0,695.9 505.5,695.9 506.0,695.9 506.5,695.9 507.0,695.9"/>
<line x1="174.2" y1="580.5" x2="174.2" y2="623.2" stroke="#1c1c1c" stroke-width="1.7" stroke-dasharray="4.3 4.9"/>
<line x1="185.5" y1="600" x2="185.5" y2="642.8" stroke="#1c1c1c" stroke-width="1.7" stroke-dasharray="4.3 4.9"/>
<line x1="276" y1="551.7" x2="276" y2="594.4" stroke="#1c1c1c" stroke-width="1.7" stroke-dasharray="4.3 4.9"/>
<line x1="303" y1="604.8" x2="303" y2="627.8" stroke="#1c1c1c" stroke-width="1.7" stroke-dasharray="4.3 4.9"/>
<line x1="348.8" y1="556.3" x2="348.8" y2="578.2" stroke="#1c1c1c" stroke-width="1.7" stroke-dasharray="4.3 4.9"/>
<line x1="367.3" y1="573.6" x2="367.3" y2="615.2" stroke="#1c1c1c" stroke-width="1.7" stroke-dasharray="4.3 4.9"/>
<line x1="431" y1="561" x2="431" y2="609.2" stroke="#1c1c1c" stroke-width="1.7" stroke-dasharray="4.3 4.9"/>
<line x1="460.8" y1="546.3" x2="460.8" y2="594" stroke="#1c1c1c" stroke-width="1.7" stroke-dasharray="4.3 4.9"/>
<line x1="114.5" y1="601.3" x2="114.5" y2="649.8" stroke="#ec2f36" stroke-width="1.7" stroke-dasharray="4.3 4.9"/>
<line x1="125" y1="606" x2="125" y2="654.4" stroke="#ec2f36" stroke-width="1.7" stroke-dasharray="4.3 4.9"/>
<line x1="141.2" y1="608.2" x2="141.2" y2="654.4" stroke="#ec2f36" stroke-width="1.7" stroke-dasharray="4.3 4.9"/>
<line x1="163.8" y1="581.7" x2="163.8" y2="624.4" stroke="#ec2f36" stroke-width="1.7" stroke-dasharray="4.3 4.9"/>
<line x1="278.8" y1="554" x2="278.8" y2="596.7" stroke="#ec2f36" stroke-width="1.7" stroke-dasharray="4.3 4.9"/>
<line x1="318.5" y1="566.7" x2="318.5" y2="610.5" stroke="#ec2f36" stroke-width="1.7" stroke-dasharray="4.3 4.9"/>
<line x1="355" y1="570.2" x2="355" y2="611.7" stroke="#ec2f36" stroke-width="1.7" stroke-dasharray="4.3 4.9"/>
<line x1="399.7" y1="599" x2="399.7" y2="648.6" stroke="#ec2f36" stroke-width="1.7" stroke-dasharray="4.3 4.9"/>
<line x1="413.5" y1="595.5" x2="413.5" y2="638.2" stroke="#ec2f36" stroke-width="1.7" stroke-dasharray="4.3 4.9"/>
<line x1="440.8" y1="546.3" x2="440.8" y2="589.8" stroke="#ec2f36" stroke-width="1.7" stroke-dasharray="4.3 4.9"/>
<line x1="55.7" y1="568.5" x2="55.7" y2="640.5" stroke="#44d944" stroke-width="1.7" stroke-dasharray="4.3 4.9"/>
<line x1="262.7" y1="575.9" x2="262.7" y2="647.5" stroke="#44d944" stroke-width="1.7" stroke-dasharray="4.3 4.9"/>
<line x1="407.3" y1="600" x2="407.3" y2="670.5" stroke="#44d944" stroke-width="1.7" stroke-dasharray="4.3 4.9"/>
<line x1="473.2" y1="584.5" x2="473.2" y2="628.5" stroke="#44d944" stroke-width="1.7" stroke-dasharray="4.3 4.9"/>
<polyline fill="none" stroke="#2b2bd6" stroke-width="1.3" stroke-linejoin="round" points="28.0,614.0 29.0,612.9 30.0,611.8 31.1,610.8 32.1,609.7 33.1,608.6 34.1,607.5 35.2,606.3 36.2,605.0 37.2,603.6 38.2,602.0 39.2,600.3 40.2,598.4 41.2,596.4 42.2,594.3 43.2,592.1 44.2,589.8 45.3,586.9 46.5,583.7 47.6,580.3 48.7,577.0 49.9,573.9 51.0,571.3 52.0,569.2 53.0,567.1 54.0,565.0 55.0,563.1 56.0,561.6 57.0,560.6 58.0,560.2 59.1,560.3 60.3,560.6 61.5,561.1 62.6,561.6 63.8,562.3 64.9,563.2 66.0,564.4 67.2,565.8 68.3,567.4 69.5,569.0 70.5,570.7 71.5,572.6 72.5,574.9 73.5,577.3 74.5,579.9 75.5,582.6 76.5,585.2 77.7,588.5 78.8,592.2 80.0,596.0 81.1,599.7 82.2,603.1 83.4,606.0 84.6,608.7 85.7,611.2 86.8,613.2 88.0,614.0 89.0,613.9 90.0,613.5 91.0,612.9 92.0,612.1 93.0,611.3 94.0,610.4 95.0,609.4 96.0,608.2 97.0,606.6 98.1,604.7 99.1,602.6 100.1,600.4 101.1,598.1 102.2,595.9 103.2,593.9 104.2,592.0 105.2,590.2 106.2,588.2 107.3,586.1 108.3,584.1 109.3,582.3 110.3,580.6 111.4,579.4 112.4,578.5 113.4,578.2 114.6,578.7 115.7,580.1 116.8,582.1 118.0,584.6 119.2,587.2 120.3,589.8 121.5,593.4 122.7,598.0 123.8,601.9 125.0,603.6 126.1,603.5 127.3,603.4 128.4,603.1 129.6,602.8 130.7,602.5 131.7,601.9 132.7,600.9 133.7,599.7 134.8,598.3 135.8,597.0 136.8,595.9 137.8,595.1 138.8,594.8 139.8,594.9 140.9,595.1 141.9,595.4 142.9,595.8 143.9,596.1 144.9,596.4 146.0,596.6 147.0,596.7 148.1,595.7 149.3,593.0 150.4,589.3 151.5,585.2 152.7,581.3 153.8,578.2 154.8,575.9 155.8,573.4 156.9,570.9 157.9,568.5 158.9,566.3 159.9,564.4 161.0,562.9 162.0,561.9 163.0,561.6 164.2,562.4 165.3,564.2 166.5,566.4 167.6,568.4 168.8,569.5 170.0,569.8 171.1,570.1 172.3,570.2 173.4,570.4 174.6,570.8 175.8,572.1 176.9,574.6 178.1,578.0 179.2,581.7 180.4,585.2 181.6,588.9 182.7,593.3 183.9,597.9 185.0,602.3 186.2,605.8 187.3,608.2 188.3,609.5 189.3,610.5 190.3,611.4 191.4,612.2 192.4,612.9 193.4,613.6 194.4,614.3 195.4,615.2 196.6,616.5 197.7,618.0 198.8,619.3 200.0,619.8 201.0,619.8 202.0,619.8 203.0,619.8 204.0,619.8 205.0,619.8 206.1,619.8 207.1,619.8 208.1,619.8 209.1,619.8 210.1,619.8 211.1,619.8 212.1,619.8 213.1,619.8 214.1,619.8 215.1,619.8 216.2,619.8 217.2,619.8 218.2,619.8 219.2,619.8 220.2,619.8 221.2,619.8 222.2,619.8 223.2,619.8 224.2,619.8 225.2,619.8 226.2,619.8 227.3,619.8 228.3,619.8 229.3,619.8 230.3,619.8 231.3,619.8 232.3,619.8 233.3,619.3 234.3,617.7 235.4,615.4 236.4,612.6 237.4,609.4 238.4,606.0 239.5,602.6 240.5,599.4 241.5,596.7 242.5,594.2 243.5,591.6 244.5,589.0 245.5,586.4 246.5,584.1 247.5,582.1 248.5,580.5 249.6,579.2 250.6,578.0 251.7,577.0 252.8,576.1 253.8,575.2 254.9,574.4 255.9,573.5 257.0,572.5 258.0,571.6 259.0,570.8 260.0,570.0 261.0,569.1 262.0,568.2 263.0,567.2 264.0,565.9 265.0,564.4 266.2,561.2 267.3,556.2 268.5,550.4 269.6,545.1 270.8,541.3 271.9,538.6 273.1,536.1 274.2,534.0 275.4,532.5 276.5,532.0 277.7,532.2 278.9,532.7 280.0,533.4 281.2,534.4 282.4,536.6 283.5,540.6 284.6,545.6 285.8,550.5 286.9,555.9 288.1,562.1 289.2,568.5 290.4,574.1 291.5,578.2 292.7,581.2 293.8,584.1 295.0,586.4 296.1,588.0 297.3,588.6 298.4,588.3 299.6,587.4 300.7,586.0 301.9,584.5 303.0,582.8 304.0,580.9 305.0,578.3 306.0,575.1 307.0,571.7 308.0,568.3 309.0,565.0 310.0,562.1 311.0,559.8 312.0,557.9 313.1,556.2 314.1,554.6 315.1,553.1 316.1,551.7 317.1,550.5 318.2,549.3 319.2,548.2 320.2,547.2 321.2,546.3 322.2,545.5 323.2,544.7 324.2,544.0 325.2,543.2 326.2,542.5 327.2,541.7 328.2,540.8 329.3,539.8 330.3,538.9 331.3,538.1 332.3,537.3 333.4,536.7 334.4,536.3 335.4,536.2 336.5,536.3 337.7,536.7 338.9,537.2 340.0,537.7 341.1,538.4 342.3,539.0 343.3,539.6 344.3,540.3 345.4,541.0 346.4,541.8 347.4,542.6 348.4,543.5 349.5,544.3 350.5,545.1 351.5,545.9 352.5,546.7 353.6,547.6 354.6,548.6 355.6,549.5 356.7,550.4 357.7,551.2 358.7,551.8 359.8,552.3 360.8,552.4 361.9,552.4 362.9,552.4 363.9,552.4 365.0,552.4 366.1,552.4 367.1,552.4 368.1,552.4 369.2,552.4 370.2,552.5 371.2,552.8 372.2,553.3 373.2,553.9 374.2,554.7 375.2,555.5 376.2,556.3 377.3,557.5 378.5,559.2 379.6,561.2 380.7,563.3 381.9,565.6 383.0,567.8 384.0,569.8 385.0,572.1 386.0,574.5 387.0,576.9 388.0,579.2 389.0,581.2 390.0,582.8 391.0,584.1 392.0,585.4 393.0,586.5 394.0,587.5 395.0,588.5 396.0,589.4 397.0,590.2 398.0,591.0 399.0,591.8 400.0,592.7 401.0,593.5 402.0,594.3 403.0,594.9 404.0,595.3 405.0,595.5 406.0,595.1 407.0,594.2 408.0,592.8 409.0,591.0 410.0,589.1 411.0,587.1 412.0,585.2 413.0,583.3 414.0,581.1 415.0,578.8 416.0,576.3 417.0,573.9 418.0,571.4 419.0,569.1 420.0,567.0 421.1,564.9 422.2,562.9 423.3,561.1 424.4,559.2 425.5,557.3 426.6,555.3 427.7,553.2 428.8,550.6 429.9,547.5 431.0,544.1 432.1,540.9 433.2,538.1 434.3,536.0 435.4,535.0 436.5,534.7 437.6,534.4 438.7,534.3 439.7,534.1 440.8,534.0 441.9,533.8 443.0,533.6 444.1,533.4 445.3,533.2 446.4,532.9 447.5,532.7 448.7,532.4 449.8,532.0 450.9,531.3 452.0,530.1 453.1,528.7 454.3,527.4 455.4,526.4 456.5,526.0 457.7,526.4 458.9,527.4 460.1,528.7 461.3,530.2 462.4,531.8 463.6,533.8 464.7,536.1 465.9,538.8 467.0,541.7 468.0,544.9 469.0,548.8 470.0,553.1 471.0,557.3 472.0,561.0 473.2,564.5 474.4,567.6 475.5,570.7 476.7,574.4 477.9,579.5 479.1,585.6 480.3,591.4 481.5,595.5 482.7,598.0 483.9,599.9 485.1,601.5 486.3,603.2 487.4,604.9 488.5,606.6 489.6,608.3 490.7,610.0 491.8,611.5 492.9,612.8 494.0,613.8 495.1,614.6 496.2,615.4 497.3,616.0 498.4,616.6 499.4,617.2 500.5,617.7 501.6,618.2 502.7,618.6 503.8,619.0 504.8,619.3 505.9,619.6 506.9,619.9 508.0,620.2"/>
<rect x="28" y="509.3" width="480" height="187.7" fill="none" stroke="#333" stroke-width="1.6"/>
<line x1="81.3" y1="509.3" x2="81.3" y2="514.8" stroke="#222" stroke-width="1.3"/>
<line x1="81.3" y1="697" x2="81.3" y2="691.5" stroke="#222" stroke-width="1.3"/>
<line x1="134.7" y1="509.3" x2="134.7" y2="514.8" stroke="#222" stroke-width="1.3"/>
<line x1="134.7" y1="697" x2="134.7" y2="691.5" stroke="#222" stroke-width="1.3"/>
<line x1="188.0" y1="509.3" x2="188.0" y2="514.8" stroke="#222" stroke-width="1.3"/>
<line x1="188.0" y1="697" x2="188.0" y2="691.5" stroke="#222" stroke-width="1.3"/>
<line x1="241.3" y1="509.3" x2="241.3" y2="514.8" stroke="#222" stroke-width="1.3"/>
<line x1="241.3" y1="697" x2="241.3" y2="691.5" stroke="#222" stroke-width="1.3"/>
<line x1="294.7" y1="509.3" x2="294.7" y2="514.8" stroke="#222" stroke-width="1.3"/>
<line x1="294.7" y1="697" x2="294.7" y2="691.5" stroke="#222" stroke-width="1.3"/>
<line x1="348.0" y1="509.3" x2="348.0" y2="514.8" stroke="#222" stroke-width="1.3"/>
<line x1="348.0" y1="697" x2="348.0" y2="691.5" stroke="#222" stroke-width="1.3"/>
<line x1="401.3" y1="509.3" x2="401.3" y2="514.8" stroke="#222" stroke-width="1.3"/>
<line x1="401.3" y1="697" x2="401.3" y2="691.5" stroke="#222" stroke-width="1.3"/>
<line x1="454.7" y1="509.3" x2="454.7" y2="514.8" stroke="#222" stroke-width="1.3"/>
<line x1="454.7" y1="697" x2="454.7" y2="691.5" stroke="#222" stroke-width="1.3"/>
<line x1="28" y1="564.4" x2="30.2" y2="564.4" stroke="#222" stroke-width="1.3"/>
<line x1="28" y1="619.3" x2="30.2" y2="619.3" stroke="#222" stroke-width="1.3"/>
<line x1="28" y1="674.7" x2="30.2" y2="674.7" stroke="#222" stroke-width="1.3"/>
<line x1="508" y1="564.4" x2="505.8" y2="564.4" stroke="#222" stroke-width="1.3"/>
<line x1="508" y1="619.3" x2="505.8" y2="619.3" stroke="#222" stroke-width="1.3"/>
<line x1="508" y1="674.7" x2="505.8" y2="674.7" stroke="#222" stroke-width="1.3"/>
<polyline fill="none" stroke="#44d944" stroke-width="1.5" stroke-linejoin="round" points="30.8,942.3 31.3,942.2 31.8,942.0 32.3,941.9 32.8,941.7 33.3,941.5 33.8,941.4 34.3,941.2 34.8,940.9 35.3,940.7 35.8,940.4 36.3,940.1 36.8,939.8 37.3,939.5 37.8,939.1 38.3,938.6 38.8,938.1 39.3,937.6 39.8,937.0 40.3,936.2 40.8,935.4 41.3,934.5 41.8,933.5 42.3,932.2 42.8,930.8 43.3,929.1 43.8,927.1 44.3,924.7 44.8,921.9 45.3,918.5 45.8,914.3 46.3,909.2 46.8,903.0 47.3,895.4 47.8,886.2 47.8,885.4"/>
<polyline fill="none" stroke="#44d944" stroke-width="1.5" stroke-linejoin="round" points="53.6,885.4 53.8,890.0 54.3,898.6 54.8,905.6 55.3,911.3 55.8,916.0 56.3,919.8 56.8,923.0 57.3,925.6 57.8,927.8 58.3,929.7 58.8,931.3 59.3,932.6 59.8,933.7 60.3,934.7 60.8,935.6 61.3,936.4 61.8,937.0 62.3,937.6 62.8,938.1 63.3,938.6 63.8,939.0 64.3,939.4 64.8,939.7 65.3,940.0 65.8,940.2 66.3,940.5 66.8,940.7 67.3,940.9 67.8,941.1 68.3,941.2 68.8,941.4 69.3,941.5 69.8,941.6 70.3,941.7 70.8,941.8 71.3,941.9 71.8,942.0 72.3,942.0 72.8,942.1 73.3,942.1 73.8,942.2 74.3,942.2 74.8,942.2 75.3,942.2 75.8,942.2 76.3,942.2 76.8,942.2 77.3,942.2 77.8,942.2 78.3,942.1 78.8,942.1 79.3,942.0 79.8,941.9 80.3,941.8 80.8,941.7 81.3,941.6 81.8,941.4 82.3,941.2 82.8,941.0 83.3,940.7 83.8,940.4 84.3,940.0 84.8,939.5 85.3,939.0 85.8,938.3 86.3,937.5 86.8,936.5 87.3,935.4 87.8,933.9 88.3,932.2 88.8,930.1 89.3,927.5 89.8,924.6 90.3,921.4 90.8,918.3 91.3,915.7 91.8,914.3 92.3,914.5 92.8,916.2 93.3,919.0 93.8,922.2 94.3,925.4 94.8,928.2 95.3,930.7 95.8,932.8 96.3,934.5 96.8,935.9 97.3,937.0 97.8,938.0 98.3,938.8 98.8,939.5 99.3,940.0 99.8,940.5 100.3,940.9 100.8,941.3 101.3,941.6 101.8,941.8 102.3,942.1 102.8,942.3 103.3,942.5 103.8,942.6 104.3,942.8 104.8,942.9 105.3,943.0 105.8,943.1 106.3,943.2 106.8,943.3 107.3,943.4 107.8,943.4 108.3,943.5 108.8,943.6 109.3,943.6 109.8,943.7 110.3,943.7 110.8,943.8 111.3,943.8 111.8,943.8 112.3,943.9 112.8,943.9 113.3,943.9 113.8,944.0 114.3,944.0 114.8,944.0 115.3,944.1 115.8,944.1 116.3,944.1 116.8,944.1 117.3,944.1 117.8,944.2 118.3,944.2 118.8,944.2 119.3,944.2 119.8,944.2 120.3,944.2 120.8,944.3 121.3,944.3 121.8,944.3 122.3,944.3 122.8,944.3 123.3,944.3 123.8,944.3 124.3,944.3 124.8,944.3 125.3,944.4 125.8,944.4 126.3,944.4 126.8,944.4 127.3,944.4 127.8,944.4 128.3,944.4 128.8,944.4 129.3,944.4 129.8,944.4 130.3,944.4 130.8,944.4 131.3,944.4 131.8,944.5 132.3,944.5 132.8,944.5 133.3,944.5 133.8,944.5 134.3,944.5 134.8,944.5 135.3,944.5 135.8,944.5 136.3,944.5 136.8,944.5 137.3,944.5 137.8,944.5 138.3,944.5 138.8,944.5 139.3,944.5 139.8,944.5 140.3,944.5 140.8,944.5 141.3,944.5 141.8,944.5 142.3,944.5 142.8,944.5 143.3,944.6 143.8,944.6 144.3,944.6 144.8,944.6 145.3,944.6 145.8,944.6 146.3,944.6 146.8,944.6 147.3,944.6 147.8,944.6 148.3,944.6 148.8,944.6 149.3,944.6 149.8,944.6 150.3,944.6 150.8,944.6 151.3,944.6 151.8,944.6 152.3,944.6 152.8,944.6 153.3,944.6 153.8,944.6 154.3,944.6 154.8,944.6 155.3,944.6 155.8,944.6 156.3,944.6 156.8,944.6 157.3,944.6 157.8,944.6 158.3,944.6 158.8,944.6 159.3,944.6 159.8,944.6 160.3,944.6 160.8,944.6 161.3,944.6 161.8,944.6 162.3,944.6 162.8,944.6 163.3,944.6 163.8,944.6 164.3,944.6 164.8,944.6 165.3,944.6 165.8,944.6 166.3,944.6 166.8,944.6 167.3,944.6 167.8,944.6 168.3,944.6 168.8,944.6 169.3,944.6 169.8,944.6 170.3,944.6 170.8,944.6 171.3,944.6 171.8,944.6 172.3,944.6 172.8,944.6 173.3,944.6 173.8,944.6 174.3,944.6 174.8,944.6 175.3,944.6 175.8,944.6 176.3,944.6 176.8,944.6 177.3,944.6 177.8,944.6 178.3,944.6 178.8,944.6 179.3,944.6 179.8,944.6 180.3,944.6 180.8,944.6 181.3,944.6 181.8,944.6 182.3,944.6 182.8,944.6 183.3,944.6 183.8,944.6 184.3,944.6 184.8,944.6 185.3,944.6 185.8,944.6 186.3,944.6 186.8,944.6 187.3,944.6 187.8,944.6 188.3,944.6 188.8,944.6 189.3,944.6 189.8,944.6 190.3,944.6 190.8,944.6 191.3,944.6 191.8,944.6 192.3,944.6 192.8,944.6 193.3,944.6 193.8,944.6 194.3,944.6 194.8,944.6 195.3,944.6 195.8,944.6 196.3,944.6 196.8,944.6 197.3,944.6 197.8,944.6 198.3,944.6 198.8,944.6 199.3,944.6 199.8,944.6 200.3,944.6 200.8,944.6 201.3,944.6 201.8,944.6 202.3,944.6 202.8,944.6 203.3,944.6 203.8,944.6 204.3,944.6 204.8,944.6 205.3,944.6 205.8,944.6 206.3,944.6 206.8,944.6 207.3,944.6 207.8,944.6 208.3,944.6 208.8,944.6 209.3,944.6 209.8,944.6 210.3,944.6 210.8,944.6 211.3,944.6 211.8,944.6 212.3,944.6 212.8,944.6 213.3,944.6 213.8,944.6 214.3,944.6 214.8,944.6 215.3,944.6 215.8,944.6 216.3,944.6 216.8,944.6 217.3,944.6 217.8,944.5 218.3,944.5 218.8,944.5 219.3,944.5 219.8,944.5 220.3,944.5 220.8,944.5 221.3,944.5 221.8,944.5 222.3,944.5 222.8,944.5 223.3,944.5 223.8,944.5 224.3,944.5 224.8,944.5 225.3,944.5 225.8,944.5 226.3,944.4 226.8,944.4 227.3,944.4 227.8,944.4 228.3,944.4 228.8,944.4 229.3,944.4 229.8,944.4 230.3,944.4 230.8,944.4 231.3,944.3 231.8,944.3 232.3,944.3 232.8,944.3 233.3,944.3 233.8,944.3 234.3,944.2 234.8,944.2 235.3,944.2 235.8,944.2 236.3,944.2 236.8,944.1 237.3,944.1 237.8,944.1 238.3,944.0 238.8,944.0 239.3,944.0 239.8,943.9 240.3,943.9 240.8,943.9 241.3,943.8 241.8,943.8 242.3,943.7 242.8,943.6 243.3,943.6 243.8,943.5 244.3,943.4 244.8,943.3 245.3,943.3 245.8,943.1 246.3,943.0 246.8,942.9 247.3,942.8 247.8,942.6 248.3,942.4 248.8,942.2 249.3,942.0 249.8,941.8 250.3,941.5 250.8,941.1 251.3,940.8 251.8,940.3 252.3,939.8 252.8,939.2 253.3,938.5 253.8,937.6 254.3,936.6 254.8,935.4 255.3,933.9 255.8,932.1 256.3,929.9 256.8,927.2 257.3,924.1 257.8,920.4 258.3,916.4 258.8,912.5 259.3,909.2 259.8,907.5 260.3,907.7 260.8,909.8 261.3,913.2 261.8,917.2 262.3,921.2 262.8,924.7 263.3,927.8 263.8,930.4 264.3,932.5 264.8,934.2 265.3,935.7 265.8,936.8 266.3,937.8 266.8,938.6 267.3,939.3 267.8,939.9 268.3,940.4 268.8,940.9 269.3,941.2 269.8,941.5 270.3,941.8 270.8,942.1 271.3,942.3 271.8,942.5 272.3,942.6 272.8,942.8 273.3,942.9 273.8,943.1 274.3,943.2 274.8,943.3 275.3,943.4 275.8,943.4 276.3,943.5 276.8,943.6 277.3,943.7 277.8,943.7 278.3,943.8 278.8,943.8 279.3,943.9 279.8,943.9 280.3,944.0 280.8,944.0 281.3,944.0 281.8,944.1 282.3,944.1 282.8,944.1 283.3,944.1 283.8,944.2 284.3,944.2 284.8,944.2 285.3,944.2 285.8,944.3 286.3,944.3 286.8,944.3 287.3,944.3 287.8,944.3 288.3,944.3 288.8,944.3 289.3,944.4 289.8,944.4 290.3,944.4 290.8,944.4 291.3,944.4 291.8,944.4 292.3,944.4 292.8,944.4 293.3,944.4 293.8,944.5 294.3,944.5 294.8,944.5 295.3,944.5 295.8,944.5 296.3,944.5 296.8,944.5 297.3,944.5 297.8,944.5 298.3,944.5 298.8,944.5 299.3,944.5 299.8,944.5 300.3,944.5 300.8,944.5 301.3,944.6 301.8,944.6 302.3,944.6 302.8,944.6 303.3,944.6 303.8,944.6 304.3,944.6 304.8,944.6 305.3,944.6 305.8,944.6 306.3,944.6 306.8,944.6 307.3,944.6 307.8,944.6 308.3,944.6 308.8,944.6 309.3,944.6 309.8,944.6 310.3,944.6 310.8,944.6 311.3,944.6 311.8,944.6 312.3,944.6 312.8,944.6 313.3,944.6 313.8,944.6 314.3,944.6 314.8,944.6 315.3,944.6 315.8,944.6 316.3,944.6 316.8,944.6 317.3,944.6 317.8,944.6 318.3,944.6 318.8,944.6 319.3,944.6 319.8,944.6 320.3,944.6 320.8,944.6 321.3,944.6 321.8,944.7 322.3,944.7 322.8,944.7 323.3,944.7 323.8,944.7 324.3,944.7 324.8,944.7 325.3,944.7 325.8,944.7 326.3,944.7 326.8,944.7 327.3,944.7 327.8,944.7 328.3,944.7 328.8,944.7 329.3,944.7 329.8,944.7 330.3,944.7 330.8,944.7 331.3,944.7 331.8,944.7 332.3,944.7 332.8,944.7 333.3,944.7 333.8,944.7 334.3,944.7 334.8,944.7 335.3,944.7 335.8,944.7 336.3,944.7 336.8,944.7 337.3,944.7 337.8,944.7 338.3,944.7 338.8,944.7 339.3,944.7 339.8,944.7 340.3,944.7 340.8,944.7 341.3,944.7 341.8,944.7 342.3,944.7 342.8,944.7 343.3,944.7 343.8,944.7 344.3,944.7 344.8,944.7 345.3,944.7 345.8,944.7 346.3,944.7 346.8,944.7 347.3,944.7 347.8,944.7 348.3,944.7 348.8,944.7 349.3,944.6 349.8,944.6 350.3,944.6 350.8,944.6 351.3,944.6 351.8,944.6 352.3,944.6 352.8,944.6 353.3,944.6 353.8,944.6 354.3,944.6 354.8,944.6 355.3,944.6 355.8,944.6 356.3,944.6 356.8,944.6 357.3,944.6 357.8,944.6 358.3,944.6 358.8,944.6 359.3,944.6 359.8,944.6 360.3,944.6 360.8,944.6 361.3,944.6 361.8,944.6 362.3,944.6 362.8,944.6 363.3,944.5 363.8,944.5 364.3,944.5 364.8,944.5 365.3,944.5 365.8,944.5 366.3,944.5 366.8,944.5 367.3,944.5 367.8,944.4 368.3,944.4 368.8,944.4 369.3,944.4 369.8,944.3 370.3,944.3 370.8,944.3 371.3,944.2 371.8,944.2 372.3,944.2 372.8,944.1 373.3,944.0 373.8,944.0 374.3,943.9 374.8,943.8 375.3,943.7 375.8,943.5 376.3,943.3 376.8,943.1 377.3,942.9 377.8,942.6 378.3,942.2 378.8,941.8 379.3,941.3 379.8,940.7 380.3,940.0 380.8,939.4 381.3,938.8 381.8,938.5 382.3,938.6 382.8,938.9 383.3,939.5 383.8,940.1 384.3,940.8 384.8,941.4 385.3,941.9 385.8,942.3 386.3,942.7 386.8,942.9 387.3,943.2 387.8,943.4 388.3,943.5 388.8,943.7 389.3,943.8 389.8,943.9 390.3,944.0 390.8,944.0 391.3,944.1 391.8,944.1 392.3,944.2 392.8,944.2 393.3,944.3 393.8,944.3 394.3,944.3 394.8,944.3 395.3,944.4 395.8,944.4 396.3,944.4 396.8,944.4 397.3,944.4 397.8,944.4 398.3,944.4 398.8,944.4 399.3,944.5 399.8,944.5 400.3,944.5 400.8,944.5 401.3,944.5 401.8,944.5 402.3,944.5 402.8,944.5 403.3,944.5 403.8,944.5 404.3,944.5 404.8,944.5 405.3,944.5 405.8,944.5 406.3,944.5 406.8,944.5 407.3,944.5 407.8,944.5 408.3,944.5 408.8,944.5 409.3,944.5 409.8,944.5 410.3,944.5 410.8,944.5 411.3,944.5 411.8,944.5 412.3,944.5 412.8,944.5 413.3,944.5 413.8,944.5 414.3,944.5 414.8,944.5 415.3,944.5 415.8,944.5 416.3,944.5 416.8,944.5 417.3,944.5 417.8,944.5 418.3,944.5 418.8,944.5 419.3,944.5 419.8,944.5 420.3,944.4 420.8,944.4 421.3,944.4 421.8,944.4 422.3,944.4 422.8,944.4 423.3,944.4 423.8,944.4 424.3,944.4 424.8,944.4 425.3,944.4 425.8,944.4 426.3,944.4 426.8,944.3 427.3,944.3 427.8,944.3 428.3,944.3 428.8,944.3 429.3,944.3 429.8,944.3 430.3,944.3 430.8,944.2 431.3,944.2 431.8,944.2 432.3,944.2 432.8,944.2 433.3,944.2 433.8,944.1 434.3,944.1 434.8,944.1 435.3,944.1 435.8,944.0 436.3,944.0 436.8,944.0 437.3,944.0 437.8,943.9 438.3,943.9 438.8,943.9 439.3,943.8 439.8,943.8 440.3,943.8 440.8,943.7 441.3,943.7 441.8,943.6 442.3,943.6 442.8,943.5 443.3,943.4 443.8,943.4 444.3,943.3 444.8,943.2 445.3,943.1 445.8,943.0 446.3,942.9 446.8,942.8 447.3,942.7 447.8,942.6 448.3,942.5 448.8,942.3 449.3,942.1 449.8,941.9 450.3,941.7 450.8,941.5 451.3,941.3 451.8,941.0 452.3,940.6 452.8,940.3 453.3,939.9 453.8,939.4 454.3,938.9 454.8,938.2 455.3,937.5 455.8,936.7 456.3,935.7 456.8,934.5 457.3,933.2 457.8,931.5 458.3,929.6 458.8,927.2 459.3,924.4 459.8,921.0 460.3,917.0 460.8,912.4 461.3,907.2 461.8,901.8 462.3,896.7 462.8,892.8 463.3,891.1 463.8,891.8 464.3,894.9 464.8,899.6 465.3,905.0 465.8,910.4 466.3,915.3 466.8,919.5 467.3,923.1 467.8,926.2 468.3,928.7 468.8,930.8 469.3,932.6 469.8,934.0 470.3,935.3 470.8,936.3 471.3,937.2 471.8,938.0 472.3,938.6 472.8,939.2 473.3,939.7 473.8,940.1 474.3,940.5 474.8,940.9 475.3,941.2 475.8,941.4 476.3,941.7 476.8,941.9 477.3,942.1 477.8,942.2 478.3,942.4 478.8,942.6 479.3,942.7 479.8,942.8 480.3,942.9 480.8,943.0 481.3,943.1 481.8,943.2 482.3,943.3 482.8,943.4 483.3,943.4 483.8,943.5 484.3,943.5 484.8,943.6 485.3,943.7 485.8,943.7 486.3,943.8 486.8,943.8 487.3,943.8 487.8,943.9 488.3,943.9 488.8,943.9 489.3,944.0 489.8,944.0 490.3,944.0 490.8,944.1 491.3,944.1 491.8,944.1 492.3,944.1 492.8,944.2 493.3,944.2 493.8,944.2 494.3,944.2 494.8,944.2 495.3,944.2 495.8,944.3 496.3,944.3 496.8,944.3 497.3,944.3 497.8,944.3 498.3,944.3 498.8,944.3 499.3,944.4 499.8,944.4 500.3,944.4 500.8,944.4 501.3,944.4 501.8,944.4 502.3,944.4 502.8,944.4 503.3,944.4 503.8,944.4"/>
<polyline fill="none" stroke="#ec2f36" stroke-width="1.5" stroke-linejoin="round" points="30.8,944.6 31.3,944.6 31.8,944.6 32.3,944.6 32.8,944.6 33.3,944.6 33.8,944.6 34.3,944.6 34.8,944.6 35.3,944.6 35.8,944.6 36.3,944.6 36.8,944.6 37.3,944.6 37.8,944.6 38.3,944.6 38.8,944.6 39.3,944.6 39.8,944.6 40.3,944.6 40.8,944.6 41.3,944.6 41.8,944.6 42.3,944.6 42.8,944.6 43.3,944.6 43.8,944.6 44.3,944.6 44.8,944.6 45.3,944.6 45.8,944.6 46.3,944.6 46.8,944.5 47.3,944.5 47.8,944.5 48.3,944.5 48.8,944.5 49.3,944.5 49.8,944.5 50.3,944.5 50.8,944.5 51.3,944.5 51.8,944.5 52.3,944.5 52.8,944.5 53.3,944.5 53.8,944.5 54.3,944.5 54.8,944.5 55.3,944.5 55.8,944.4 56.3,944.4 56.8,944.4 57.3,944.4 57.8,944.4 58.3,944.4 58.8,944.4 59.3,944.4 59.8,944.4 60.3,944.4 60.8,944.3 61.3,944.3 61.8,944.3 62.3,944.3 62.8,944.3 63.3,944.3 63.8,944.2 64.3,944.2 64.8,944.2 65.3,944.2 65.8,944.2 66.3,944.1 66.8,944.1 67.3,944.1 67.8,944.1 68.3,944.0 68.8,944.0 69.3,943.9 69.8,943.9 70.3,943.9 70.8,943.8 71.3,943.8 71.8,943.7 72.3,943.6 72.8,943.6 73.3,943.5 73.8,943.4 74.3,943.3 74.8,943.2 75.3,943.0 75.8,942.9 76.3,942.7 76.8,942.5 77.3,942.3 77.8,942.0 78.3,941.7 78.8,941.3 79.3,940.9 79.8,940.3 80.3,939.7 80.8,938.9 81.3,938.0 81.8,936.8 82.3,935.4 82.8,933.8 83.3,932.0 83.8,930.1 84.3,928.4 84.8,927.3 85.3,927.0 85.8,927.7 86.3,929.0 86.8,930.8 87.3,932.7 87.8,934.4 88.3,935.9 88.8,937.1 89.3,938.2 89.8,939.0 90.3,939.7 90.8,940.3 91.3,940.8 91.8,941.2 92.3,941.5 92.8,941.8 93.3,942.0 93.8,942.2 94.3,942.3 94.8,942.5 95.3,942.6 95.8,942.7 96.3,942.8 96.8,942.8 97.3,942.9 97.8,942.9 98.3,943.0 98.8,943.0 99.3,943.0 99.8,943.0 100.3,943.0 100.8,943.0 101.3,943.0 101.8,943.0 102.3,943.0 102.8,942.9 103.3,942.9 103.8,942.8 104.3,942.8 104.8,942.7 105.3,942.7 105.8,942.6 106.3,942.5 106.8,942.4 107.3,942.3 107.8,942.2 108.3,942.1 108.8,942.0 109.3,941.8 109.8,941.6 110.3,941.4 110.8,941.2 111.3,941.0 111.8,940.7 112.3,940.4 112.8,940.1 113.3,939.7 113.8,939.2 114.3,938.7 114.8,938.1 115.3,937.4 115.8,936.6 116.3,935.6 116.8,934.5 117.3,933.1 117.8,931.5 118.3,929.6 118.8,927.3 119.3,924.5 119.8,921.2 120.3,917.4 120.8,913.1 121.3,908.5 121.8,904.0 122.3,900.5 122.8,898.5 123.3,898.6 123.8,900.8 124.3,904.5 124.8,908.8 125.3,913.2 125.8,917.2 126.3,920.8 126.8,923.7 127.3,926.1 127.8,928.1 128.3,929.6 128.8,930.7 129.3,931.6 129.8,932.1 130.3,932.3 130.8,932.3 131.3,932.0 131.8,931.5 132.3,930.6 132.8,929.6 133.3,928.5 133.8,927.6 134.3,927.0 134.8,927.1 135.3,927.9 135.8,929.1 136.3,930.6 136.8,932.1 137.3,933.3 137.8,934.4 138.3,935.3 138.8,935.9 139.3,936.4 139.8,936.7 140.3,936.8 140.8,936.8 141.3,936.6 141.8,936.2 142.3,935.6 142.8,934.8 143.3,933.8 143.8,932.5 144.3,931.0 144.8,929.5 145.3,928.1 145.8,927.2 146.3,927.0 146.8,927.7 147.3,929.0 147.8,930.6 148.3,932.3 148.8,933.9 149.3,935.3 149.8,936.5 150.3,937.4 150.8,938.2 151.3,938.8 151.8,939.3 152.3,939.7 152.8,940.1 153.3,940.3 153.8,940.5 154.3,940.7 154.8,940.8 155.3,940.8 155.8,940.9 156.3,940.9 156.8,940.8 157.3,940.7 157.8,940.6 158.3,940.4 158.8,940.1 159.3,939.8 159.8,939.4 160.3,938.9 160.8,938.3 161.3,937.6 161.8,936.6 162.3,935.5 162.8,934.1 163.3,932.4 163.8,930.4 164.3,928.1 164.8,925.7 165.3,923.5 165.8,921.9 166.3,921.3 166.8,921.9 167.3,923.6 167.8,925.9 168.3,928.3 168.8,930.6 169.3,932.7 169.8,934.4 170.3,935.8 170.8,937.0 171.3,938.0 171.8,938.8 172.3,939.5 172.8,940.0 173.3,940.5 173.8,940.9 174.3,941.2 174.8,941.5 175.3,941.7 175.8,941.9 176.3,942.1 176.8,942.2 177.3,942.4 177.8,942.5 178.3,942.6 178.8,942.6 179.3,942.7 179.8,942.8 180.3,942.8 180.8,942.8 181.3,942.8 181.8,942.8 182.3,942.8 182.8,942.8 183.3,942.8 183.8,942.7 184.3,942.7 184.8,942.6 185.3,942.5 185.8,942.4 186.3,942.2 186.8,942.0 187.3,941.8 187.8,941.5 188.3,941.1 188.8,940.7 189.3,940.1 189.8,939.4 190.3,938.6 190.8,937.7 191.3,936.6 191.8,935.4 192.3,934.4 192.8,933.6 193.3,933.3 193.8,933.6 194.3,934.4 194.8,935.4 195.3,936.6 195.8,937.7 196.3,938.6 196.8,939.4 197.3,940.1 197.8,940.6 198.3,941.0 198.8,941.3 199.3,941.6 199.8,941.8 200.3,942.0 200.8,942.1 201.3,942.1 201.8,942.1 202.3,942.1 202.8,942.0 203.3,941.9 203.8,941.7 204.3,941.5 204.8,941.1 205.3,940.7 205.8,940.3 206.3,939.7 206.8,939.2 207.3,938.7 207.8,938.5 208.3,938.6 208.8,938.9 209.3,939.4 209.8,940.0 210.3,940.6 210.8,941.2 211.3,941.7 211.8,942.0 212.3,942.4 212.8,942.6 213.3,942.9 213.8,943.0 214.3,943.2 214.8,943.3 215.3,943.4 215.8,943.5 216.3,943.6 216.8,943.7 217.3,943.7 217.8,943.8 218.3,943.8 218.8,943.9 219.3,943.9 219.8,944.0 220.3,944.0 220.8,944.0 221.3,944.0 221.8,944.0 222.3,944.1 222.8,944.1 223.3,944.1 223.8,944.1 224.3,944.1 224.8,944.1 225.3,944.1 225.8,944.1 226.3,944.1 226.8,944.2 227.3,944.2 227.8,944.2 228.3,944.2 228.8,944.2 229.3,944.2 229.8,944.2 230.3,944.2 230.8,944.1 231.3,944.1 231.8,944.1 232.3,944.1 232.8,944.1 233.3,944.1 233.8,944.1 234.3,944.1 234.8,944.1 235.3,944.1 235.8,944.1 236.3,944.0 236.8,944.0 237.3,944.0 237.8,944.0 238.3,943.9 238.8,943.9 239.3,943.9 239.8,943.8 240.3,943.8 240.8,943.8 241.3,943.7 241.8,943.7 242.3,943.6 242.8,943.5 243.3,943.4 243.8,943.4 244.3,943.3 244.8,943.1 245.3,943.0 245.8,942.8 246.3,942.7 246.8,942.4 247.3,942.2 247.8,941.9 248.3,941.5 248.8,941.0 249.3,940.5 249.8,939.8 250.3,939.0 250.8,938.1 251.3,937.0 251.8,935.9 252.3,934.9 252.8,934.1 253.3,933.8 253.8,934.0 254.3,934.7 254.8,935.7 255.3,936.8 255.8,937.8 256.3,938.6 256.8,939.4 257.3,939.9 257.8,940.4 258.3,940.8 258.8,941.1 259.3,941.3 259.8,941.4 260.3,941.5 260.8,941.6 261.3,941.6 261.8,941.6 262.3,941.5 262.8,941.4 263.3,941.3 263.8,941.1 264.3,940.9 264.8,940.7 265.3,940.4 265.8,940.0 266.3,939.6 266.8,939.1 267.3,938.6 267.8,938.0 268.3,937.3 268.8,936.5 269.3,935.7 269.8,934.9 270.3,934.1 270.8,933.4 271.3,933.0 271.8,932.7 272.3,932.8 272.8,933.1 273.3,933.6 273.8,934.3 274.3,935.2 274.8,936.0 275.3,936.8 275.8,937.6 276.3,938.3 276.8,939.0 277.3,939.6 277.8,940.1 278.3,940.5 278.8,940.9 279.3,941.2 279.8,941.5 280.3,941.8 280.8,942.0 281.3,942.2 281.8,942.4 282.3,942.6 282.8,942.7 283.3,942.9 283.8,943.0 284.3,943.1 284.8,943.2 285.3,943.3 285.8,943.3 286.3,943.4 286.8,943.5 287.3,943.5 287.8,943.6 288.3,943.6 288.8,943.7 289.3,943.7 289.8,943.7 290.3,943.8 290.8,943.8 291.3,943.8 291.8,943.8 292.3,943.8 292.8,943.9 293.3,943.9 293.8,943.9 294.3,943.9 294.8,943.9 295.3,943.9 295.8,943.9 296.3,943.9 296.8,943.9 297.3,943.9 297.8,943.9 298.3,943.9 298.8,943.9 299.3,943.8 299.8,943.8 300.3,943.8 300.8,943.7 301.3,943.7 301.8,943.7 302.3,943.6 302.8,943.5 303.3,943.4 303.8,943.3 304.3,943.2 304.8,943.0 305.3,942.9 305.8,942.6 306.3,942.3 306.8,942.0 307.3,941.6 307.8,941.1 308.3,940.5 308.8,939.9 309.3,939.3 309.8,938.8 310.3,938.5 310.8,938.6 311.3,938.9 311.8,939.4 312.3,940.0 312.8,940.6 313.3,941.2 313.8,941.7 314.3,942.1 314.8,942.4 315.3,942.7 315.8,942.9 316.3,943.1 316.8,943.2 317.3,943.3 317.8,943.4 318.3,943.5 318.8,943.6 319.3,943.6 319.8,943.7 320.3,943.7 320.8,943.8 321.3,943.8 321.8,943.8 322.3,943.8 322.8,943.8 323.3,943.8 323.8,943.8 324.3,943.8 324.8,943.8 325.3,943.8 325.8,943.8 326.3,943.8 326.8,943.8 327.3,943.8 327.8,943.8 328.3,943.8 328.8,943.7 329.3,943.7 329.8,943.7 330.3,943.6 330.8,943.6 331.3,943.6 331.8,943.5 332.3,943.5 332.8,943.4 333.3,943.3 333.8,943.3 334.3,943.2 334.8,943.1 335.3,943.0 335.8,942.9 336.3,942.8 336.8,942.6 337.3,942.5 337.8,942.3 338.3,942.1 338.8,941.9 339.3,941.6 339.8,941.3 340.3,941.0 340.8,940.6 341.3,940.1 341.8,939.5 342.3,938.9 342.8,938.1 343.3,937.2 343.8,936.0 344.3,934.6 344.8,933.0 345.3,930.9 345.8,928.5 346.3,925.6 346.8,922.3 347.3,918.8 347.8,915.6 348.3,913.3 348.8,912.4 349.3,913.3 349.8,915.6 350.3,918.8 350.8,922.3 351.3,925.6 351.8,928.5 352.3,930.9 352.8,932.9 353.3,934.6 353.8,936.0 354.3,937.1 354.8,938.1 355.3,938.9 355.8,939.5 356.3,940.1 356.8,940.5 357.3,940.9 357.8,941.3 358.3,941.6 358.8,941.8 359.3,942.0 359.8,942.2 360.3,942.4 360.8,942.5 361.3,942.7 361.8,942.8 362.3,942.9 362.8,943.0 363.3,943.1 363.8,943.2 364.3,943.2 364.8,943.3 365.3,943.3 365.8,943.4 366.3,943.4 366.8,943.4 367.3,943.5 367.8,943.5 368.3,943.5 368.8,943.5 369.3,943.6 369.8,943.6 370.3,943.6 370.8,943.6 371.3,943.6 371.8,943.6 372.3,943.6 372.8,943.6 373.3,943.5 373.8,943.5 374.3,943.5 374.8,943.5 375.3,943.4 375.8,943.4 376.3,943.3 376.8,943.3 377.3,943.2 377.8,943.2 378.3,943.1 378.8,943.0 379.3,942.9 379.8,942.7 380.3,942.6 380.8,942.4 381.3,942.2 381.8,942.0 382.3,941.7 382.8,941.3 383.3,940.9 383.8,940.5 384.3,939.9 384.8,939.1 385.3,938.3 385.8,937.2 386.3,935.9 386.8,934.4 387.3,932.7 387.8,930.9 388.3,929.3 388.8,928.1 389.3,927.6 389.8,928.0 390.3,929.2 390.8,930.9 391.3,932.7 391.8,934.3 392.3,935.8 392.8,937.1 393.3,938.1 393.8,938.9 394.3,939.6 394.8,940.2 395.3,940.6 395.8,941.0 396.3,941.3 396.8,941.5 397.3,941.7 397.8,941.9 398.3,942.0 398.8,942.0 399.3,942.1 399.8,942.1 400.3,942.0 400.8,942.0 401.3,941.9 401.8,941.7 402.3,941.5 402.8,941.2 403.3,940.9 403.8,940.4 404.3,939.9 404.8,939.2 405.3,938.5 405.8,937.7 406.3,936.9 406.8,936.4 407.3,936.2 407.8,936.4 408.3,937.0 408.8,937.7 409.3,938.6 409.8,939.3 410.3,940.0 410.8,940.6 411.3,941.1 411.8,941.5 412.3,941.8 412.8,942.0 413.3,942.3 413.8,942.4 414.3,942.5 414.8,942.7 415.3,942.7 415.8,942.8 416.3,942.8 416.8,942.9 417.3,942.9 417.8,942.9 418.3,942.9 418.8,942.8 419.3,942.8 419.8,942.7 420.3,942.7 420.8,942.6 421.3,942.5 421.8,942.3 422.3,942.2 422.8,942.0 423.3,941.8 423.8,941.5 424.3,941.2 424.8,940.9 425.3,940.4 425.8,939.9 426.3,939.3 426.8,938.5 427.3,937.6 427.8,936.5 428.3,935.1 428.8,933.5 429.3,931.6 429.8,929.5 430.3,927.5 430.8,925.8 431.3,924.9 431.8,925.0 432.3,926.1 432.8,927.8 433.3,929.8 433.8,931.8 434.3,933.7 434.8,935.2 435.3,936.5 435.8,937.5 436.3,938.4 436.8,939.1 437.3,939.7 437.8,940.1 438.3,940.5 438.8,940.8 439.3,941.0 439.8,941.2 440.3,941.4 440.8,941.5 441.3,941.5 441.8,941.6 442.3,941.6 442.8,941.6 443.3,941.5 443.8,941.4 444.3,941.3 444.8,941.1 445.3,940.9 445.8,940.7 446.3,940.4 446.8,940.0 447.3,939.6 447.8,939.1 448.3,938.4 448.8,937.7 449.3,936.7 449.8,935.5 450.3,934.1 450.8,932.4 451.3,930.3 451.8,927.8 452.3,924.9 452.8,921.8 453.3,918.9 453.8,916.6 454.3,915.5 454.8,916.0 455.3,917.9 455.8,920.7 456.3,923.8 456.8,926.8 457.3,929.5 457.8,931.8 458.3,933.7 458.8,935.3 459.3,936.6 459.8,937.7 460.3,938.6 460.8,939.3 461.3,939.9 461.8,940.4 462.3,940.9 462.8,941.3 463.3,941.6 463.8,941.9 464.3,942.1 464.8,942.3 465.3,942.5 465.8,942.7 466.3,942.8 466.8,943.0 467.3,943.1 467.8,943.2 468.3,943.3 468.8,943.4 469.3,943.5 469.8,943.5 470.3,943.6 470.8,943.7 471.3,943.7 471.8,943.8 472.3,943.8 472.8,943.9 473.3,943.9 473.8,943.9 474.3,944.0 474.8,944.0 475.3,944.0 475.8,944.1 476.3,944.1 476.8,944.1 477.3,944.1 477.8,944.1 478.3,944.2 478.8,944.2 479.3,944.2 479.8,944.2 480.3,944.2 480.8,944.2 481.3,944.3 481.8,944.3 482.3,944.3 482.8,944.3 483.3,944.3 483.8,944.3 484.3,944.3 484.8,944.3 485.3,944.3 485.8,944.3 486.3,944.3 486.8,944.3 487.3,944.3 487.8,944.3 488.3,944.3 488.8,944.3 489.3,944.3 489.8,944.3 490.3,944.2 490.8,944.2 491.3,944.2 491.8,944.1 492.3,944.1 492.8,944.0 493.3,943.9 493.8,943.8 494.3,943.7 494.8,943.5 495.3,943.4 495.8,943.2 496.3,943.1 496.8,943.0 497.3,943.0 497.8,943.1 498.3,943.3 498.8,943.4 499.3,943.6 499.8,943.8 500.3,943.9 500.8,944.0 501.3,944.1 501.8,944.2 502.3,944.2 502.8,944.3 503.3,944.3 503.8,944.4"/>
<polyline fill="none" stroke="#1c1c1c" stroke-width="1.5" stroke-linejoin="round" points="30.8,944.7 31.3,944.7 31.8,944.7 32.3,944.7 32.8,944.7 33.3,944.7 33.8,944.7 34.3,944.7 34.8,944.7 35.3,944.7 35.8,944.7 36.3,944.7 36.8,944.7 37.3,944.7 37.8,944.7 38.3,944.7 38.8,944.7 39.3,944.7 39.8,944.7 40.3,944.7 40.8,944.7 41.3,944.7 41.8,944.7 42.3,944.7 42.8,944.7 43.3,944.7 43.8,944.7 44.3,944.7 44.8,944.7 45.3,944.7 45.8,944.7 46.3,944.7 46.8,944.7 47.3,944.7 47.8,944.7 48.3,944.7 48.8,944.7 49.3,944.7 49.8,944.7 50.3,944.7 50.8,944.7 51.3,944.7 51.8,944.7 52.3,944.7 52.8,944.7 53.3,944.7 53.8,944.7 54.3,944.7 54.8,944.7 55.3,944.7 55.8,944.7 56.3,944.7 56.8,944.7 57.3,944.6 57.8,944.6 58.3,944.6 58.8,944.6 59.3,944.6 59.8,944.6 60.3,944.6 60.8,944.6 61.3,944.6 61.8,944.6 62.3,944.6 62.8,944.6 63.3,944.6 63.8,944.6 64.3,944.6 64.8,944.6 65.3,944.6 65.8,944.6 66.3,944.6 66.8,944.6 67.3,944.6 67.8,944.5 68.3,944.5 68.8,944.5 69.3,944.5 69.8,944.5 70.3,944.5 70.8,944.5 71.3,944.5 71.8,944.5 72.3,944.4 72.8,944.4 73.3,944.4 73.8,944.4 74.3,944.4 74.8,944.4 75.3,944.3 75.8,944.3 76.3,944.3 76.8,944.3 77.3,944.2 77.8,944.2 78.3,944.1 78.8,944.1 79.3,944.1 79.8,944.0 80.3,943.9 80.8,943.9 81.3,943.8 81.8,943.7 82.3,943.6 82.8,943.4 83.3,943.3 83.8,943.1 84.3,942.9 84.8,942.6 85.3,942.3 85.8,942.0 86.3,941.5 86.8,941.0 87.3,940.3 87.8,939.5 88.3,938.7 88.8,937.7 89.3,936.9 89.8,936.2 90.3,936.0 90.8,936.2 91.3,936.8 91.8,937.7 92.3,938.6 92.8,939.4 93.3,940.2 93.8,940.8 94.3,941.3 94.8,941.7 95.3,942.1 95.8,942.4 96.3,942.6 96.8,942.8 97.3,942.9 97.8,943.0 98.3,943.1 98.8,943.1 99.3,943.2 99.8,943.2 100.3,943.2 100.8,943.1 101.3,943.1 101.8,943.0 102.3,942.9 102.8,942.7 103.3,942.5 103.8,942.3 104.3,942.0 104.8,941.7 105.3,941.2 105.8,940.7 106.3,940.0 106.8,939.3 107.3,938.5 107.8,937.9 108.3,937.4 108.8,937.3 109.3,937.6 109.8,938.2 110.3,938.9 110.8,939.7 111.3,940.4 111.8,941.0 112.3,941.5 112.8,942.0 113.3,942.3 113.8,942.6 114.3,942.8 114.8,943.0 115.3,943.2 115.8,943.3 116.3,943.5 116.8,943.5 117.3,943.6 117.8,943.7 118.3,943.8 118.8,943.8 119.3,943.8 119.8,943.9 120.3,943.9 120.8,943.9 121.3,943.9 121.8,943.9 122.3,943.9 122.8,943.9 123.3,943.9 123.8,943.9 124.3,943.9 124.8,943.9 125.3,943.8 125.8,943.8 126.3,943.7 126.8,943.7 127.3,943.6 127.8,943.5 128.3,943.4 128.8,943.2 129.3,943.1 129.8,942.9 130.3,942.6 130.8,942.3 131.3,941.9 131.8,941.5 132.3,941.0 132.8,940.5 133.3,940.0 133.8,939.7 134.3,939.6 134.8,939.8 135.3,940.2 135.8,940.7 136.3,941.2 136.8,941.6 137.3,942.1 137.8,942.4 138.3,942.7 138.8,942.9 139.3,943.1 139.8,943.3 140.3,943.4 140.8,943.5 141.3,943.6 141.8,943.7 142.3,943.8 142.8,943.8 143.3,943.8 143.8,943.9 144.3,943.9 144.8,943.9 145.3,943.9 145.8,944.0 146.3,944.0 146.8,944.0 147.3,944.0 147.8,944.0 148.3,944.0 148.8,944.0 149.3,944.0 149.8,944.0 150.3,943.9 150.8,943.9 151.3,943.9 151.8,943.9 152.3,943.9 152.8,943.9 153.3,943.8 153.8,943.8 154.3,943.8 154.8,943.7 155.3,943.7 155.8,943.6 156.3,943.6 156.8,943.5 157.3,943.5 157.8,943.4 158.3,943.3 158.8,943.3 159.3,943.2 159.8,943.1 160.3,942.9 160.8,942.8 161.3,942.7 161.8,942.5 162.3,942.3 162.8,942.1 163.3,941.8 163.8,941.5 164.3,941.1 164.8,940.7 165.3,940.2 165.8,939.6 166.3,938.8 166.8,937.9 167.3,936.9 167.8,935.6 168.3,934.0 168.8,932.3 169.3,930.5 169.8,928.8 170.3,927.5 170.8,927.0 171.3,927.3 171.8,928.4 172.3,929.9 172.8,931.5 173.3,933.0 173.8,934.2 174.3,935.2 174.8,936.0 175.3,936.6 175.8,936.9 176.3,937.1 176.8,937.1 177.3,936.9 177.8,936.6 178.3,936.1 178.8,935.3 179.3,934.4 179.8,933.1 180.3,931.6 180.8,929.6 181.3,927.3 181.8,924.5 182.3,921.5 182.8,918.5 183.3,916.0 183.8,914.7 184.3,914.9 184.8,916.6 185.3,919.4 185.8,922.5 186.3,925.6 186.8,928.5 187.3,930.9 187.8,932.9 188.3,934.6 188.8,936.0 189.3,937.1 189.8,938.1 190.3,938.9 190.8,939.5 191.3,940.1 191.8,940.5 192.3,940.9 192.8,941.3 193.3,941.6 193.8,941.8 194.3,942.1 194.8,942.3 195.3,942.5 195.8,942.6 196.3,942.8 196.8,942.9 197.3,943.0 197.8,943.1 198.3,943.2 198.8,943.3 199.3,943.3 199.8,943.4 200.3,943.5 200.8,943.5 201.3,943.6 201.8,943.6 202.3,943.7 202.8,943.7 203.3,943.8 203.8,943.8 204.3,943.8 204.8,943.9 205.3,943.9 205.8,943.9 206.3,943.9 206.8,944.0 207.3,944.0 207.8,944.0 208.3,944.0 208.8,944.0 209.3,944.1 209.8,944.1 210.3,944.1 210.8,944.1 211.3,944.1 211.8,944.1 212.3,944.1 212.8,944.1 213.3,944.1 213.8,944.2 214.3,944.2 214.8,944.2 215.3,944.2 215.8,944.2 216.3,944.2 216.8,944.2 217.3,944.2 217.8,944.2 218.3,944.2 218.8,944.2 219.3,944.2 219.8,944.2 220.3,944.2 220.8,944.2 221.3,944.2 221.8,944.2 222.3,944.2 222.8,944.2 223.3,944.2 223.8,944.2 224.3,944.2 224.8,944.2 225.3,944.2 225.8,944.2 226.3,944.2 226.8,944.2 227.3,944.2 227.8,944.2 228.3,944.2 228.8,944.2 229.3,944.2 229.8,944.2 230.3,944.1 230.8,944.1 231.3,944.1 231.8,944.1 232.3,944.1 232.8,944.1 233.3,944.1 233.8,944.1 234.3,944.1 234.8,944.1 235.3,944.0 235.8,944.0 236.3,944.0 236.8,944.0 237.3,944.0 237.8,944.0 238.3,943.9 238.8,943.9 239.3,943.9 239.8,943.9 240.3,943.9 240.8,943.8 241.3,943.8 241.8,943.8 242.3,943.8 242.8,943.7 243.3,943.7 243.8,943.7 244.3,943.6 244.8,943.6 245.3,943.5 245.8,943.5 246.3,943.5 246.8,943.4 247.3,943.4 247.8,943.3 248.3,943.2 248.8,943.2 249.3,943.1 249.8,943.0 250.3,943.0 250.8,942.9 251.3,942.8 251.8,942.7 252.3,942.6 252.8,942.5 253.3,942.4 253.8,942.2 254.3,942.1 254.8,941.9 255.3,941.7 255.8,941.6 256.3,941.3 256.8,941.1 257.3,940.9 257.8,940.6 258.3,940.3 258.8,939.9 259.3,939.5 259.8,939.1 260.3,938.6 260.8,938.0 261.3,937.4 261.8,936.6 262.3,935.8 262.8,934.8 263.3,933.7 263.8,932.4 264.3,930.8 264.8,929.0 265.3,926.9 265.8,924.4 266.3,921.5 266.8,918.2 267.3,914.4 267.8,910.3 268.3,905.9 268.8,901.7 269.3,898.0 269.8,895.5 270.3,894.6 270.8,895.5 271.3,898.0 271.8,901.6 272.3,905.8 272.8,910.2 273.3,914.3 273.8,918.1 274.3,921.4 274.8,924.3 275.3,926.7 275.8,928.8 276.3,930.6 276.8,932.1 277.3,933.4 277.8,934.5 278.3,935.5 278.8,936.3 279.3,937.0 279.8,937.6 280.3,938.1 280.8,938.5 281.3,938.9 281.8,939.2 282.3,939.5 282.8,939.7 283.3,939.9 283.8,940.1 284.3,940.2 284.8,940.2 285.3,940.2 285.8,940.2 286.3,940.1 286.8,939.9 287.3,939.7 287.8,939.3 288.3,938.9 288.8,938.3 289.3,937.6 289.8,936.8 290.3,935.9 290.8,934.9 291.3,934.2 291.8,933.8 292.3,933.9 292.8,934.5 293.3,935.4 293.8,936.5 294.3,937.5 294.8,938.5 295.3,939.3 295.8,940.0 296.3,940.6 296.8,941.0 297.3,941.4 297.8,941.8 298.3,942.0 298.8,942.3 299.3,942.5 299.8,942.6 300.3,942.8 300.8,942.9 301.3,943.0 301.8,943.1 302.3,943.2 302.8,943.3 303.3,943.4 303.8,943.4 304.3,943.5 304.8,943.5 305.3,943.6 305.8,943.6 306.3,943.7 306.8,943.7 307.3,943.7 307.8,943.8 308.3,943.8 308.8,943.8 309.3,943.9 309.8,943.9 310.3,943.9 310.8,943.9 311.3,943.9 311.8,943.9 312.3,944.0 312.8,944.0 313.3,944.0 313.8,944.0 314.3,944.0 314.8,944.0 315.3,944.0 315.8,944.0 316.3,944.0 316.8,944.0 317.3,944.0 317.8,944.0 318.3,944.0 318.8,944.0 319.3,944.0 319.8,944.0 320.3,944.0 320.8,944.0 321.3,944.0 321.8,944.0 322.3,944.0 322.8,944.0 323.3,944.0 323.8,944.0 324.3,944.0 324.8,944.0 325.3,944.0 325.8,943.9 326.3,943.9 326.8,943.9 327.3,943.9 327.8,943.8 328.3,943.8 328.8,943.8 329.3,943.7 329.8,943.7 330.3,943.6 330.8,943.6 331.3,943.5 331.8,943.5 332.3,943.4 332.8,943.3 333.3,943.2 333.8,943.1 334.3,943.0 334.8,942.8 335.3,942.6 335.8,942.4 336.3,942.2 336.8,941.9 337.3,941.6 337.8,941.2 338.3,940.7 338.8,940.1 339.3,939.3 339.8,938.5 340.3,937.4 340.8,936.3 341.3,935.0 341.8,933.9 342.3,933.0 342.8,932.7 343.3,932.9 343.8,933.7 344.3,934.7 344.8,935.9 345.3,936.9 345.8,937.8 346.3,938.6 346.8,939.2 347.3,939.6 347.8,940.0 348.3,940.2 348.8,940.3 349.3,940.4 349.8,940.3 350.3,940.2 350.8,940.0 351.3,939.7 351.8,939.3 352.3,938.7 352.8,938.0 353.3,937.1 353.8,936.0 354.3,934.7 354.8,933.1 355.3,931.3 355.8,929.4 356.3,927.6 356.8,926.3 357.3,925.8 357.8,926.3 358.3,927.7 358.8,929.5 359.3,931.5 359.8,933.4 360.3,935.1 360.8,936.5 361.3,937.7 361.8,938.7 362.3,939.5 362.8,940.1 363.3,940.7 363.8,941.1 364.3,941.5 364.8,941.8 365.3,942.1 365.8,942.3 366.3,942.6 366.8,942.7 367.3,942.9 367.8,943.0 368.3,943.1 368.8,943.2 369.3,943.3 369.8,943.4 370.3,943.5 370.8,943.6 371.3,943.6 371.8,943.7 372.3,943.7 372.8,943.8 373.3,943.8 373.8,943.8 374.3,943.9 374.8,943.9 375.3,943.9 375.8,944.0 376.3,944.0 376.8,944.0 377.3,944.0 377.8,944.1 378.3,944.1 378.8,944.1 379.3,944.1 379.8,944.1 380.3,944.1 380.8,944.1 381.3,944.1 381.8,944.1 382.3,944.2 382.8,944.2 383.3,944.2 383.8,944.2 384.3,944.2 384.8,944.2 385.3,944.2 385.8,944.2 386.3,944.2 386.8,944.2 387.3,944.2 387.8,944.2 388.3,944.2 388.8,944.2 389.3,944.2 389.8,944.2 390.3,944.2 390.8,944.2 391.3,944.2 391.8,944.2 392.3,944.2 392.8,944.1 393.3,944.1 393.8,944.1 394.3,944.1 394.8,944.1 395.3,944.1 395.8,944.1 396.3,944.1 396.8,944.1 397.3,944.0 397.8,944.0 398.3,944.0 398.8,944.0 399.3,944.0 399.8,943.9 400.3,943.9 400.8,943.9 401.3,943.9 401.8,943.8 402.3,943.8 402.8,943.8 403.3,943.7 403.8,943.7 404.3,943.6 404.8,943.6 405.3,943.5 405.8,943.5 406.3,943.4 406.8,943.3 407.3,943.2 407.8,943.1 408.3,943.0 408.8,942.9 409.3,942.8 409.8,942.7 410.3,942.5 410.8,942.4 411.3,942.2 411.8,941.9 412.3,941.7 412.8,941.4 413.3,941.1 413.8,940.7 414.3,940.2 414.8,939.7 415.3,939.1 415.8,938.3 416.3,937.4 416.8,936.4 417.3,935.1 417.8,933.5 418.3,931.6 418.8,929.2 419.3,926.5 419.8,923.3 420.3,920.0 420.8,916.7 421.3,914.2 421.8,913.0 422.3,913.5 422.8,915.6 423.3,918.6 423.8,921.9 424.3,925.2 424.8,928.1 425.3,930.5 425.8,932.6 426.3,934.3 426.8,935.7 427.3,936.8 427.8,937.7 428.3,938.5 428.8,939.1 429.3,939.7 429.8,940.1 430.3,940.5 430.8,940.8 431.3,941.1 431.8,941.3 432.3,941.5 432.8,941.6 433.3,941.8 433.8,941.9 434.3,941.9 434.8,942.0 435.3,942.0 435.8,942.1 436.3,942.1 436.8,942.1 437.3,942.0 437.8,942.0 438.3,941.9 438.8,941.9 439.3,941.8 439.8,941.6 440.3,941.5 440.8,941.3 441.3,941.1 441.8,940.8 442.3,940.5 442.8,940.1 443.3,939.7 443.8,939.2 444.3,938.6 444.8,937.8 445.3,936.9 445.8,935.9 446.3,934.5 446.8,932.9 447.3,931.0 447.8,928.6 448.3,925.8 448.8,922.5 449.3,918.9 449.8,915.4 450.3,912.5 450.8,910.9 451.3,911.1 451.8,913.0 452.3,916.1 452.8,919.7 453.3,923.3 453.8,926.5 454.3,929.3 454.8,931.6 455.3,933.5 455.8,935.1 456.3,936.4 456.8,937.4 457.3,938.3 457.8,939.1 458.3,939.7 458.8,940.2 459.3,940.7 459.8,941.1 460.3,941.4 460.8,941.7 461.3,941.9 461.8,942.2 462.3,942.4 462.8,942.5 463.3,942.7 463.8,942.8 464.3,943.0 464.8,943.1 465.3,943.2 465.8,943.3 466.3,943.4 466.8,943.4 467.3,943.5 467.8,943.6 468.3,943.6 468.8,943.7 469.3,943.7 469.8,943.8 470.3,943.8 470.8,943.9 471.3,943.9 471.8,944.0 472.3,944.0 472.8,944.0 473.3,944.1 473.8,944.1 474.3,944.1 474.8,944.1 475.3,944.2 475.8,944.2 476.3,944.2 476.8,944.2 477.3,944.2 477.8,944.3 478.3,944.3 478.8,944.3 479.3,944.3 479.8,944.3 480.3,944.3 480.8,944.3 481.3,944.4 481.8,944.4 482.3,944.4 482.8,944.4 483.3,944.4 483.8,944.4 484.3,944.4 484.8,944.4 485.3,944.4 485.8,944.4 486.3,944.5 486.8,944.5 487.3,944.5 487.8,944.5 488.3,944.5 488.8,944.5 489.3,944.5 489.8,944.5 490.3,944.5 490.8,944.5 491.3,944.5 491.8,944.5 492.3,944.5 492.8,944.5 493.3,944.5 493.8,944.5 494.3,944.6 494.8,944.6 495.3,944.6 495.8,944.6 496.3,944.6 496.8,944.6 497.3,944.6 497.8,944.6 498.3,944.6 498.8,944.6 499.3,944.6 499.8,944.6 500.3,944.6 500.8,944.6 501.3,944.6 501.8,944.6 502.3,944.6 502.8,944.6 503.3,944.6 503.8,944.6"/>
<line x1="110.3" y1="868" x2="110.3" y2="898" stroke="#1c1c1c" stroke-width="1.7" stroke-dasharray="4.3 4.9"/>
<line x1="271.2" y1="861.2" x2="271.2" y2="893.5" stroke="#1c1c1c" stroke-width="1.7" stroke-dasharray="4.3 4.9"/>
<line x1="293.8" y1="876" x2="293.8" y2="907.3" stroke="#1c1c1c" stroke-width="1.7" stroke-dasharray="4.3 4.9"/>
<line x1="359.8" y1="888.8" x2="359.8" y2="920" stroke="#1c1c1c" stroke-width="1.7" stroke-dasharray="4.3 4.9"/>
<line x1="422.3" y1="877.3" x2="422.3" y2="912" stroke="#1c1c1c" stroke-width="1.7" stroke-dasharray="4.3 4.9"/>
<line x1="85.2" y1="867" x2="85.2" y2="916.5" stroke="#ec2f36" stroke-width="1.7" stroke-dasharray="4.3 4.9"/>
<line x1="123.8" y1="867" x2="123.8" y2="895.8" stroke="#ec2f36" stroke-width="1.7" stroke-dasharray="4.3 4.9"/>
<line x1="146.5" y1="871.5" x2="146.5" y2="924.6" stroke="#ec2f36" stroke-width="1.7" stroke-dasharray="4.3 4.9"/>
<line x1="166" y1="867" x2="166" y2="921.2" stroke="#ec2f36" stroke-width="1.7" stroke-dasharray="4.3 4.9"/>
<line x1="193.8" y1="873.8" x2="193.8" y2="927" stroke="#ec2f36" stroke-width="1.7" stroke-dasharray="4.3 4.9"/>
<line x1="253.5" y1="849.6" x2="253.5" y2="902.7" stroke="#ec2f36" stroke-width="1.7" stroke-dasharray="4.3 4.9"/>
<line x1="281.2" y1="873.8" x2="281.2" y2="905" stroke="#ec2f36" stroke-width="1.7" stroke-dasharray="4.3 4.9"/>
<line x1="350.8" y1="865.8" x2="350.8" y2="897" stroke="#ec2f36" stroke-width="1.7" stroke-dasharray="4.3 4.9"/>
<line x1="433.4" y1="887.7" x2="433.4" y2="925.8" stroke="#ec2f36" stroke-width="1.7" stroke-dasharray="4.3 4.9"/>
<line x1="453.5" y1="872.7" x2="453.5" y2="907.3" stroke="#ec2f36" stroke-width="1.7" stroke-dasharray="4.3 4.9"/>
<line x1="51" y1="801" x2="51" y2="883" stroke="#44d944" stroke-width="1.7" stroke-dasharray="4.3 4.9"/>
<line x1="94.2" y1="860" x2="94.2" y2="914.2" stroke="#44d944" stroke-width="1.7" stroke-dasharray="4.3 4.9"/>
<line x1="260.8" y1="852" x2="260.8" y2="897" stroke="#44d944" stroke-width="1.7" stroke-dasharray="4.3 4.9"/>
<line x1="464.3" y1="843.8" x2="464.3" y2="888.8" stroke="#44d944" stroke-width="1.7" stroke-dasharray="4.3 4.9"/>
<polyline fill="none" stroke="#2e8a38" stroke-width="1.3" stroke-linejoin="round" points="29.8,841.5 30.8,840.0 31.9,838.6 32.9,837.2 34.0,835.5 35.0,833.5 36.1,830.6 37.3,826.7 38.4,822.3 39.5,817.6 40.7,812.7 41.8,808.0 42.8,803.8 43.8,799.1 44.8,794.4 45.8,789.7 46.8,785.3 47.8,781.3 48.8,778.0 49.9,774.6 51.1,771.2 52.2,768.3 53.4,766.2 54.5,765.4 55.7,765.5 56.9,765.7 58.0,766.1 59.2,766.5 60.4,767.8 61.5,770.6 62.7,774.2 63.8,778.4 65.0,782.7 66.1,787.6 67.3,793.7 68.4,800.3 69.5,806.9 70.7,812.8 71.8,817.3 72.8,820.2 73.8,822.8 74.8,825.0 75.8,827.1 76.8,829.1 77.8,831.2 78.8,833.5 79.8,836.3 80.8,839.5 81.8,842.9 82.8,846.3 83.8,849.4 84.8,851.9 85.8,853.6 86.8,854.2 88.0,854.0 89.1,853.4 90.3,852.8 91.4,852.2 92.6,852.0 93.8,852.6 94.9,854.1 96.0,856.0 97.2,857.9 98.3,859.4 99.5,860.0 100.5,859.9 101.6,859.6 102.7,859.2 103.7,858.8 104.8,858.2 105.8,857.7 106.8,857.3 107.9,856.9 109.0,856.6 110.0,856.5 111.1,856.8 112.3,857.6 113.4,858.7 114.6,859.9 115.7,861.0 116.7,861.9 117.8,863.0 118.8,864.0 119.8,865.1 120.9,866.2 121.9,867.3 122.9,868.4 124.0,869.4 125.0,870.4 126.0,871.4 127.1,872.5 128.1,873.6 129.1,874.8 130.2,875.9 131.2,876.9 132.2,877.7 133.2,878.4 134.3,878.8 135.3,879.0 136.3,878.7 137.3,877.8 138.3,876.5 139.4,874.9 140.4,873.2 141.4,871.3 142.4,869.6 143.4,868.0 144.6,866.2 145.7,864.2 146.8,862.4 148.0,861.2 149.2,860.5 150.3,860.0 151.5,859.5 152.6,859.2 153.8,858.8 154.8,858.5 155.8,858.1 156.9,857.8 157.9,857.4 158.9,857.1 159.9,856.9 161.0,856.7 162.0,856.5 163.0,856.5 164.0,856.6 165.1,857.0 166.1,857.5 167.1,858.1 168.2,858.8 169.2,859.5 170.2,860.2 171.3,860.8 172.3,861.2 173.3,861.5 174.3,861.9 175.4,862.3 176.4,862.6 177.4,862.9 178.4,863.1 179.5,863.3 180.5,863.5 181.5,863.5 182.5,863.4 183.5,863.3 184.5,863.1 185.6,862.9 186.6,862.7 187.6,862.5 188.6,862.4 189.6,862.3 190.6,862.5 191.6,863.1 192.6,864.1 193.6,865.2 194.7,866.5 195.7,867.9 196.7,869.2 197.7,870.4 198.7,871.7 199.8,873.2 200.8,874.8 201.8,876.5 202.8,878.1 203.9,879.6 204.9,881.0 205.9,882.1 207.0,882.7 208.0,883.0 209.0,883.0 210.1,883.0 211.1,883.0 212.1,883.0 213.1,883.0 214.1,883.0 215.2,883.0 216.2,883.0 217.2,882.7 218.2,882.0 219.3,881.0 220.3,879.6 221.3,878.1 222.3,876.4 223.4,874.7 224.4,873.0 225.4,871.5 226.4,870.0 227.4,868.4 228.5,866.8 229.5,865.1 230.5,863.4 231.5,861.7 232.6,859.9 233.6,858.2 234.6,856.5 235.8,854.6 236.9,852.6 238.1,850.7 239.2,848.7 240.3,846.8 241.5,845.0 242.5,843.3 243.5,841.3 244.5,839.4 245.5,837.5 246.5,836.0 247.5,835.0 248.5,834.6 249.5,834.7 250.6,834.8 251.6,835.1 252.7,835.3 253.7,835.6 254.8,835.7 255.8,835.8 256.9,835.7 258.1,835.4 259.2,835.0 260.4,834.7 261.5,834.6 262.7,835.1 263.8,836.5 265.0,838.5 266.1,840.6 267.3,842.7 268.4,844.9 269.6,847.6 270.7,850.2 271.9,852.6 273.0,854.2 274.0,855.1 275.0,855.9 276.0,856.5 277.0,857.1 278.0,857.6 279.0,858.2 280.0,858.8 281.0,859.5 282.0,860.4 283.0,861.3 284.0,862.1 285.0,862.8 286.0,863.3 287.0,863.5 288.1,863.4 289.3,863.0 290.4,862.5 291.5,862.1 292.7,861.7 293.8,861.6 295.0,862.5 296.1,864.7 297.3,867.5 298.4,870.4 299.6,872.7 300.6,874.3 301.6,875.9 302.6,877.5 303.6,879.1 304.7,880.4 305.7,881.5 306.7,882.1 307.7,882.4 308.9,881.9 310.0,880.6 311.1,878.8 312.3,876.6 313.5,874.5 314.6,872.7 315.6,871.2 316.6,869.6 317.7,867.9 318.7,866.3 319.7,864.7 320.7,863.2 321.8,861.9 322.8,860.8 323.8,860.0 324.8,859.3 325.9,858.7 326.9,858.1 327.9,857.6 328.9,857.1 329.9,856.8 331.0,856.6 332.0,856.5 333.0,856.7 334.0,857.3 335.0,858.1 336.0,859.0 337.0,860.0 338.0,860.8 339.0,861.4 340.0,861.6 341.1,860.9 342.3,859.3 343.5,857.7 344.6,857.0 345.8,857.3 346.9,858.1 348.1,859.2 349.2,860.5 350.4,861.8 351.5,863.0 352.5,864.0 353.6,865.0 354.6,866.1 355.6,867.2 356.7,868.3 357.7,869.5 358.7,870.6 359.8,871.6 360.8,872.7 361.9,873.9 362.9,875.1 363.9,876.5 365.0,877.8 366.1,879.0 367.1,879.9 368.1,880.6 369.2,880.8 370.2,880.4 371.2,879.3 372.2,877.8 373.2,876.2 374.2,874.7 375.2,873.6 376.2,873.2 377.2,873.3 378.2,873.4 379.3,873.7 380.3,874.1 381.3,874.5 382.3,874.9 383.4,875.3 384.4,875.8 385.4,876.2 386.4,876.6 387.4,877.1 388.5,877.6 389.5,878.2 390.5,878.7 391.5,879.3 392.6,879.8 393.6,880.3 394.6,880.8 395.8,881.3 396.9,881.9 398.1,882.5 399.2,882.9 400.4,883.0 401.4,882.9 402.4,882.8 403.4,882.5 404.4,882.2 405.5,881.9 406.5,881.5 407.5,881.1 408.5,880.8 409.5,880.5 410.5,880.1 411.6,879.7 412.6,879.3 413.6,878.9 414.6,878.5 415.7,878.1 416.7,877.7 417.7,877.3 418.8,876.8 419.8,876.3 420.9,875.7 422.0,875.1 423.0,874.6 424.1,874.0 425.2,873.6 426.3,873.2 427.3,873.0 428.4,872.9 429.5,873.3 430.6,874.5 431.7,876.2 432.9,878.0 434.0,879.9 435.1,881.6 436.2,882.8 437.3,883.2 438.4,883.0 439.6,882.6 440.7,881.9 441.8,881.0 442.9,879.9 444.1,878.7 445.2,877.5 446.3,875.9 447.4,873.7 448.4,871.1 449.5,868.2 450.6,865.4 451.7,862.7 452.9,860.0 454.0,857.1 455.2,854.3 456.3,851.7 457.5,849.2 458.8,846.3 460.1,843.5 461.4,842.3 462.6,842.6 463.8,843.2 465.0,844.2 466.2,845.4 467.4,847.5 468.5,851.0 469.7,855.2 470.8,859.3 472.0,862.7 473.2,865.5 474.4,868.2 475.5,870.5 476.7,872.3 477.8,873.5 479.0,874.5 480.1,875.4 481.2,876.2 482.4,877.0 483.5,878.0 484.7,879.4 485.9,881.0 487.1,882.3 488.3,882.9 489.5,882.3 490.6,881.0 491.8,879.6 493.0,879.0 494.1,879.1 495.2,879.5 496.3,880.0 497.5,880.6 498.6,881.1 499.7,881.6 500.8,882.0 501.9,882.2 503.0,882.5 504.1,882.6 505.2,882.8 506.3,883.0 507.4,883.2 508.5,883.3 509.6,883.5"/>
<rect x="29.8" y="758.5" width="479.8" height="187.0" fill="none" stroke="#333" stroke-width="1.6"/>
<line x1="83.1" y1="758.5" x2="83.1" y2="764.0" stroke="#222" stroke-width="1.3"/>
<line x1="83.1" y1="945.5" x2="83.1" y2="940.0" stroke="#222" stroke-width="1.3"/>
<line x1="136.4" y1="758.5" x2="136.4" y2="764.0" stroke="#222" stroke-width="1.3"/>
<line x1="136.4" y1="945.5" x2="136.4" y2="940.0" stroke="#222" stroke-width="1.3"/>
<line x1="189.7" y1="758.5" x2="189.7" y2="764.0" stroke="#222" stroke-width="1.3"/>
<line x1="189.7" y1="945.5" x2="189.7" y2="940.0" stroke="#222" stroke-width="1.3"/>
<line x1="243.0" y1="758.5" x2="243.0" y2="764.0" stroke="#222" stroke-width="1.3"/>
<line x1="243.0" y1="945.5" x2="243.0" y2="940.0" stroke="#222" stroke-width="1.3"/>
<line x1="296.4" y1="758.5" x2="296.4" y2="764.0" stroke="#222" stroke-width="1.3"/>
<line x1="296.4" y1="945.5" x2="296.4" y2="940.0" stroke="#222" stroke-width="1.3"/>
<line x1="349.7" y1="758.5" x2="349.7" y2="764.0" stroke="#222" stroke-width="1.3"/>
<line x1="349.7" y1="945.5" x2="349.7" y2="940.0" stroke="#222" stroke-width="1.3"/>
<line x1="403.0" y1="758.5" x2="403.0" y2="764.0" stroke="#222" stroke-width="1.3"/>
<line x1="403.0" y1="945.5" x2="403.0" y2="940.0" stroke="#222" stroke-width="1.3"/>
<line x1="456.3" y1="758.5" x2="456.3" y2="764.0" stroke="#222" stroke-width="1.3"/>
<line x1="456.3" y1="945.5" x2="456.3" y2="940.0" stroke="#222" stroke-width="1.3"/>
<line x1="29.8" y1="789.6" x2="32.0" y2="789.6" stroke="#222" stroke-width="1.3"/>
<line x1="29.8" y1="822" x2="32.0" y2="822" stroke="#222" stroke-width="1.3"/>
<line x1="29.8" y1="853" x2="32.0" y2="853" stroke="#222" stroke-width="1.3"/>
<line x1="29.8" y1="884.2" x2="32.0" y2="884.2" stroke="#222" stroke-width="1.3"/>
<line x1="29.8" y1="915.4" x2="32.0" y2="915.4" stroke="#222" stroke-width="1.3"/>
<line x1="509.6" y1="789.6" x2="507.40000000000003" y2="789.6" stroke="#222" stroke-width="1.3"/>
<line x1="509.6" y1="822" x2="507.40000000000003" y2="822" stroke="#222" stroke-width="1.3"/>
<line x1="509.6" y1="853" x2="507.40000000000003" y2="853" stroke="#222" stroke-width="1.3"/>
<line x1="509.6" y1="884.2" x2="507.40000000000003" y2="884.2" stroke="#222" stroke-width="1.3"/>
<line x1="509.6" y1="915.4" x2="507.40000000000003" y2="915.4" stroke="#222" stroke-width="1.3"/>
<polyline fill="none" stroke="#44d944" stroke-width="1.5" stroke-linejoin="round" points="30.5,1190.5 31.0,1190.2 31.5,1189.9 32.0,1189.6 32.5,1189.3 33.0,1188.9 33.5,1188.5 34.0,1188.0 34.5,1187.5 35.0,1186.9 35.5,1186.3 36.0,1185.5 36.5,1184.7 37.0,1183.8 37.5,1182.7 38.0,1181.5 38.5,1180.0 39.0,1178.4 39.5,1176.5 40.0,1174.2 40.5,1171.5 41.0,1168.4 41.5,1164.6 42.0,1160.0 42.5,1154.5 43.0,1147.8 43.5,1139.8 44.0,1130.2 44.5,1119.0 44.8,1112.5"/>
<polyline fill="none" stroke="#44d944" stroke-width="1.5" stroke-linejoin="round" points="49.2,1112.5 49.5,1118.9 50.0,1130.1 50.5,1139.7 51.0,1147.8 51.5,1154.4 52.0,1160.0 52.5,1164.5 53.0,1168.3 53.5,1171.5 54.0,1174.2 54.5,1176.4 55.0,1178.3 55.5,1180.0 56.0,1181.4 56.5,1182.6 57.0,1183.7 57.5,1184.6 58.0,1185.4 58.5,1186.2 59.0,1186.8 59.5,1187.4 60.0,1187.9 60.5,1188.4 61.0,1188.8 61.5,1189.2 62.0,1189.5 62.5,1189.8 63.0,1190.1 63.5,1190.3 64.0,1190.6 64.5,1190.8 65.0,1191.0 65.5,1191.2 66.0,1191.3 66.5,1191.5 67.0,1191.6 67.5,1191.8 68.0,1191.9 68.5,1192.0 69.0,1192.1 69.5,1192.2 70.0,1192.3 70.5,1192.4 71.0,1192.5 71.5,1192.6 72.0,1192.6 72.5,1192.7 73.0,1192.7 73.5,1192.8 74.0,1192.9 74.5,1192.9 75.0,1192.9 75.5,1193.0 76.0,1193.0 76.5,1193.1 77.0,1193.1 77.5,1193.1 78.0,1193.2 78.5,1193.2 79.0,1193.2 79.5,1193.2 80.0,1193.2 80.5,1193.3 81.0,1193.3 81.5,1193.3 82.0,1193.3 82.5,1193.3 83.0,1193.3 83.5,1193.3 84.0,1193.3 84.5,1193.3 85.0,1193.3 85.5,1193.3 86.0,1193.3 86.5,1193.3 87.0,1193.2 87.5,1193.2 88.0,1193.2 88.5,1193.2 89.0,1193.1 89.5,1193.1 90.0,1193.1 90.5,1193.0 91.0,1193.0 91.5,1192.9 92.0,1192.8 92.5,1192.7 93.0,1192.7 93.5,1192.6 94.0,1192.5 94.5,1192.3 95.0,1192.2 95.5,1192.1 96.0,1191.9 96.5,1191.7 97.0,1191.5 97.5,1191.2 98.0,1190.9 98.5,1190.6 99.0,1190.2 99.5,1189.7 100.0,1189.2 100.5,1188.6 101.0,1187.8 101.5,1186.9 102.0,1185.9 102.5,1184.6 103.0,1183.0 103.5,1181.1 104.0,1178.7 104.5,1175.9 105.0,1172.6 105.5,1168.8 106.0,1164.7 106.5,1160.7 107.0,1157.7 107.5,1156.2 108.0,1156.9 108.5,1159.4 109.0,1163.1 109.5,1167.2 110.0,1171.1 110.5,1174.7 111.0,1177.7 111.5,1180.3 112.0,1182.4 112.5,1184.1 113.0,1185.5 113.5,1186.6 114.0,1187.6 114.5,1188.4 115.0,1189.1 115.5,1189.7 116.0,1190.2 116.5,1190.6 117.0,1191.0 117.5,1191.3 118.0,1191.6 118.5,1191.8 119.0,1192.1 119.5,1192.3 120.0,1192.4 120.5,1192.6 121.0,1192.7 121.5,1192.9 122.0,1193.0 122.5,1193.1 123.0,1193.2 123.5,1193.3 124.0,1193.3 124.5,1193.4 125.0,1193.5 125.5,1193.5 126.0,1193.6 126.5,1193.6 127.0,1193.7 127.5,1193.7 128.0,1193.8 128.5,1193.8 129.0,1193.9 129.5,1193.9 130.0,1193.9 130.5,1193.9 131.0,1194.0 131.5,1194.0 132.0,1194.0 132.5,1194.1 133.0,1194.1 133.5,1194.1 134.0,1194.1 134.5,1194.1 135.0,1194.2 135.5,1194.2 136.0,1194.2 136.5,1194.2 137.0,1194.2 137.5,1194.2 138.0,1194.2 138.5,1194.3 139.0,1194.3 139.5,1194.3 140.0,1194.3 140.5,1194.3 141.0,1194.3 141.5,1194.3 142.0,1194.3 142.5,1194.3 143.0,1194.4 143.5,1194.4 144.0,1194.4 144.5,1194.4 145.0,1194.4 145.5,1194.4 146.0,1194.4 146.5,1194.4 147.0,1194.4 147.5,1194.4 148.0,1194.4 148.5,1194.4 149.0,1194.4 149.5,1194.4 150.0,1194.5 150.5,1194.5 151.0,1194.5 151.5,1194.5 152.0,1194.5 152.5,1194.5 153.0,1194.5 153.5,1194.5 154.0,1194.5 154.5,1194.5 155.0,1194.5 155.5,1194.5 156.0,1194.5 156.5,1194.5 157.0,1194.5 157.5,1194.5 158.0,1194.5 158.5,1194.5 159.0,1194.5 159.5,1194.5 160.0,1194.5 160.5,1194.5 161.0,1194.5 161.5,1194.5 162.0,1194.5 162.5,1194.5 163.0,1194.5 163.5,1194.5 164.0,1194.5 164.5,1194.6 165.0,1194.6 165.5,1194.6 166.0,1194.6 166.5,1194.6 167.0,1194.6 167.5,1194.6 168.0,1194.6 168.5,1194.6 169.0,1194.6 169.5,1194.6 170.0,1194.6 170.5,1194.6 171.0,1194.6 171.5,1194.6 172.0,1194.6 172.5,1194.6 173.0,1194.6 173.5,1194.6 174.0,1194.6 174.5,1194.6 175.0,1194.6 175.5,1194.6 176.0,1194.6 176.5,1194.6 177.0,1194.6 177.5,1194.6 178.0,1194.6 178.5,1194.6 179.0,1194.6 179.5,1194.6 180.0,1194.6 180.5,1194.6 181.0,1194.6 181.5,1194.6 182.0,1194.6 182.5,1194.6 183.0,1194.6 183.5,1194.6 184.0,1194.6 184.5,1194.6 185.0,1194.6 185.5,1194.6 186.0,1194.6 186.5,1194.6 187.0,1194.6 187.5,1194.6 188.0,1194.6 188.5,1194.6 189.0,1194.6 189.5,1194.6 190.0,1194.6 190.5,1194.6 191.0,1194.6 191.5,1194.6 192.0,1194.6 192.5,1194.6 193.0,1194.6 193.5,1194.6 194.0,1194.6 194.5,1194.6 195.0,1194.6 195.5,1194.6 196.0,1194.6 196.5,1194.6 197.0,1194.6 197.5,1194.6 198.0,1194.6 198.5,1194.6 199.0,1194.6 199.5,1194.6 200.0,1194.6 200.5,1194.6 201.0,1194.6 201.5,1194.6 202.0,1194.6 202.5,1194.6 203.0,1194.6 203.5,1194.6 204.0,1194.6 204.5,1194.6 205.0,1194.6 205.5,1194.6 206.0,1194.6 206.5,1194.6 207.0,1194.5 207.5,1194.5 208.0,1194.5 208.5,1194.5 209.0,1194.5 209.5,1194.5 210.0,1194.5 210.5,1194.5 211.0,1194.5 211.5,1194.5 212.0,1194.5 212.5,1194.5 213.0,1194.5 213.5,1194.5 214.0,1194.5 214.5,1194.5 215.0,1194.5 215.5,1194.5 216.0,1194.5 216.5,1194.5 217.0,1194.5 217.5,1194.5 218.0,1194.5 218.5,1194.5 219.0,1194.4 219.5,1194.4 220.0,1194.4 220.5,1194.4 221.0,1194.4 221.5,1194.4 222.0,1194.4 222.5,1194.4 223.0,1194.4 223.5,1194.4 224.0,1194.4 224.5,1194.4 225.0,1194.3 225.5,1194.3 226.0,1194.3 226.5,1194.3 227.0,1194.3 227.5,1194.3 228.0,1194.3 228.5,1194.3 229.0,1194.2 229.5,1194.2 230.0,1194.2 230.5,1194.2 231.0,1194.2 231.5,1194.1 232.0,1194.1 232.5,1194.1 233.0,1194.1 233.5,1194.0 234.0,1194.0 234.5,1194.0 235.0,1193.9 235.5,1193.9 236.0,1193.9 236.5,1193.8 237.0,1193.8 237.5,1193.7 238.0,1193.7 238.5,1193.6 239.0,1193.6 239.5,1193.5 240.0,1193.4 240.5,1193.4 241.0,1193.3 241.5,1193.2 242.0,1193.1 242.5,1193.0 243.0,1192.9 243.5,1192.7 244.0,1192.6 244.5,1192.4 245.0,1192.2 245.5,1192.0 246.0,1191.8 246.5,1191.5 247.0,1191.2 247.5,1190.9 248.0,1190.5 248.5,1190.0 249.0,1189.5 249.5,1188.9 250.0,1188.2 250.5,1187.3 251.0,1186.3 251.5,1185.1 252.0,1183.6 252.5,1181.8 253.0,1179.7 253.5,1177.0 254.0,1173.8 254.5,1170.0 255.0,1165.7 255.5,1161.1 256.0,1156.6 256.5,1153.2 257.0,1151.5 257.5,1152.3 258.0,1155.1 258.5,1159.2 259.0,1163.9 259.5,1168.4 260.0,1172.4 260.5,1175.8 261.0,1178.7 261.5,1181.0 262.0,1182.9 262.5,1184.5 263.0,1185.9 263.5,1186.9 264.0,1187.9 264.5,1188.6 265.0,1189.3 265.5,1189.8 266.0,1190.3 266.5,1190.7 267.0,1191.1 267.5,1191.4 268.0,1191.7 268.5,1191.9 269.0,1192.1 269.5,1192.3 270.0,1192.5 270.5,1192.7 271.0,1192.8 271.5,1192.9 272.0,1193.0 272.5,1193.2 273.0,1193.2 273.5,1193.3 274.0,1193.4 274.5,1193.5 275.0,1193.6 275.5,1193.6 276.0,1193.7 276.5,1193.7 277.0,1193.8 277.5,1193.8 278.0,1193.9 278.5,1193.9 279.0,1193.9 279.5,1194.0 280.0,1194.0 280.5,1194.0 281.0,1194.1 281.5,1194.1 282.0,1194.1 282.5,1194.1 283.0,1194.2 283.5,1194.2 284.0,1194.2 284.5,1194.2 285.0,1194.2 285.5,1194.3 286.0,1194.3 286.5,1194.3 287.0,1194.3 287.5,1194.3 288.0,1194.3 288.5,1194.3 289.0,1194.4 289.5,1194.4 290.0,1194.4 290.5,1194.4 291.0,1194.4 291.5,1194.4 292.0,1194.4 292.5,1194.4 293.0,1194.4 293.5,1194.4 294.0,1194.4 294.5,1194.5 295.0,1194.5 295.5,1194.5 296.0,1194.5 296.5,1194.5 297.0,1194.5 297.5,1194.5 298.0,1194.5 298.5,1194.5 299.0,1194.5 299.5,1194.5 300.0,1194.5 300.5,1194.5 301.0,1194.5 301.5,1194.5 302.0,1194.5 302.5,1194.5 303.0,1194.5 303.5,1194.5 304.0,1194.5 304.5,1194.6 305.0,1194.6 305.5,1194.6 306.0,1194.6 306.5,1194.6 307.0,1194.6 307.5,1194.6 308.0,1194.6 308.5,1194.6 309.0,1194.6 309.5,1194.6 310.0,1194.6 310.5,1194.6 311.0,1194.6 311.5,1194.6 312.0,1194.6 312.5,1194.6 313.0,1194.6 313.5,1194.6 314.0,1194.6 314.5,1194.6 315.0,1194.6 315.5,1194.6 316.0,1194.6 316.5,1194.6 317.0,1194.6 317.5,1194.6 318.0,1194.6 318.5,1194.6 319.0,1194.6 319.5,1194.6 320.0,1194.6 320.5,1194.6 321.0,1194.6 321.5,1194.6 322.0,1194.6 322.5,1194.6 323.0,1194.6 323.5,1194.6 324.0,1194.6 324.5,1194.6 325.0,1194.6 325.5,1194.6 326.0,1194.6 326.5,1194.6 327.0,1194.6 327.5,1194.6 328.0,1194.6 328.5,1194.6 329.0,1194.6 329.5,1194.6 330.0,1194.6 330.5,1194.6 331.0,1194.6 331.5,1194.6 332.0,1194.6 332.5,1194.6 333.0,1194.6 333.5,1194.6 334.0,1194.6 334.5,1194.6 335.0,1194.6 335.5,1194.6 336.0,1194.6 336.5,1194.6 337.0,1194.6 337.5,1194.6 338.0,1194.6 338.5,1194.6 339.0,1194.6 339.5,1194.6 340.0,1194.6 340.5,1194.6 341.0,1194.6 341.5,1194.6 342.0,1194.6 342.5,1194.6 343.0,1194.6 343.5,1194.6 344.0,1194.6 344.5,1194.6 345.0,1194.6 345.5,1194.6 346.0,1194.6 346.5,1194.6 347.0,1194.6 347.5,1194.6 348.0,1194.6 348.5,1194.6 349.0,1194.6 349.5,1194.6 350.0,1194.6 350.5,1194.6 351.0,1194.6 351.5,1194.6 352.0,1194.6 352.5,1194.6 353.0,1194.6 353.5,1194.6 354.0,1194.6 354.5,1194.6 355.0,1194.6 355.5,1194.6 356.0,1194.6 356.5,1194.6 357.0,1194.6 357.5,1194.6 358.0,1194.6 358.5,1194.6 359.0,1194.6 359.5,1194.6 360.0,1194.6 360.5,1194.6 361.0,1194.6 361.5,1194.6 362.0,1194.6 362.5,1194.6 363.0,1194.6 363.5,1194.6 364.0,1194.5 364.5,1194.5 365.0,1194.5 365.5,1194.5 366.0,1194.5 366.5,1194.5 367.0,1194.5 367.5,1194.5 368.0,1194.5 368.5,1194.5 369.0,1194.5 369.5,1194.5 370.0,1194.5 370.5,1194.5 371.0,1194.5 371.5,1194.5 372.0,1194.5 372.5,1194.5 373.0,1194.5 373.5,1194.4 374.0,1194.4 374.5,1194.4 375.0,1194.4 375.5,1194.4 376.0,1194.4 376.5,1194.4 377.0,1194.4 377.5,1194.4 378.0,1194.3 378.5,1194.3 379.0,1194.3 379.5,1194.3 380.0,1194.3 380.5,1194.3 381.0,1194.2 381.5,1194.2 382.0,1194.2 382.5,1194.2 383.0,1194.2 383.5,1194.1 384.0,1194.1 384.5,1194.1 385.0,1194.0 385.5,1194.0 386.0,1194.0 386.5,1193.9 387.0,1193.9 387.5,1193.8 388.0,1193.7 388.5,1193.7 389.0,1193.6 389.5,1193.5 390.0,1193.4 390.5,1193.3 391.0,1193.2 391.5,1193.1 392.0,1192.9 392.5,1192.8 393.0,1192.6 393.5,1192.3 394.0,1192.1 394.5,1191.7 395.0,1191.4 395.5,1190.9 396.0,1190.4 396.5,1189.7 397.0,1188.9 397.5,1188.0 398.0,1186.8 398.5,1185.4 399.0,1183.7 399.5,1181.9 400.0,1179.9 400.5,1178.0 401.0,1176.7 401.5,1176.2 402.0,1176.7 402.5,1178.0 403.0,1179.9 403.5,1181.8 404.0,1183.7 404.5,1185.3 405.0,1186.7 405.5,1187.9 406.0,1188.8 406.5,1189.6 407.0,1190.3 407.5,1190.8 408.0,1191.2 408.5,1191.6 409.0,1191.9 409.5,1192.2 410.0,1192.4 410.5,1192.6 411.0,1192.7 411.5,1192.9 412.0,1193.0 412.5,1193.1 413.0,1193.2 413.5,1193.3 414.0,1193.4 414.5,1193.4 415.0,1193.5 415.5,1193.5 416.0,1193.6 416.5,1193.6 417.0,1193.6 417.5,1193.6 418.0,1193.7 418.5,1193.7 419.0,1193.7 419.5,1193.7 420.0,1193.7 420.5,1193.7 421.0,1193.7 421.5,1193.7 422.0,1193.7 422.5,1193.7 423.0,1193.7 423.5,1193.7 424.0,1193.7 424.5,1193.7 425.0,1193.7 425.5,1193.7 426.0,1193.7 426.5,1193.6 427.0,1193.6 427.5,1193.6 428.0,1193.6 428.5,1193.5 429.0,1193.5 429.5,1193.5 430.0,1193.4 430.5,1193.4 431.0,1193.3 431.5,1193.3 432.0,1193.2 432.5,1193.2 433.0,1193.1 433.5,1193.1 434.0,1193.0 434.5,1192.9 435.0,1192.8 435.5,1192.7 436.0,1192.6 436.5,1192.5 437.0,1192.4 437.5,1192.3 438.0,1192.2 438.5,1192.0 439.0,1191.8 439.5,1191.7 440.0,1191.5 440.5,1191.2 441.0,1191.0 441.5,1190.7 442.0,1190.4 442.5,1190.1 443.0,1189.7 443.5,1189.2 444.0,1188.7 444.5,1188.2 445.0,1187.5 445.5,1186.8 446.0,1185.9 446.5,1184.9 447.0,1183.7 447.5,1182.4 448.0,1180.7 448.5,1178.8 449.0,1176.5 449.5,1173.7 450.0,1170.3 450.5,1166.3 451.0,1161.5 451.5,1155.9 452.0,1149.6 452.5,1142.9 453.0,1136.5 453.5,1131.3 454.0,1128.6 454.5,1128.9 455.0,1132.2 455.5,1137.7 456.0,1144.3 456.5,1150.9 457.0,1157.1 457.5,1162.5 458.0,1167.2 458.5,1171.1 459.0,1174.3 459.5,1177.0 460.0,1179.2 460.5,1181.1 461.0,1182.7 461.5,1184.0 462.0,1185.2 462.5,1186.1 463.0,1187.0 463.5,1187.7 464.0,1188.3 464.5,1188.9 465.0,1189.4 465.5,1189.8 466.0,1190.2 466.5,1190.5 467.0,1190.8 467.5,1191.1 468.0,1191.4 468.5,1191.6 469.0,1191.8 469.5,1192.0 470.0,1192.1 470.5,1192.3 471.0,1192.4 471.5,1192.6 472.0,1192.7 472.5,1192.8 473.0,1192.9 473.5,1193.0 474.0,1193.1 474.5,1193.1 475.0,1193.2 475.5,1193.3 476.0,1193.4 476.5,1193.4 477.0,1193.5 477.5,1193.5 478.0,1193.6 478.5,1193.6 479.0,1193.7 479.5,1193.7 480.0,1193.8 480.5,1193.8 481.0,1193.8 481.5,1193.9 482.0,1193.9 482.5,1193.9 483.0,1193.9 483.5,1194.0 484.0,1194.0 484.5,1194.0 485.0,1194.1 485.5,1194.1 486.0,1194.1 486.5,1194.1 487.0,1194.1 487.5,1194.2 488.0,1194.2"/>
<polyline fill="none" stroke="#ec2f36" stroke-width="1.5" stroke-linejoin="round" points="30.5,1194.6 31.0,1194.6 31.5,1194.6 32.0,1194.6 32.5,1194.6 33.0,1194.6 33.5,1194.6 34.0,1194.6 34.5,1194.6 35.0,1194.6 35.5,1194.5 36.0,1194.5 36.5,1194.5 37.0,1194.5 37.5,1194.5 38.0,1194.5 38.5,1194.5 39.0,1194.5 39.5,1194.5 40.0,1194.5 40.5,1194.5 41.0,1194.5 41.5,1194.5 42.0,1194.5 42.5,1194.5 43.0,1194.5 43.5,1194.5 44.0,1194.5 44.5,1194.5 45.0,1194.5 45.5,1194.5 46.0,1194.5 46.5,1194.5 47.0,1194.5 47.5,1194.4 48.0,1194.4 48.5,1194.4 49.0,1194.4 49.5,1194.4 50.0,1194.4 50.5,1194.4 51.0,1194.4 51.5,1194.4 52.0,1194.4 52.5,1194.4 53.0,1194.4 53.5,1194.4 54.0,1194.4 54.5,1194.3 55.0,1194.3 55.5,1194.3 56.0,1194.3 56.5,1194.3 57.0,1194.3 57.5,1194.3 58.0,1194.3 58.5,1194.3 59.0,1194.2 59.5,1194.2 60.0,1194.2 60.5,1194.2 61.0,1194.2 61.5,1194.2 62.0,1194.2 62.5,1194.1 63.0,1194.1 63.5,1194.1 64.0,1194.1 64.5,1194.1 65.0,1194.1 65.5,1194.0 66.0,1194.0 66.5,1194.0 67.0,1194.0 67.5,1193.9 68.0,1193.9 68.5,1193.9 69.0,1193.8 69.5,1193.8 70.0,1193.8 70.5,1193.7 71.0,1193.7 71.5,1193.7 72.0,1193.6 72.5,1193.6 73.0,1193.5 73.5,1193.5 74.0,1193.4 74.5,1193.3 75.0,1193.3 75.5,1193.2 76.0,1193.1 76.5,1193.0 77.0,1192.9 77.5,1192.8 78.0,1192.7 78.5,1192.5 79.0,1192.4 79.5,1192.2 80.0,1192.1 80.5,1191.8 81.0,1191.6 81.5,1191.4 82.0,1191.1 82.5,1190.7 83.0,1190.3 83.5,1189.9 84.0,1189.3 84.5,1188.7 85.0,1188.0 85.5,1187.1 86.0,1186.0 86.5,1184.8 87.0,1183.2 87.5,1181.4 88.0,1179.1 88.5,1176.4 89.0,1173.1 89.5,1169.5 90.0,1165.7 90.5,1162.1 91.0,1159.5 91.5,1158.5 92.0,1159.4 92.5,1162.0 93.0,1165.5 93.5,1169.3 94.0,1172.9 94.5,1176.1 95.0,1178.8 95.5,1181.0 96.0,1182.8 96.5,1184.3 97.0,1185.6 97.5,1186.6 98.0,1187.4 98.5,1188.1 99.0,1188.6 99.5,1189.1 100.0,1189.5 100.5,1189.8 101.0,1190.1 101.5,1190.4 102.0,1190.6 102.5,1190.7 103.0,1190.8 103.5,1191.0 104.0,1191.0 104.5,1191.1 105.0,1191.1 105.5,1191.2 106.0,1191.2 106.5,1191.1 107.0,1191.1 107.5,1191.1 108.0,1191.0 108.5,1190.9 109.0,1190.8 109.5,1190.7 110.0,1190.6 110.5,1190.5 111.0,1190.3 111.5,1190.1 112.0,1189.9 112.5,1189.6 113.0,1189.3 113.5,1189.0 114.0,1188.7 114.5,1188.3 115.0,1187.8 115.5,1187.3 116.0,1186.7 116.5,1186.0 117.0,1185.2 117.5,1184.2 118.0,1183.2 118.5,1181.9 119.0,1180.5 119.5,1178.7 120.0,1176.7 120.5,1174.2 121.0,1171.3 121.5,1167.7 122.0,1163.5 122.5,1158.4 123.0,1152.4 123.5,1145.5 124.0,1137.8 124.5,1129.9 125.0,1122.8 125.5,1117.7 126.0,1115.8 126.5,1117.6 127.0,1122.7 127.5,1129.7 128.0,1137.5 128.5,1145.1 129.0,1151.9 129.5,1157.8 130.0,1162.8 130.5,1166.9 131.0,1170.3 131.5,1173.1 132.0,1175.4 132.5,1177.3 133.0,1178.7 133.5,1179.9 134.0,1180.8 134.5,1181.5 135.0,1181.9 135.5,1182.1 136.0,1182.0 136.5,1181.9 137.0,1181.6 137.5,1181.4 138.0,1181.4 138.5,1181.7 139.0,1182.3 139.5,1183.1 140.0,1184.0 140.5,1184.9 141.0,1185.8 141.5,1186.4 142.0,1187.0 142.5,1187.4 143.0,1187.8 143.5,1188.0 144.0,1188.1 144.5,1188.2 145.0,1188.2 145.5,1188.1 146.0,1187.9 146.5,1187.6 147.0,1187.1 147.5,1186.6 148.0,1185.9 148.5,1185.0 149.0,1183.8 149.5,1182.4 150.0,1180.7 150.5,1178.8 151.0,1176.6 151.5,1174.4 152.0,1172.7 152.5,1171.7 153.0,1171.8 153.5,1172.9 154.0,1174.8 154.5,1176.9 155.0,1179.0 155.5,1180.8 156.0,1182.4 156.5,1183.7 157.0,1184.6 157.5,1185.3 158.0,1185.8 158.5,1186.1 159.0,1186.2 159.5,1186.1 160.0,1185.8 160.5,1185.3 161.0,1184.6 161.5,1183.6 162.0,1182.4 162.5,1181.0 163.0,1179.7 163.5,1178.6 164.0,1178.0 164.5,1178.2 165.0,1179.1 165.5,1180.5 166.0,1182.2 166.5,1183.8 167.0,1185.2 167.5,1186.5 168.0,1187.5 168.5,1188.4 169.0,1189.1 169.5,1189.7 170.0,1190.1 170.5,1190.5 171.0,1190.9 171.5,1191.2 172.0,1191.4 172.5,1191.6 173.0,1191.8 173.5,1191.9 174.0,1192.0 174.5,1192.1 175.0,1192.2 175.5,1192.3 176.0,1192.3 176.5,1192.3 177.0,1192.4 177.5,1192.4 178.0,1192.3 178.5,1192.3 179.0,1192.3 179.5,1192.2 180.0,1192.2 180.5,1192.1 181.0,1191.9 181.5,1191.8 182.0,1191.6 182.5,1191.4 183.0,1191.2 183.5,1190.9 184.0,1190.5 184.5,1190.1 185.0,1189.5 185.5,1188.9 186.0,1188.1 186.5,1187.1 187.0,1185.9 187.5,1184.4 188.0,1182.7 188.5,1180.9 189.0,1179.0 189.5,1177.4 190.0,1176.4 190.5,1176.3 191.0,1177.1 191.5,1178.6 192.0,1180.4 192.5,1182.2 193.0,1183.9 193.5,1185.4 194.0,1186.6 194.5,1187.5 195.0,1188.3 195.5,1188.9 196.0,1189.3 196.5,1189.6 197.0,1189.8 197.5,1189.9 198.0,1189.8 198.5,1189.7 199.0,1189.4 199.5,1189.1 200.0,1188.8 200.5,1188.6 201.0,1188.5 201.5,1188.6 202.0,1189.0 202.5,1189.5 203.0,1190.0 203.5,1190.6 204.0,1191.1 204.5,1191.5 205.0,1191.9 205.5,1192.2 206.0,1192.4 206.5,1192.7 207.0,1192.8 207.5,1193.0 208.0,1193.1 208.5,1193.2 209.0,1193.3 209.5,1193.4 210.0,1193.5 210.5,1193.6 211.0,1193.6 211.5,1193.7 212.0,1193.7 212.5,1193.8 213.0,1193.8 213.5,1193.8 214.0,1193.9 214.5,1193.9 215.0,1193.9 215.5,1193.9 216.0,1194.0 216.5,1194.0 217.0,1194.0 217.5,1194.0 218.0,1194.0 218.5,1194.0 219.0,1194.0 219.5,1194.1 220.0,1194.1 220.5,1194.1 221.0,1194.1 221.5,1194.1 222.0,1194.1 222.5,1194.1 223.0,1194.1 223.5,1194.1 224.0,1194.1 224.5,1194.1 225.0,1194.1 225.5,1194.1 226.0,1194.1 226.5,1194.1 227.0,1194.1 227.5,1194.1 228.0,1194.1 228.5,1194.1 229.0,1194.1 229.5,1194.1 230.0,1194.1 230.5,1194.1 231.0,1194.1 231.5,1194.1 232.0,1194.0 232.5,1194.0 233.0,1194.0 233.5,1194.0 234.0,1194.0 234.5,1194.0 235.0,1193.9 235.5,1193.9 236.0,1193.9 236.5,1193.9 237.0,1193.8 237.5,1193.8 238.0,1193.8 238.5,1193.7 239.0,1193.7 239.5,1193.6 240.0,1193.6 240.5,1193.5 241.0,1193.4 241.5,1193.3 242.0,1193.2 242.5,1193.1 243.0,1193.0 243.5,1192.9 244.0,1192.7 244.5,1192.5 245.0,1192.3 245.5,1192.0 246.0,1191.7 246.5,1191.3 247.0,1190.9 247.5,1190.3 248.0,1189.6 248.5,1188.8 249.0,1187.9 249.5,1186.7 250.0,1185.4 250.5,1184.1 251.0,1182.8 251.5,1181.9 252.0,1181.5 252.5,1181.8 253.0,1182.6 253.5,1183.8 254.0,1185.1 254.5,1186.3 255.0,1187.3 255.5,1188.1 256.0,1188.8 256.5,1189.3 257.0,1189.7 257.5,1190.0 258.0,1190.2 258.5,1190.3 259.0,1190.3 259.5,1190.2 260.0,1190.0 260.5,1189.8 261.0,1189.4 261.5,1188.9 262.0,1188.2 262.5,1187.4 263.0,1186.4 263.5,1185.2 264.0,1183.7 264.5,1182.1 265.0,1180.5 265.5,1179.3 266.0,1178.6 266.5,1178.7 267.0,1179.6 267.5,1181.0 268.0,1182.6 268.5,1184.3 269.0,1185.7 269.5,1187.0 270.0,1188.1 270.5,1188.9 271.0,1189.6 271.5,1190.2 272.0,1190.7 272.5,1191.1 273.0,1191.4 273.5,1191.6 274.0,1191.8 274.5,1192.0 275.0,1192.1 275.5,1192.2 276.0,1192.3 276.5,1192.3 277.0,1192.3 277.5,1192.2 278.0,1192.2 278.5,1192.1 279.0,1191.9 279.5,1191.7 280.0,1191.4 280.5,1191.0 281.0,1190.6 281.5,1190.0 282.0,1189.5 282.5,1189.0 283.0,1188.6 283.5,1188.5 284.0,1188.7 284.5,1189.1 285.0,1189.6 285.5,1190.2 286.0,1190.8 286.5,1191.3 287.0,1191.7 287.5,1192.1 288.0,1192.3 288.5,1192.6 289.0,1192.8 289.5,1192.9 290.0,1193.1 290.5,1193.2 291.0,1193.2 291.5,1193.3 292.0,1193.4 292.5,1193.4 293.0,1193.4 293.5,1193.5 294.0,1193.5 294.5,1193.5 295.0,1193.5 295.5,1193.5 296.0,1193.4 296.5,1193.4 297.0,1193.3 297.5,1193.3 298.0,1193.2 298.5,1193.1 299.0,1193.0 299.5,1192.8 300.0,1192.6 300.5,1192.4 301.0,1192.1 301.5,1191.8 302.0,1191.3 302.5,1190.8 303.0,1190.2 303.5,1189.6 304.0,1189.1 304.5,1188.7 305.0,1188.5 305.5,1188.7 306.0,1189.1 306.5,1189.6 307.0,1190.2 307.5,1190.8 308.0,1191.3 308.5,1191.8 309.0,1192.1 309.5,1192.4 310.0,1192.7 310.5,1192.9 311.0,1193.0 311.5,1193.2 312.0,1193.3 312.5,1193.3 313.0,1193.4 313.5,1193.5 314.0,1193.5 314.5,1193.6 315.0,1193.6 315.5,1193.6 316.0,1193.7 316.5,1193.7 317.0,1193.7 317.5,1193.7 318.0,1193.7 318.5,1193.7 319.0,1193.7 319.5,1193.7 320.0,1193.7 320.5,1193.7 321.0,1193.7 321.5,1193.6 322.0,1193.6 322.5,1193.6 323.0,1193.6 323.5,1193.5 324.0,1193.5 324.5,1193.5 325.0,1193.4 325.5,1193.4 326.0,1193.3 326.5,1193.3 327.0,1193.2 327.5,1193.1 328.0,1193.0 328.5,1193.0 329.0,1192.9 329.5,1192.8 330.0,1192.6 330.5,1192.5 331.0,1192.4 331.5,1192.2 332.0,1192.0 332.5,1191.8 333.0,1191.6 333.5,1191.3 334.0,1191.0 334.5,1190.6 335.0,1190.2 335.5,1189.7 336.0,1189.2 336.5,1188.5 337.0,1187.7 337.5,1186.8 338.0,1185.7 338.5,1184.3 339.0,1182.7 339.5,1180.7 340.0,1178.2 340.5,1175.3 341.0,1171.9 341.5,1168.0 342.0,1163.9 342.5,1160.0 343.0,1157.2 343.5,1156.2 344.0,1157.2 344.5,1160.0 345.0,1163.8 345.5,1167.9 346.0,1171.8 346.5,1175.3 347.0,1178.2 347.5,1180.6 348.0,1182.6 348.5,1184.2 349.0,1185.5 349.5,1186.7 350.0,1187.6 350.5,1188.3 351.0,1189.0 351.5,1189.5 352.0,1190.0 352.5,1190.4 353.0,1190.7 353.5,1191.0 354.0,1191.3 354.5,1191.5 355.0,1191.7 355.5,1191.8 356.0,1192.0 356.5,1192.1 357.0,1192.2 357.5,1192.3 358.0,1192.4 358.5,1192.4 359.0,1192.5 359.5,1192.5 360.0,1192.6 360.5,1192.6 361.0,1192.6 361.5,1192.6 362.0,1192.6 362.5,1192.6 363.0,1192.5 363.5,1192.5 364.0,1192.4 364.5,1192.3 365.0,1192.2 365.5,1192.1 366.0,1192.0 366.5,1191.8 367.0,1191.6 367.5,1191.4 368.0,1191.1 368.5,1190.7 369.0,1190.3 369.5,1189.8 370.0,1189.2 370.5,1188.5 371.0,1187.7 371.5,1186.7 372.0,1185.5 372.5,1184.4 373.0,1183.3 373.5,1182.4 374.0,1181.8 374.5,1181.6 375.0,1181.6 375.5,1181.6 376.0,1181.4 376.5,1180.9 377.0,1180.1 377.5,1178.9 378.0,1177.5 378.5,1176.1 379.0,1175.0 379.5,1174.6 380.0,1175.1 380.5,1176.4 381.0,1178.3 381.5,1180.3 382.0,1182.3 382.5,1184.0 383.0,1185.5 383.5,1186.7 384.0,1187.8 384.5,1188.6 385.0,1189.3 385.5,1189.9 386.0,1190.3 386.5,1190.7 387.0,1191.0 387.5,1191.3 388.0,1191.5 388.5,1191.7 389.0,1191.9 389.5,1192.0 390.0,1192.1 390.5,1192.2 391.0,1192.2 391.5,1192.3 392.0,1192.3 392.5,1192.3 393.0,1192.3 393.5,1192.2 394.0,1192.1 394.5,1192.0 395.0,1191.9 395.5,1191.7 396.0,1191.5 396.5,1191.2 397.0,1190.9 397.5,1190.5 398.0,1189.9 398.5,1189.3 399.0,1188.5 399.5,1187.6 400.0,1186.7 400.5,1185.9 401.0,1185.2 401.5,1185.0 402.0,1185.2 402.5,1185.9 403.0,1186.7 403.5,1187.6 404.0,1188.5 404.5,1189.3 405.0,1189.9 405.5,1190.4 406.0,1190.9 406.5,1191.2 407.0,1191.5 407.5,1191.7 408.0,1191.8 408.5,1192.0 409.0,1192.1 409.5,1192.1 410.0,1192.2 410.5,1192.2 411.0,1192.2 411.5,1192.2 412.0,1192.1 412.5,1192.1 413.0,1192.0 413.5,1191.8 414.0,1191.7 414.5,1191.5 415.0,1191.3 415.5,1191.1 416.0,1190.8 416.5,1190.5 417.0,1190.1 417.5,1189.6 418.0,1189.0 418.5,1188.3 419.0,1187.4 419.5,1186.3 420.0,1185.1 420.5,1183.5 421.0,1181.6 421.5,1179.4 422.0,1176.9 422.5,1174.2 423.0,1171.8 423.5,1170.0 424.0,1169.3 424.5,1169.9 425.0,1171.7 425.5,1174.1 426.0,1176.8 426.5,1179.2 427.0,1181.4 427.5,1183.2 428.0,1184.8 428.5,1186.0 429.0,1187.0 429.5,1187.8 430.0,1188.5 430.5,1189.0 431.0,1189.5 431.5,1189.8 432.0,1190.1 432.5,1190.3 433.0,1190.4 433.5,1190.6 434.0,1190.6 434.5,1190.6 435.0,1190.6 435.5,1190.6 436.0,1190.5 436.5,1190.3 437.0,1190.2 437.5,1189.9 438.0,1189.6 438.5,1189.3 439.0,1188.8 439.5,1188.3 440.0,1187.7 440.5,1186.9 441.0,1185.9 441.5,1184.8 442.0,1183.4 442.5,1181.6 443.0,1179.5 443.5,1176.9 444.0,1173.9 444.5,1170.3 445.0,1166.4 445.5,1162.6 446.0,1159.5 446.5,1157.8 447.0,1158.0 447.5,1160.1 448.0,1163.4 448.5,1167.4 449.0,1171.2 449.5,1174.8 450.0,1177.8 450.5,1180.3 451.0,1182.4 451.5,1184.1 452.0,1185.5 452.5,1186.7 453.0,1187.6 453.5,1188.5 454.0,1189.1 454.5,1189.7 455.0,1190.2 455.5,1190.6 456.0,1191.0 456.5,1191.3 457.0,1191.6 457.5,1191.9 458.0,1192.1 458.5,1192.3 459.0,1192.5 459.5,1192.6 460.0,1192.7 460.5,1192.9 461.0,1193.0 461.5,1193.1 462.0,1193.2 462.5,1193.3 463.0,1193.4 463.5,1193.4 464.0,1193.5 464.5,1193.6 465.0,1193.6 465.5,1193.7 466.0,1193.7 466.5,1193.8 467.0,1193.8 467.5,1193.8 468.0,1193.9 468.5,1193.9 469.0,1193.9 469.5,1194.0 470.0,1194.0 470.5,1194.0 471.0,1194.1 471.5,1194.1 472.0,1194.1 472.5,1194.1 473.0,1194.2 473.5,1194.2 474.0,1194.2 474.5,1194.2 475.0,1194.2 475.5,1194.2 476.0,1194.3 476.5,1194.3 477.0,1194.3 477.5,1194.3 478.0,1194.3 478.5,1194.3 479.0,1194.3 479.5,1194.3 480.0,1194.4 480.5,1194.4 481.0,1194.4 481.5,1194.4 482.0,1194.4 482.5,1194.4 483.0,1194.4 483.5,1194.4 484.0,1194.4 484.5,1194.4 485.0,1194.4 485.5,1194.5 486.0,1194.5 486.5,1194.5 487.0,1194.5 487.5,1194.5 488.0,1194.5"/>
<polyline fill="none" stroke="#1c1c1c" stroke-width="1.5" stroke-linejoin="round" points="30.5,1194.7 31.0,1194.7 31.5,1194.7 32.0,1194.7 32.5,1194.7 33.0,1194.7 33.5,1194.7 34.0,1194.7 34.5,1194.7 35.0,1194.7 35.5,1194.7 36.0,1194.7 36.5,1194.7 37.0,1194.7 37.5,1194.7 38.0,1194.7 38.5,1194.7 39.0,1194.7 39.5,1194.7 40.0,1194.7 40.5,1194.7 41.0,1194.7 41.5,1194.7 42.0,1194.7 42.5,1194.7 43.0,1194.7 43.5,1194.7 44.0,1194.7 44.5,1194.7 45.0,1194.7 45.5,1194.7 46.0,1194.7 46.5,1194.7 47.0,1194.7 47.5,1194.7 48.0,1194.7 48.5,1194.7 49.0,1194.7 49.5,1194.7 50.0,1194.7 50.5,1194.7 51.0,1194.7 51.5,1194.7 52.0,1194.7 52.5,1194.7 53.0,1194.7 53.5,1194.7 54.0,1194.7 54.5,1194.7 55.0,1194.7 55.5,1194.7 56.0,1194.7 56.5,1194.7 57.0,1194.7 57.5,1194.7 58.0,1194.7 58.5,1194.7 59.0,1194.7 59.5,1194.7 60.0,1194.7 60.5,1194.7 61.0,1194.7 61.5,1194.7 62.0,1194.7 62.5,1194.7 63.0,1194.7 63.5,1194.6 64.0,1194.6 64.5,1194.6 65.0,1194.6 65.5,1194.6 66.0,1194.6 66.5,1194.6 67.0,1194.6 67.5,1194.6 68.0,1194.6 68.5,1194.6 69.0,1194.6 69.5,1194.6 70.0,1194.6 70.5,1194.6 71.0,1194.6 71.5,1194.6 72.0,1194.6 72.5,1194.6 73.0,1194.6 73.5,1194.6 74.0,1194.6 74.5,1194.6 75.0,1194.6 75.5,1194.6 76.0,1194.6 76.5,1194.6 77.0,1194.6 77.5,1194.6 78.0,1194.6 78.5,1194.5 79.0,1194.5 79.5,1194.5 80.0,1194.5 80.5,1194.5 81.0,1194.5 81.5,1194.5 82.0,1194.5 82.5,1194.5 83.0,1194.5 83.5,1194.5 84.0,1194.5 84.5,1194.5 85.0,1194.5 85.5,1194.4 86.0,1194.4 86.5,1194.4 87.0,1194.4 87.5,1194.4 88.0,1194.4 88.5,1194.4 89.0,1194.4 89.5,1194.3 90.0,1194.3 90.5,1194.3 91.0,1194.3 91.5,1194.3 92.0,1194.2 92.5,1194.2 93.0,1194.2 93.5,1194.2 94.0,1194.1 94.5,1194.1 95.0,1194.1 95.5,1194.0 96.0,1194.0 96.5,1194.0 97.0,1193.9 97.5,1193.8 98.0,1193.8 98.5,1193.7 99.0,1193.6 99.5,1193.5 100.0,1193.4 100.5,1193.3 101.0,1193.2 101.5,1193.0 102.0,1192.8 102.5,1192.5 103.0,1192.3 103.5,1191.9 104.0,1191.5 104.5,1191.1 105.0,1190.6 105.5,1190.2 106.0,1189.8 106.5,1189.6 107.0,1189.6 107.5,1189.7 108.0,1189.9 108.5,1190.1 109.0,1190.3 109.5,1190.4 110.0,1190.4 110.5,1190.3 111.0,1190.1 111.5,1189.8 112.0,1189.4 112.5,1188.8 113.0,1188.1 113.5,1187.2 114.0,1186.1 114.5,1184.8 115.0,1183.2 115.5,1181.2 116.0,1179.0 116.5,1176.7 117.0,1174.5 117.5,1172.9 118.0,1172.3 118.5,1172.9 119.0,1174.5 119.5,1176.7 120.0,1179.1 120.5,1181.3 121.0,1183.3 121.5,1185.0 122.0,1186.4 122.5,1187.5 123.0,1188.5 123.5,1189.2 124.0,1189.9 124.5,1190.4 125.0,1190.8 125.5,1191.2 126.0,1191.5 126.5,1191.7 127.0,1191.9 127.5,1192.1 128.0,1192.2 128.5,1192.4 129.0,1192.5 129.5,1192.5 130.0,1192.6 130.5,1192.6 131.0,1192.6 131.5,1192.6 132.0,1192.6 132.5,1192.5 133.0,1192.5 133.5,1192.4 134.0,1192.2 134.5,1192.1 135.0,1191.8 135.5,1191.6 136.0,1191.2 136.5,1190.8 137.0,1190.2 137.5,1189.6 138.0,1188.8 138.5,1187.9 139.0,1187.0 139.5,1186.1 140.0,1185.3 140.5,1185.0 141.0,1185.2 141.5,1185.8 142.0,1186.7 142.5,1187.6 143.0,1188.6 143.5,1189.4 144.0,1190.2 144.5,1190.8 145.0,1191.3 145.5,1191.7 146.0,1192.0 146.5,1192.3 147.0,1192.5 147.5,1192.7 148.0,1192.9 148.5,1193.0 149.0,1193.1 149.5,1193.2 150.0,1193.3 150.5,1193.3 151.0,1193.4 151.5,1193.5 152.0,1193.5 152.5,1193.5 153.0,1193.6 153.5,1193.6 154.0,1193.6 154.5,1193.6 155.0,1193.6 155.5,1193.6 156.0,1193.6 156.5,1193.6 157.0,1193.6 157.5,1193.6 158.0,1193.6 158.5,1193.6 159.0,1193.5 159.5,1193.5 160.0,1193.5 160.5,1193.5 161.0,1193.4 161.5,1193.4 162.0,1193.3 162.5,1193.3 163.0,1193.2 163.5,1193.1 164.0,1193.1 164.5,1193.0 165.0,1192.9 165.5,1192.8 166.0,1192.7 166.5,1192.6 167.0,1192.4 167.5,1192.2 168.0,1192.1 168.5,1191.9 169.0,1191.6 169.5,1191.4 170.0,1191.1 170.5,1190.7 171.0,1190.3 171.5,1189.9 172.0,1189.3 172.5,1188.7 173.0,1187.9 173.5,1187.0 174.0,1186.0 174.5,1184.7 175.0,1183.1 175.5,1181.2 176.0,1178.9 176.5,1176.1 177.0,1172.7 177.5,1168.8 178.0,1164.6 178.5,1160.5 179.0,1157.0 179.5,1155.2 180.0,1155.4 180.5,1157.6 181.0,1161.3 181.5,1165.5 182.0,1169.7 182.5,1173.4 183.0,1176.7 183.5,1179.4 184.0,1181.6 184.5,1183.5 185.0,1185.0 185.5,1186.2 186.0,1187.3 186.5,1188.1 187.0,1188.9 187.5,1189.5 188.0,1190.0 188.5,1190.5 189.0,1190.8 189.5,1191.2 190.0,1191.5 190.5,1191.7 191.0,1192.0 191.5,1192.2 192.0,1192.4 192.5,1192.5 193.0,1192.7 193.5,1192.8 194.0,1192.9 194.5,1193.0 195.0,1193.1 195.5,1193.2 196.0,1193.3 196.5,1193.3 197.0,1193.4 197.5,1193.5 198.0,1193.5 198.5,1193.6 199.0,1193.6 199.5,1193.7 200.0,1193.7 200.5,1193.7 201.0,1193.8 201.5,1193.8 202.0,1193.8 202.5,1193.9 203.0,1193.9 203.5,1193.9 204.0,1193.9 204.5,1194.0 205.0,1194.0 205.5,1194.0 206.0,1194.0 206.5,1194.0 207.0,1194.0 207.5,1194.1 208.0,1194.1 208.5,1194.1 209.0,1194.1 209.5,1194.1 210.0,1194.1 210.5,1194.1 211.0,1194.1 211.5,1194.1 212.0,1194.1 212.5,1194.2 213.0,1194.2 213.5,1194.2 214.0,1194.2 214.5,1194.2 215.0,1194.2 215.5,1194.2 216.0,1194.2 216.5,1194.2 217.0,1194.2 217.5,1194.2 218.0,1194.2 218.5,1194.2 219.0,1194.2 219.5,1194.2 220.0,1194.2 220.5,1194.2 221.0,1194.2 221.5,1194.2 222.0,1194.2 222.5,1194.2 223.0,1194.2 223.5,1194.2 224.0,1194.2 224.5,1194.1 225.0,1194.1 225.5,1194.1 226.0,1194.1 226.5,1194.1 227.0,1194.1 227.5,1194.1 228.0,1194.1 228.5,1194.1 229.0,1194.1 229.5,1194.1 230.0,1194.0 230.5,1194.0 231.0,1194.0 231.5,1194.0 232.0,1194.0 232.5,1194.0 233.0,1194.0 233.5,1193.9 234.0,1193.9 234.5,1193.9 235.0,1193.9 235.5,1193.9 236.0,1193.8 236.5,1193.8 237.0,1193.8 237.5,1193.8 238.0,1193.7 238.5,1193.7 239.0,1193.7 239.5,1193.6 240.0,1193.6 240.5,1193.5 241.0,1193.5 241.5,1193.5 242.0,1193.4 242.5,1193.3 243.0,1193.3 243.5,1193.2 244.0,1193.2 244.5,1193.1 245.0,1193.0 245.5,1192.9 246.0,1192.8 246.5,1192.8 247.0,1192.6 247.5,1192.5 248.0,1192.4 248.5,1192.3 249.0,1192.1 249.5,1192.0 250.0,1191.8 250.5,1191.6 251.0,1191.4 251.5,1191.1 252.0,1190.9 252.5,1190.6 253.0,1190.2 253.5,1189.9 254.0,1189.4 254.5,1189.0 255.0,1188.4 255.5,1187.8 256.0,1187.0 256.5,1186.2 257.0,1185.2 257.5,1184.0 258.0,1182.6 258.5,1181.0 259.0,1179.0 259.5,1176.6 260.0,1173.7 260.5,1170.1 261.0,1165.8 261.5,1160.7 262.0,1154.6 262.5,1147.6 263.0,1140.4 263.5,1133.6 264.0,1128.6 264.5,1126.8 265.0,1128.6 265.5,1133.5 266.0,1140.3 266.5,1147.6 267.0,1154.4 267.5,1160.5 268.0,1165.7 268.5,1170.0 269.0,1173.5 269.5,1176.4 270.0,1178.7 270.5,1180.7 271.0,1182.3 271.5,1183.6 272.0,1184.8 272.5,1185.7 273.0,1186.5 273.5,1187.2 274.0,1187.8 274.5,1188.2 275.0,1188.6 275.5,1189.0 276.0,1189.2 276.5,1189.5 277.0,1189.6 277.5,1189.7 278.0,1189.8 278.5,1189.7 279.0,1189.7 279.5,1189.5 280.0,1189.3 280.5,1189.0 281.0,1188.5 281.5,1187.9 282.0,1187.2 282.5,1186.3 283.0,1185.3 283.5,1184.2 284.0,1183.2 284.5,1182.4 285.0,1182.2 285.5,1182.6 286.0,1183.4 286.5,1184.6 287.0,1185.8 287.5,1187.0 288.0,1188.0 288.5,1188.9 289.0,1189.7 289.5,1190.3 290.0,1190.8 290.5,1191.2 291.0,1191.6 291.5,1191.9 292.0,1192.1 292.5,1192.3 293.0,1192.5 293.5,1192.7 294.0,1192.8 294.5,1192.9 295.0,1193.0 295.5,1193.1 296.0,1193.2 296.5,1193.3 297.0,1193.4 297.5,1193.4 298.0,1193.5 298.5,1193.5 299.0,1193.6 299.5,1193.6 300.0,1193.7 300.5,1193.7 301.0,1193.7 301.5,1193.8 302.0,1193.8 302.5,1193.8 303.0,1193.8 303.5,1193.9 304.0,1193.9 304.5,1193.9 305.0,1193.9 305.5,1193.9 306.0,1193.9 306.5,1194.0 307.0,1194.0 307.5,1194.0 308.0,1194.0 308.5,1194.0 309.0,1194.0 309.5,1194.0 310.0,1194.0 310.5,1194.0 311.0,1194.0 311.5,1194.0 312.0,1194.0 312.5,1194.0 313.0,1194.0 313.5,1194.0 314.0,1194.0 314.5,1194.0 315.0,1194.0 315.5,1194.0 316.0,1194.0 316.5,1194.0 317.0,1194.0 317.5,1194.0 318.0,1194.0 318.5,1193.9 319.0,1193.9 319.5,1193.9 320.0,1193.9 320.5,1193.9 321.0,1193.9 321.5,1193.8 322.0,1193.8 322.5,1193.8 323.0,1193.7 323.5,1193.7 324.0,1193.7 324.5,1193.6 325.0,1193.6 325.5,1193.5 326.0,1193.5 326.5,1193.4 327.0,1193.3 327.5,1193.2 328.0,1193.2 328.5,1193.1 329.0,1192.9 329.5,1192.8 330.0,1192.6 330.5,1192.5 331.0,1192.2 331.5,1192.0 332.0,1191.7 332.5,1191.4 333.0,1191.0 333.5,1190.5 334.0,1189.9 334.5,1189.1 335.0,1188.3 335.5,1187.2 336.0,1186.0 336.5,1184.7 337.0,1183.2 337.5,1182.0 338.0,1181.1 338.5,1180.8 339.0,1181.2 339.5,1182.1 340.0,1183.3 340.5,1184.5 341.0,1185.6 341.5,1186.5 342.0,1187.3 342.5,1187.8 343.0,1188.2 343.5,1188.4 344.0,1188.5 344.5,1188.5 345.0,1188.3 345.5,1188.0 346.0,1187.5 346.5,1186.9 347.0,1186.0 347.5,1185.0 348.0,1183.6 348.5,1181.9 349.0,1179.9 349.5,1177.6 350.0,1175.2 350.5,1172.9 351.0,1171.3 351.5,1170.7 352.0,1171.4 352.5,1173.1 353.0,1175.5 353.5,1178.0 354.0,1180.4 354.5,1182.5 355.0,1184.3 355.5,1185.8 356.0,1187.0 356.5,1188.1 357.0,1188.9 357.5,1189.6 358.0,1190.2 358.5,1190.7 359.0,1191.1 359.5,1191.4 360.0,1191.7 360.5,1192.0 361.0,1192.2 361.5,1192.4 362.0,1192.6 362.5,1192.7 363.0,1192.8 363.5,1193.0 364.0,1193.1 364.5,1193.2 365.0,1193.2 365.5,1193.3 366.0,1193.4 366.5,1193.5 367.0,1193.5 367.5,1193.6 368.0,1193.6 368.5,1193.6 369.0,1193.7 369.5,1193.7 370.0,1193.8 370.5,1193.8 371.0,1193.8 371.5,1193.8 372.0,1193.9 372.5,1193.9 373.0,1193.9 373.5,1193.9 374.0,1193.9 374.5,1193.9 375.0,1194.0 375.5,1194.0 376.0,1194.0 376.5,1194.0 377.0,1194.0 377.5,1194.0 378.0,1194.0 378.5,1194.0 379.0,1194.0 379.5,1194.0 380.0,1194.0 380.5,1194.0 381.0,1194.0 381.5,1194.0 382.0,1194.0 382.5,1194.0 383.0,1194.0 383.5,1194.0 384.0,1194.0 384.5,1194.0 385.0,1194.0 385.5,1194.0 386.0,1193.9 386.5,1193.9 387.0,1193.9 387.5,1193.9 388.0,1193.9 388.5,1193.9 389.0,1193.9 389.5,1193.8 390.0,1193.8 390.5,1193.8 391.0,1193.8 391.5,1193.7 392.0,1193.7 392.5,1193.7 393.0,1193.6 393.5,1193.6 394.0,1193.6 394.5,1193.5 395.0,1193.5 395.5,1193.4 396.0,1193.4 396.5,1193.3 397.0,1193.3 397.5,1193.2 398.0,1193.1 398.5,1193.0 399.0,1192.9 399.5,1192.8 400.0,1192.7 400.5,1192.6 401.0,1192.5 401.5,1192.3 402.0,1192.2 402.5,1192.0 403.0,1191.8 403.5,1191.5 404.0,1191.3 404.5,1190.9 405.0,1190.6 405.5,1190.2 406.0,1189.7 406.5,1189.2 407.0,1188.5 407.5,1187.8 408.0,1186.9 408.5,1185.8 409.0,1184.5 409.5,1183.0 410.0,1181.0 410.5,1178.7 411.0,1175.9 411.5,1172.6 412.0,1168.8 412.5,1164.6 413.0,1160.4 413.5,1157.0 414.0,1155.2 414.5,1155.4 415.0,1157.6 415.5,1161.1 416.0,1165.3 416.5,1169.4 417.0,1173.1 417.5,1176.3 418.0,1178.9 418.5,1181.1 419.0,1182.9 419.5,1184.4 420.0,1185.6 420.5,1186.6 421.0,1187.4 421.5,1188.1 422.0,1188.6 422.5,1189.1 423.0,1189.5 423.5,1189.8 424.0,1190.1 424.5,1190.3 425.0,1190.5 425.5,1190.6 426.0,1190.7 426.5,1190.8 427.0,1190.8 427.5,1190.8 428.0,1190.8 428.5,1190.7 429.0,1190.7 429.5,1190.6 430.0,1190.4 430.5,1190.2 431.0,1190.0 431.5,1189.7 432.0,1189.4 432.5,1189.0 433.0,1188.5 433.5,1187.9 434.0,1187.2 434.5,1186.4 435.0,1185.4 435.5,1184.2 436.0,1182.7 436.5,1180.9 437.0,1178.7 437.5,1176.1 438.0,1172.8 438.5,1169.0 439.0,1164.7 439.5,1160.1 440.0,1155.9 440.5,1152.8 441.0,1151.7 441.5,1152.9 442.0,1156.0 442.5,1160.3 443.0,1164.9 443.5,1169.2 444.0,1173.1 444.5,1176.3 445.0,1179.1 445.5,1181.3 446.0,1183.1 446.5,1184.6 447.0,1185.9 447.5,1187.0 448.0,1187.8 448.5,1188.6 449.0,1189.2 449.5,1189.7 450.0,1190.2 450.5,1190.6 451.0,1191.0 451.5,1191.3 452.0,1191.6 452.5,1191.8 453.0,1192.0 453.5,1192.2 454.0,1192.4 454.5,1192.5 455.0,1192.7 455.5,1192.8 456.0,1192.9 456.5,1193.0 457.0,1193.1 457.5,1193.2 458.0,1193.3 458.5,1193.4 459.0,1193.4 459.5,1193.5 460.0,1193.5 460.5,1193.6 461.0,1193.7 461.5,1193.7 462.0,1193.7 462.5,1193.8 463.0,1193.8 463.5,1193.9 464.0,1193.9 464.5,1193.9 465.0,1194.0 465.5,1194.0 466.0,1194.0 466.5,1194.0 467.0,1194.1 467.5,1194.1 468.0,1194.1 468.5,1194.1 469.0,1194.2 469.5,1194.2 470.0,1194.2 470.5,1194.2 471.0,1194.2 471.5,1194.2 472.0,1194.3 472.5,1194.3 473.0,1194.3 473.5,1194.3 474.0,1194.3 474.5,1194.3 475.0,1194.3 475.5,1194.3 476.0,1194.4 476.5,1194.4 477.0,1194.4 477.5,1194.4 478.0,1194.4 478.5,1194.4 479.0,1194.4 479.5,1194.4 480.0,1194.4 480.5,1194.4 481.0,1194.4 481.5,1194.5 482.0,1194.5 482.5,1194.5 483.0,1194.5 483.5,1194.5 484.0,1194.5 484.5,1194.5 485.0,1194.5 485.5,1194.5 486.0,1194.5 486.5,1194.5 487.0,1194.5 487.5,1194.5 488.0,1194.5"/>
<line x1="264.5" y1="1095" x2="264.5" y2="1125" stroke="#1c1c1c" stroke-width="1.7" stroke-dasharray="4.3 4.9"/>
<line x1="349.7" y1="1112.3" x2="349.7" y2="1134.2" stroke="#1c1c1c" stroke-width="1.7" stroke-dasharray="4.3 4.9"/>
<line x1="89.8" y1="1106.5" x2="89.8" y2="1152.7" stroke="#ec2f36" stroke-width="1.7" stroke-dasharray="4.3 4.9"/>
<line x1="125" y1="1092.7" x2="125" y2="1115.8" stroke="#ec2f36" stroke-width="1.7" stroke-dasharray="4.3 4.9"/>
<line x1="150" y1="1102" x2="150" y2="1140" stroke="#ec2f36" stroke-width="1.7" stroke-dasharray="4.3 4.9"/>
<line x1="163.8" y1="1100.8" x2="163.8" y2="1138.8" stroke="#ec2f36" stroke-width="1.7" stroke-dasharray="4.3 4.9"/>
<line x1="188.5" y1="1108.8" x2="188.5" y2="1148" stroke="#ec2f36" stroke-width="1.7" stroke-dasharray="4.3 4.9"/>
<line x1="281.2" y1="1099.6" x2="281.2" y2="1121.5" stroke="#ec2f36" stroke-width="1.7" stroke-dasharray="4.3 4.9"/>
<line x1="342.3" y1="1114.6" x2="342.3" y2="1147" stroke="#ec2f36" stroke-width="1.7" stroke-dasharray="4.3 4.9"/>
<line x1="424.2" y1="1091.5" x2="424.2" y2="1131.5" stroke="#ec2f36" stroke-width="1.7" stroke-dasharray="4.3 4.9"/>
<line x1="444.1" y1="1087.8" x2="444.1" y2="1127.7" stroke="#ec2f36" stroke-width="1.7" stroke-dasharray="4.3 4.9"/>
<line x1="45.3" y1="1051" x2="45.3" y2="1108.8" stroke="#44d944" stroke-width="1.7" stroke-dasharray="4.3 4.9"/>
<line x1="106.5" y1="1084.6" x2="106.5" y2="1143.5" stroke="#44d944" stroke-width="1.7" stroke-dasharray="4.3 4.9"/>
<line x1="256.4" y1="1084" x2="256.4" y2="1149" stroke="#44d944" stroke-width="1.7" stroke-dasharray="4.3 4.9"/>
<line x1="401" y1="1106.5" x2="401" y2="1166.5" stroke="#44d944" stroke-width="1.7" stroke-dasharray="4.3 4.9"/>
<line x1="453" y1="1079" x2="453" y2="1118.5" stroke="#44d944" stroke-width="1.7" stroke-dasharray="4.3 4.9"/>
<polyline fill="none" stroke="#942fa4" stroke-width="1.3" stroke-linejoin="round" points="29.5,1083.5 30.6,1081.2 31.7,1079.0 32.8,1076.8 33.9,1074.5 35.0,1072.2 36.1,1069.8 37.2,1067.3 38.2,1064.8 39.2,1062.3 40.2,1059.6 41.2,1056.8 42.3,1054.0 43.3,1051.2 44.3,1048.3 45.3,1045.4 46.3,1042.2 47.3,1038.4 48.3,1034.4 49.3,1030.4 50.4,1026.8 51.4,1023.9 52.4,1021.9 53.4,1021.2 54.6,1021.6 55.7,1022.6 56.9,1024.1 58.0,1025.9 59.2,1028.0 60.4,1030.9 61.5,1035.2 62.7,1040.3 63.8,1045.8 65.0,1051.2 66.1,1056.7 67.2,1062.7 68.4,1068.7 69.5,1074.2 70.7,1079.6 71.8,1085.0 73.0,1090.0 74.1,1094.2 75.3,1097.3 76.5,1099.6 77.6,1101.8 78.8,1103.6 79.9,1105.2 81.0,1106.1 82.2,1106.5 83.2,1106.5 84.2,1106.4 85.2,1106.3 86.2,1106.1 87.2,1105.9 88.2,1105.7 89.2,1105.4 90.4,1104.6 91.5,1103.0 92.7,1101.0 93.8,1099.0 95.0,1097.3 96.0,1095.9 97.1,1094.4 98.1,1092.9 99.2,1091.4 100.2,1089.9 101.3,1088.5 102.3,1087.2 103.4,1086.1 104.4,1085.3 105.5,1084.8 106.5,1084.6 107.7,1084.8 108.8,1085.3 110.0,1085.9 111.1,1086.7 112.2,1087.4 113.4,1088.0 114.5,1088.4 115.5,1088.9 116.6,1089.3 117.6,1089.6 118.7,1090.0 119.7,1090.4 120.8,1090.7 121.8,1091.1 122.9,1091.5 123.9,1091.8 125.0,1092.2 126.0,1092.6 127.1,1093.0 128.1,1093.5 129.2,1094.0 130.2,1094.5 131.3,1094.9 132.3,1095.3 133.4,1095.7 134.4,1096.0 135.5,1096.1 136.5,1096.2 137.7,1095.7 138.8,1094.7 140.0,1093.8 141.0,1093.2 142.0,1092.5 143.1,1091.8 144.1,1091.1 145.1,1090.5 146.1,1090.0 147.2,1089.6 148.2,1089.3 149.2,1089.2 150.2,1089.4 151.2,1089.8 152.2,1090.4 153.2,1091.0 154.2,1091.6 155.2,1092.0 156.2,1092.2 157.3,1092.1 158.5,1091.8 159.6,1091.4 160.7,1090.9 161.9,1090.6 163.0,1090.4 164.0,1090.3 165.1,1090.3 166.1,1090.2 167.1,1090.1 168.2,1090.1 169.2,1090.1 170.2,1090.0 171.3,1090.0 172.3,1090.0 173.5,1090.6 174.7,1092.0 175.8,1093.7 177.0,1095.0 178.1,1095.9 179.3,1096.7 180.4,1097.4 181.6,1098.0 182.7,1098.5 183.9,1098.9 185.0,1099.2 186.2,1099.5 187.3,1099.7 188.5,1100.0 189.5,1100.2 190.5,1100.5 191.6,1100.7 192.6,1100.9 193.6,1101.1 194.6,1101.3 195.7,1101.5 196.7,1101.7 197.7,1102.0 198.7,1102.3 199.8,1102.8 200.8,1103.3 201.8,1103.8 202.9,1104.3 203.9,1104.7 204.9,1105.1 206.0,1105.3 207.0,1105.4 208.0,1105.3 209.0,1105.1 210.1,1104.8 211.1,1104.4 212.1,1104.0 213.1,1103.6 214.2,1103.3 215.2,1103.1 216.2,1103.0 217.2,1103.1 218.2,1103.4 219.3,1103.9 220.3,1104.5 221.3,1105.0 222.3,1105.6 223.4,1106.1 224.4,1106.4 225.4,1106.5 226.6,1106.1 227.7,1104.9 228.9,1103.2 230.0,1101.2 231.2,1099.2 232.3,1097.3 233.3,1095.7 234.3,1093.9 235.4,1092.0 236.4,1090.1 237.4,1088.1 238.4,1086.2 239.5,1084.4 240.5,1082.7 241.5,1081.2 242.5,1079.7 243.5,1078.2 244.5,1076.7 245.6,1075.2 246.6,1073.9 247.6,1072.9 248.6,1072.2 249.6,1072.0 250.7,1072.1 251.7,1072.6 252.8,1073.2 253.8,1073.9 254.9,1074.8 255.9,1075.7 257.0,1076.5 258.1,1077.5 259.3,1078.6 260.4,1079.9 261.5,1081.2 262.7,1082.4 263.8,1083.5 265.0,1084.6 266.1,1085.8 267.3,1086.9 268.4,1087.7 269.6,1088.0 270.8,1087.9 271.9,1087.5 273.1,1086.9 274.2,1086.3 275.4,1085.8 276.6,1085.2 277.7,1084.5 278.9,1083.7 280.0,1083.2 281.2,1083.0 282.4,1083.8 283.5,1085.7 284.7,1088.2 285.8,1090.8 287.0,1092.7 288.1,1094.1 289.3,1095.3 290.4,1096.5 291.6,1097.5 292.7,1098.5 293.7,1099.4 294.8,1100.3 295.8,1101.2 296.8,1102.2 297.9,1103.0 298.9,1103.8 299.9,1104.4 300.9,1105.0 302.0,1105.3 303.0,1105.4 304.0,1105.4 305.0,1105.3 306.0,1105.2 307.0,1105.1 308.0,1104.9 309.0,1104.8 310.0,1104.7 311.0,1104.7 312.0,1104.8 313.0,1105.2 314.0,1105.6 315.0,1106.1 316.0,1106.5 317.0,1106.9 318.0,1107.0 319.0,1106.8 320.1,1106.1 321.1,1105.1 322.1,1104.0 323.2,1102.7 324.2,1101.4 325.2,1100.2 326.3,1099.2 327.3,1098.5 328.3,1098.0 329.4,1097.6 330.4,1097.2 331.5,1096.8 332.5,1096.5 333.5,1096.2 334.6,1095.9 335.6,1095.6 336.7,1095.3 337.7,1095.0 338.9,1094.6 340.0,1094.1 341.2,1093.7 342.3,1093.3 343.5,1093.2 344.5,1093.4 345.5,1093.8 346.5,1094.4 347.5,1095.1 348.5,1095.9 349.5,1096.5 350.5,1097.0 351.5,1097.3 352.5,1097.4 353.5,1097.5 354.5,1097.5 355.5,1097.6 356.5,1097.6 357.5,1097.7 358.5,1097.8 359.6,1098.5 360.8,1099.9 361.9,1101.7 363.1,1103.5 364.2,1104.9 365.4,1105.4 366.4,1105.4 367.5,1105.4 368.6,1105.4 369.6,1105.4 370.6,1105.4 371.7,1105.4 372.8,1105.4 373.8,1105.4 374.8,1105.4 375.8,1105.2 376.9,1105.1 377.9,1104.9 378.9,1104.7 379.9,1104.5 381.0,1104.4 382.0,1104.2 383.0,1104.2 384.0,1104.3 385.1,1104.5 386.1,1104.8 387.1,1105.2 388.2,1105.5 389.2,1105.9 390.2,1106.2 391.3,1106.4 392.3,1106.5 393.3,1106.4 394.3,1106.0 395.3,1105.5 396.4,1104.9 397.4,1104.3 398.4,1103.8 399.4,1103.3 400.4,1103.0 401.4,1102.8 402.4,1102.7 403.4,1102.6 404.4,1102.5 405.5,1102.5 406.5,1102.3 407.5,1102.2 408.5,1102.0 409.5,1101.4 410.5,1100.2 411.5,1098.5 412.5,1096.4 413.5,1094.2 414.5,1092.0 415.5,1089.8 416.5,1088.0 417.7,1086.1 418.8,1084.1 420.0,1082.2 421.1,1080.4 422.3,1078.8 423.4,1077.2 424.6,1075.6 425.7,1074.1 426.9,1073.0 428.0,1072.6 429.2,1073.0 430.3,1074.0 431.5,1075.3 432.6,1076.6 433.8,1077.7 434.8,1078.5 435.8,1079.4 436.8,1080.3 437.8,1081.0 438.8,1081.7 439.8,1082.1 440.8,1082.3 441.9,1082.0 443.1,1081.1 444.2,1080.0 445.4,1078.8 446.5,1077.7 447.7,1076.5 448.8,1075.2 450.0,1073.9 451.1,1073.0 452.3,1072.6 453.4,1073.0 454.6,1074.1 455.8,1075.6 456.9,1077.5 458.1,1079.4 459.2,1081.2 460.2,1082.8 461.2,1084.5 462.2,1086.3 463.2,1088.2 464.2,1090.1 465.2,1092.0 466.2,1093.8 467.4,1096.2 468.5,1098.9 469.7,1101.4 470.8,1103.3 472.0,1104.0 473.1,1104.0 474.3,1104.0 475.4,1104.0 476.6,1104.0 477.7,1104.0 478.9,1103.9 480.0,1103.6 481.2,1103.4 482.3,1103.1 483.5,1103.0 484.6,1103.2 485.8,1103.8 486.9,1104.4 488.1,1105.1 489.2,1105.4 490.3,1105.5 491.4,1105.6 492.5,1105.7 493.7,1105.8 494.8,1105.9 495.9,1105.9 497.0,1106.0 498.0,1106.1 499.1,1106.2 500.1,1106.2 501.2,1106.3 502.2,1106.4 503.2,1106.5 504.3,1106.6 505.3,1106.7 506.4,1106.7 507.4,1106.8 508.5,1106.9 509.5,1107.0"/>
<rect x="29.5" y="1007.6" width="480.0" height="187.80000000000007" fill="none" stroke="#333" stroke-width="1.6"/>
<line x1="82.8" y1="1007.6" x2="82.8" y2="1013.1" stroke="#222" stroke-width="1.3"/>
<line x1="82.8" y1="1195.4" x2="82.8" y2="1189.9" stroke="#222" stroke-width="1.3"/>
<line x1="136.2" y1="1007.6" x2="136.2" y2="1013.1" stroke="#222" stroke-width="1.3"/>
<line x1="136.2" y1="1195.4" x2="136.2" y2="1189.9" stroke="#222" stroke-width="1.3"/>
<line x1="189.5" y1="1007.6" x2="189.5" y2="1013.1" stroke="#222" stroke-width="1.3"/>
<line x1="189.5" y1="1195.4" x2="189.5" y2="1189.9" stroke="#222" stroke-width="1.3"/>
<line x1="242.8" y1="1007.6" x2="242.8" y2="1013.1" stroke="#222" stroke-width="1.3"/>
<line x1="242.8" y1="1195.4" x2="242.8" y2="1189.9" stroke="#222" stroke-width="1.3"/>
<line x1="296.2" y1="1007.6" x2="296.2" y2="1013.1" stroke="#222" stroke-width="1.3"/>
<line x1="296.2" y1="1195.4" x2="296.2" y2="1189.9" stroke="#222" stroke-width="1.3"/>
<line x1="349.5" y1="1007.6" x2="349.5" y2="1013.1" stroke="#222" stroke-width="1.3"/>
<line x1="349.5" y1="1195.4" x2="349.5" y2="1189.9" stroke="#222" stroke-width="1.3"/>
<line x1="402.8" y1="1007.6" x2="402.8" y2="1013.1" stroke="#222" stroke-width="1.3"/>
<line x1="402.8" y1="1195.4" x2="402.8" y2="1189.9" stroke="#222" stroke-width="1.3"/>
<line x1="456.2" y1="1007.6" x2="456.2" y2="1013.1" stroke="#222" stroke-width="1.3"/>
<line x1="456.2" y1="1195.4" x2="456.2" y2="1189.9" stroke="#222" stroke-width="1.3"/>
<line x1="29.5" y1="1015.4" x2="31.7" y2="1015.4" stroke="#222" stroke-width="1.3"/>
<line x1="29.5" y1="1038.5" x2="31.7" y2="1038.5" stroke="#222" stroke-width="1.3"/>
<line x1="29.5" y1="1061.5" x2="31.7" y2="1061.5" stroke="#222" stroke-width="1.3"/>
<line x1="29.5" y1="1083.5" x2="31.7" y2="1083.5" stroke="#222" stroke-width="1.3"/>
<line x1="29.5" y1="1105.4" x2="31.7" y2="1105.4" stroke="#222" stroke-width="1.3"/>
<line x1="29.5" y1="1128.5" x2="31.7" y2="1128.5" stroke="#222" stroke-width="1.3"/>
<line x1="29.5" y1="1150.4" x2="31.7" y2="1150.4" stroke="#222" stroke-width="1.3"/>
<line x1="29.5" y1="1173" x2="31.7" y2="1173" stroke="#222" stroke-width="1.3"/>
<line x1="509.5" y1="1016" x2="507.3" y2="1016" stroke="#222" stroke-width="1.3"/>
<line x1="509.5" y1="1039" x2="507.3" y2="1039" stroke="#222" stroke-width="1.3"/>
<line x1="509.5" y1="1061.5" x2="507.3" y2="1061.5" stroke="#222" stroke-width="1.3"/>
<line x1="509.5" y1="1083.8" x2="507.3" y2="1083.8" stroke="#222" stroke-width="1.3"/>
<line x1="509.5" y1="1106.6" x2="507.3" y2="1106.6" stroke="#222" stroke-width="1.3"/>
<line x1="509.5" y1="1128.8" x2="507.3" y2="1128.8" stroke="#222" stroke-width="1.3"/>
<line x1="509.5" y1="1150.8" x2="507.3" y2="1150.8" stroke="#222" stroke-width="1.3"/>
<text x="90.4" y="23" font-size="12.5" letter-spacing="0.5" font-family='"Liberation Sans", sans-serif' stroke-width="0.15" fill="#44d944" stroke="#44d944">no137 t-phase</text><text x="90.4" y="39.2" font-size="12.5" letter-spacing="0.5" font-family='"Liberation Sans", sans-serif' stroke-width="0.15" fill="#ec2f36" stroke="#ec2f36">no29 o-phase</text><text x="90.4" y="55.4" font-size="12.5" letter-spacing="0.5" font-family='"Liberation Sans", sans-serif' stroke-width="0.15" fill="#222" stroke="#222">no14 m-phase</text>
<text x="40.7" y="265" font-size="12.5" letter-spacing="0.5" font-family='"Liberation Sans", sans-serif' stroke-width="0.15" fill="#44d944" stroke="#44d944">no137 t-phase</text><text x="40.7" y="281.2" font-size="12.5" letter-spacing="0.5" font-family='"Liberation Sans", sans-serif' stroke-width="0.15" fill="#ec2f36" stroke="#ec2f36">no29 o-phase</text><text x="40.7" y="297.4" font-size="12.5" letter-spacing="0.5" font-family='"Liberation Sans", sans-serif' stroke-width="0.15" fill="#222" stroke="#222">no14 m-phase</text>
<text x="173" y="525.5" font-size="12.5" letter-spacing="0.5" font-family='"Liberation Sans", sans-serif' stroke-width="0.15" fill="#44d944" stroke="#44d944">no137 t-phase</text><text x="173" y="541.7" font-size="12.5" letter-spacing="0.5" font-family='"Liberation Sans", sans-serif' stroke-width="0.15" fill="#ec2f36" stroke="#ec2f36">no29 o-phase</text><text x="173" y="557.9" font-size="12.5" letter-spacing="0.5" font-family='"Liberation Sans", sans-serif' stroke-width="0.15" fill="#222" stroke="#222">no14 m-phase</text>
<text x="125.6" y="780.6" font-size="12.5" letter-spacing="0.5" font-family='"Liberation Sans", sans-serif' stroke-width="0.15" fill="#44d944" stroke="#44d944">no137 t-phase</text><text x="125.6" y="796.8000000000001" font-size="12.5" letter-spacing="0.5" font-family='"Liberation Sans", sans-serif' stroke-width="0.15" fill="#ec2f36" stroke="#ec2f36">no29 o-phase</text><text x="125.6" y="813.0" font-size="12.5" letter-spacing="0.5" font-family='"Liberation Sans", sans-serif' stroke-width="0.15" fill="#222" stroke="#222">no14 m-phase</text>
<text x="142.8" y="1032.7" font-size="12.5" letter-spacing="0.5" font-family='"Liberation Sans", sans-serif' stroke-width="0.15" fill="#44d944" stroke="#44d944">no137 t-phase</text><text x="142.8" y="1048.9" font-size="12.5" letter-spacing="0.5" font-family='"Liberation Sans", sans-serif' stroke-width="0.15" fill="#ec2f36" stroke="#ec2f36">no29 o-phase</text><text x="142.8" y="1065.1000000000001" font-size="12.5" letter-spacing="0.5" font-family='"Liberation Sans", sans-serif' stroke-width="0.15" fill="#222" stroke="#222">no14 m-phase</text>
<text x="0" y="0" font-size="19.8" fill="#222" text-anchor="middle" font-family='"Liberation Sans", sans-serif' transform="translate(15.9,92.6) rotate(-90)">Intensity</text>
<text x="0" y="0" font-size="19.8" fill="#222" text-anchor="middle" font-family='"Liberation Sans", sans-serif' transform="translate(17.1,335.6) rotate(-90)">Intensity</text>
<text x="0" y="0" font-size="19.8" fill="#222" text-anchor="middle" font-family='"Liberation Sans", sans-serif' transform="translate(17.3,602) rotate(-90)">Intensity</text>
<text x="0" y="0" font-size="19.8" fill="#222" text-anchor="middle" font-family='"Liberation Sans", sans-serif' transform="translate(17.3,848.2) rotate(-90)">Intensity</text>
<text x="0" y="0" font-size="19.8" fill="#222" text-anchor="middle" font-family='"Liberation Sans", sans-serif' transform="translate(17.3,1107.8) rotate(-90)">Intensity</text>
<text x="82.3" y="1211.3" font-size="12" fill="#222" text-anchor="middle" font-family='"Liberation Sans", sans-serif'>300</text><text x="189" y="1211.3" font-size="12" fill="#222" text-anchor="middle" font-family='"Liberation Sans", sans-serif'>400</text><text x="295.6" y="1211.3" font-size="12" fill="#222" text-anchor="middle" font-family='"Liberation Sans", sans-serif'>500</text><text x="402" y="1211.3" font-size="12" fill="#222" text-anchor="middle" font-family='"Liberation Sans", sans-serif'>600</text><text x="508.5" y="1211.3" font-size="12" fill="#222" text-anchor="middle" font-family='"Liberation Sans", sans-serif'>700</text>
<text x="194.4" y="1238.5" font-size="19.3" letter-spacing="0.18" fill="#111" font-family='"Liberation Sans", sans-serif'>Raman shift [cm<tspan font-size="12" dy="-7">-1</tspan><tspan dy="7">]</tspan></text>
<line x1="422" y1="21.5" x2="455.8" y2="21.5" stroke="#222" stroke-width="1.3"/><text x="461" y="25.8" font-size="15" fill="#222" font-family='"Liberation Sans", sans-serif'><tspan dy="0">HfO</tspan><tspan font-size="10.5" dy="5" fill-opacity="0.85">2</tspan></text>
<line x1="371.5" y1="267.3" x2="406" y2="267.3" stroke="#e8343c" stroke-width="1.3"/><text x="411" y="271.8" font-size="15" fill="#e8343c" font-family='"Liberation Sans", sans-serif'><tspan dy="0">Hf</tspan><tspan font-size="10.5" dy="5" fill-opacity="0.85">0.75</tspan><tspan dy="-5">Zr</tspan><tspan font-size="10.5" dy="5" fill-opacity="0.85">0.25</tspan><tspan dy="-5">O</tspan><tspan font-size="10.5" dy="5" fill-opacity="0.85">2</tspan></text>
<line x1="312" y1="522" x2="345" y2="522" stroke="#2b2bd6" stroke-width="1.3"/><text x="351.3" y="525.5" font-size="15" fill="#2b2bd6" font-family='"Liberation Sans", sans-serif'><tspan dy="0">Hf</tspan><tspan font-size="10.5" dy="5" fill-opacity="0.85">0.5</tspan><tspan dy="-5">Zr</tspan><tspan font-size="10.5" dy="5" fill-opacity="0.85">0.5</tspan><tspan dy="-5">O</tspan><tspan font-size="10.5" dy="5" fill-opacity="0.85">2</tspan></text>
<line x1="366.7" y1="796.7" x2="399" y2="796.7" stroke="#3a9a3a" stroke-width="1.3"/><text x="403.1" y="802" font-size="15" fill="#3a9a3a" font-family='"Liberation Sans", sans-serif'><tspan dy="0">Hf</tspan><tspan font-size="10.5" dy="5" fill-opacity="0.85">0.25</tspan><tspan dy="-5">Zr</tspan><tspan font-size="10.5" dy="5" fill-opacity="0.85">0.75</tspan><tspan dy="-5">O</tspan><tspan font-size="10.5" dy="5" fill-opacity="0.85">2</tspan></text>
<line x1="422.8" y1="1028.8" x2="457" y2="1028.8" stroke="#942fa4" stroke-width="1.3"/><text x="461.7" y="1032.8" font-size="15" fill="#942fa4" font-family='"Liberation Sans", sans-serif'><tspan dy="0">ZrO</tspan><tspan font-size="10.5" dy="5" fill-opacity="0.85">2</tspan></text>
<text x="0" y="0" font-size="22.2" fill="#111" text-anchor="middle" font-family='"Liberation Sans", sans-serif' transform="translate(260.9,219.7) scale(0.93,1)">(a)</text>
<text x="0" y="0" font-size="22.2" fill="#111" text-anchor="middle" font-family='"Liberation Sans", sans-serif' transform="translate(261,471.4) scale(0.93,1)">(b)</text>
<text x="0" y="0" font-size="22.2" fill="#111" text-anchor="middle" font-family='"Liberation Sans", sans-serif' transform="translate(260.3,723.3) scale(0.93,1)">(c)</text>
<text x="0" y="0" font-size="22.2" fill="#111" text-anchor="middle" font-family='"Liberation Sans", sans-serif' transform="translate(260.9,974.2) scale(0.93,1)">(d)</text>
<text x="0" y="0" font-size="22.2" fill="#111" text-anchor="middle" font-family='"Liberation Sans", sans-serif' transform="translate(260.9,1279.2) scale(0.93,1)">(e)</text>
</g>
</svg>
</body></html>
